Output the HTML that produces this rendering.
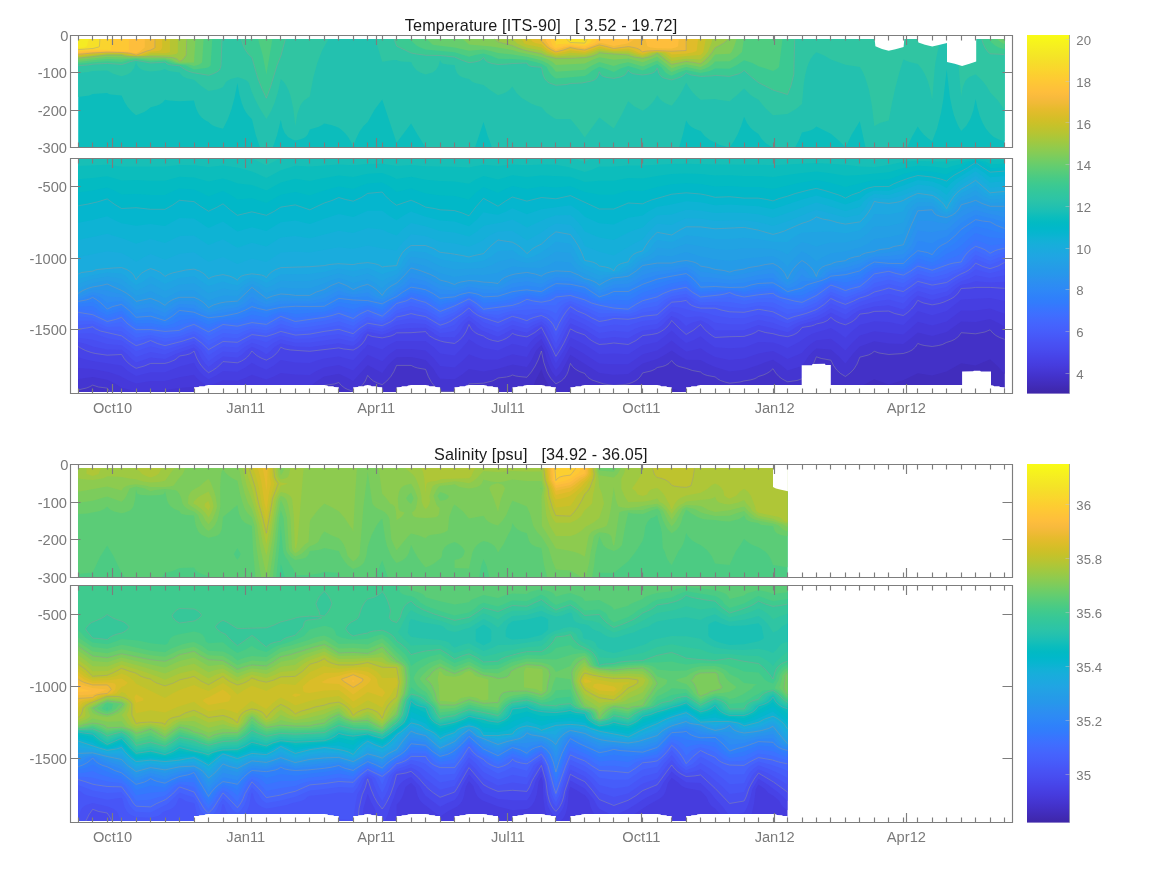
<!DOCTYPE html>
<html><head><meta charset="utf-8"><title>Temperature and Salinity sections</title>
<style>html,body{margin:0;padding:0;background:#fff;width:1167px;height:875px;overflow:hidden}</style></head>
<body>
<svg width="1167" height="875" viewBox="0 0 1167 875" style="display:block;position:absolute;left:0;top:0">
<rect width="1167" height="875" fill="#fff"/>
<g fill-rule="evenodd" stroke="none">
<rect x="78.2" y="39" width="926.4" height="108.5" fill="#0cbdbc"/>
<path fill="#23c1af" d="M78.2 39l926.4 0 0 102.3-5.8-1.8-5-2.5-3.7-3.2-4.3-5.3-3.1-5.5-2.9-7-2.3-8-1.9-9-2.3 11.5-3 8.5-3.8 6.5-5.3 5.4-2.9-4.9-2.2-5-2.2-6-1.8-7-2.3-11.5-3.1-27.1-3.4 30.1-2.3 13.5-3.9 15.5-4.9 12.7-4.6-3.2-3.9-3.5-3.3-4-2.6-4.1-5.7 10.1-5 11-41.6 0-5.7-26.3-8.1 13.3-6.3 13-0.1-0.5-5.5-5.5-8.9-7.7-14.5-7.4-2.3 2.1-2.7 1.5-2.9 1-6.5 1.4-3.2 8.1-3.8 7-22 0-4.7-2.5-3.3-2.5-3.7-4-2.8-4.6-4.4-2.9-3.4-3-3.7-5-2.9-6.2-3 9.2-3.3 8-3.8 7-4.4 6.5-9.6-2.5-10.2-5-5.1-4-4.1-5.1-5.5-1.9-4.3-2.5-2.5-2.5-2.1-3.5-3.5 14.5-3.6 12.5-187.1 0-4.4-12-4.1-13.5-8.5 25.5-49.4 0-8.4-13.5-6.1-10.6-14.5 19.3-14.4-43.3-7.5 10.1-7 12.4-4.6 4.6-3.5 5-3.7 7.5-2.7 8.5-1.9-5-2.8-5-3.1-4-3.7-3.5-2.9-2.2-3.1-1.3-4.5-1.5-6.9-1.6-3 2.1-3.2 1.5-8.3 2.4-2.1 5.1-1.7 2-2.1 1.5-3.9 1.5-4.7 1-2.8-1-4.4-2.5-3.4-4-2.3-5.5-1.6-7.7-3.7 15.2-4.3 12.5-12.8 0-4.4-13-3.7-15.5-3.1-3-2.7-3.5-2.2-4-2-5-2.5-9-2-11.6-2.8 14.6-3.2 12-3.7 10-4.7 9.2-6.5-1.7-3.6-1.5-2.3-1.5-2.1-2-3.7-2-3.2-2.5-2.5-3-1.9-3.5-1.7-4.5-1.5-6-14.5 0.8-10.8-0.8-3.7-0.7-2.4 2.7-3 2-4 1.5-5 1.2-3.3 2.8-3.1 2-8.1 3.3-4.5-3.8-3.9-4.5-3.1-5-3-6.6-10.7-0.9-2-0.5-1.7-1-14.5 0.9-3.5 1.6-11 1.4z"/>
<path fill="#30c5a2" d="M78.2 39l250.4 0-6.5 11.5-4.8 12.5-4.1 15-3.4 18.5-5.8 4-2.1 2.5-1.8 3-2.8 8-2 12.1-2.1-18.1-2.9-13-1.9-5-2.2-4.5-2.4-3.5-3-3-3 13.5-3.1 10-3.8 9-4.5 7.5-5.7-9-5.1-9.5-3.8-8.5-3.1-9.5-2.8-2.5-5.4-2-3.1-0.7-6.4 1.7-3.1 1.5-1.9 1.5-3 5.1-1.7 0.9-4.4 1.5-8.4 1.4-7.9-5.4-6.6-5.7-6.5-1.3-4.5-2-1.7-1.5-1.8-2.6-10.5-1.4-2.5-1-1.5-1-4.5 1.5-9.9 1-6.1-1-2.9-1-2.8-2-1.7-2.5-1-3-1.8 5.5-2.7 4-1.8 1.5-2.6 1.5-5.6 1.8-7.8-2.3-6.6-3.6-14.5 0.5-4.2 1.1-10.3 1zM375.3 39l566.1 0-3.3 10-2.5 12.5-1 8-2.4 30.1-2-10.1-2.4-8.5-3-7-3.3-5.5-3.7-4.4-8.3-2.1-6.2-2.4-4.1 13.4-3.8 14.5-3.4 15.5-3.2 17.4-9 2.6-5.5 3.2-2.4-20.7-3-16-3.9-12.5-2.5-5.5-2.6-4.5-14.5-2.2-14.5-5.2-6.7-4.1-7.8-3.3-3.3 3.3-2.5 3.5-2.2 4.5-1.8 5.5-1.5 6.5-1.3 8-1.8 20.5-6 5-8.5 4.9-14.5 1.4-7.8-7.3-6.7-8.2-4.9-2.8-3.6-2.5-5.9-5.9-7 6.4-7.5 6.2-9.5-1.2-5-1-14.5 0.7-4.4-3.7-3.4-3.5-3.4-4.5-3.2-5.2-3.6 7.2-3.2 5.5-3.5 5-4.2 5.2-5.7-2.2-3.4-2-2.7-2.5-2.7-3.7-2.8 4.7-3.2 4-3.7 3.5-4.8 3.3-8.2-4.3-6.3-5.3-7 14.3-7.4 13.1-14.5-11.1-14.5 20-6.9-9.5-7.5-9-14.5 0-2.8-1.5-6.4-4.5-5.3-5.9-5.5-1.6-4.9-2-9.2-5.5-5.2-5-4.2-6.6-2.6 3.1-3.3 2.5-3.1 1.5-5.4 1.8-8-5.3-6.5-5.1-8.5-1.9-3.1-1.5-2.8-2.5-4.5-1-3.8-1.5-2.1-1.5-1.9-2.5-1.2-3-1-4.5-7.2-0.5-4.9-1-1.6-1.5-0.8-2-1.7 6-2.5 4-3.5 2.5-6.8 2-5.4-2-3.8-2.5-3-3.5-2.3-4.5-9.4-0.5-3-0.5-2.1-1.1-3 0.1-11.4 1.7zM952 39l52.6 0 0 71-6.7-9.5-7.8-8.2-3-5.3-3.3-4.5-3.6-4-4.6-4.2-6.2 2.7-2.5 2-1.6 2-2.5 6-1.6 9.6-2.3-27.1-1.2-9-2.5-12z"/>
<path fill="#3bc992" d="M78.2 39l143.8 0-1.1 27-1.4 4-1.2 1-4.5 2.5-5.3 1.8-16.3-2.8-7.3-3-5.4-3.7-10.9-1.3-2.2-1-1.4-1.5-3.6 0.5-10.8 0.5-14.5-2.6-5.5 1.1-5.1 2-3.9 1-14.4-1.1-14.5 0.8-4.4 0.8-10.1 0.7zM241.3 39l44.1 0-4.4 16.5-3.8 9.5-6.9 22.5-3.9 10.7-4.1-8.7-3.8-9.5-6.6-22.6-3.7-3.4-2.8-4-2.3-5zM394.1 39l400.6 0-0.9 35.5-2.9 11.5-3.4 8.5-14.5-4.5-14.5-7.4-14.4-12.2-2.8 2.1-3.1 1.5-8.6 2.4-14.5-1-4.2 0.6-10.3 0.4-9.2-1.4-5.2-2.2-3 2.7-2.6 1.5-8.9 2.9-6.4-1.4-4.1-2-2.3-3-1.7-5.5-1.6 3-2.9 2-3.5 1-6.5 1-10.4-1.5-2.6-1.5-1.4-2.1-2 3.6-2.3 2-3.6 1.5-6.6 1.4-6.7-0.9-3.7-1-2.7-2-1.4-2.9-1.1 3.9-1.4 2.5-2.5 2-2.5 1-9.9 2-11.6 0.5-3.6 1-10.8 0.8-6.5-2.3-3.7-3-1.3-2-1.3-3-1.7-7.7-11.5-1.3-1.8-1-1.2-2-14.5 0.5-14.4 1-6.1-1-4.3-1.5-2.5-2-1.6-2.5-1.8 2-2.9 1.5-9.8 1.7-7.7-2.7-6.7-3-14.5-1.5-14.5-0.2-9.3-1.3-5.2-1-14.5-7zM981.7 39l22.9 0 0 15.5-14.5-0.7-2.8-2.8-2.4-3.5-1.8-4z"/>
<path fill="#4fcc80" d="M78.2 39l134.1 0-1.7 26.5-2.1 1.7-2.7 0.8-11.8 1.5-8.1-4-13.6-2-7.3-2.9-14.4 0.8-14.5-1.9-9.1 1-5.4 1.5-14.4-0.8-14.5 1-14.5 1.5zM258 39l14.4 0-6 35.4-3.7-19.4zM409.3 39l373.2 0-3.5 28-2.3 2-3.7 1.9-14.5-4.7-6-3.2-8.4-2.7-7.1 4.7-7.4 3.7-14.5-0.3-5.2 2.6-9.3 2.1-14.4-3.2-7.5 2.6-7 3.3-3.2-1.3-3-2-4-5-4.3-3.4-14.5 6.5-14.5-4.6-7.7 2.5-6.7 3.6-7.5-3.1-7-2.2-7.6 4.2-3.5 3-3.4 2-28.9 2.4-2.7-1.9-2.5-2.5-2.1-3-1.9-4-5.3-3.3-6.1-1.7-8.4-2.1-14.5-1-14.4-0.1-6.3-2.8-8.2-2.5-8.3 1.5-6.2 1.7-14.4-4.4-29-2.9-5.4-1.9-3.7-2zM989.2 39l15.4 0 0 10.3-5.8-1.8-3.8-2-3.5-3z"/>
<path fill="#67cd6d" d="M78.2 39l125.4 0-1.5 23.5-2.8 2-5.3 1.6-5.1-1.6-9.4-0.8-3.8-0.7-6.5-2.5-4.2-1.1-14.4 0.4-14.5-1.3-9.4 0.5-5.1 0.6-14.4-0.5-14.5 1.1-14.5 1.7zM426.7 39l317.2 0-1.9 13-5.1 4.5-7.3 4.7-14.5 0.3-2.3 2.5-3.4 2.5-4.1 2-4.7 1.5-14.4-2.9-8.3 2.4-6.2 2.5-3-2-2.6-2.5-8.9-7.1-14.5 6.1-14.5-4.2-8.5 1.7-5.9 1.9-14.5-3.9-7.4 3.5-7.1 4.3-28.9 1.9-3.8-4.7-4.4-3.5-6.3-3.1-5.3-1.4-9.2-2.2-14.5-2.3-14.4-1.4-7.3-2.1-7.2-1.5-14.5 1.3-14.4-3.2-20.5-2.6-1.6-0.5zM996.9 39l7.7 0 0 5.2-4-2.2z"/>
<path fill="#81cc58" d="M78.2 39l117.3 0-1.5 23.5-14.5 0.3-3.2-0.8-4.7-2.5-6.6-1.3-14.4 0-43.4-1.2-29 3zM462.8 39l273.8 0-2.6 8-2.7 5.5-1.7 1.2-14.5 0.9-3.4 4.4-3.4 3.5-1.8 1.5-3.7 2-2.2 0.9-14.4-2.7-7.6 1.8-6.9 2.2-14.5-11.5-14.5 5.6-14.5-3.7-14.4 1.2-14.5-2.5-7.2 2.7-7.3 3.6-28.9 1.3-4-3.4-6-3-6.8-2-20.4-4.5-6.3-2-20.8-3.5-22.6-1.9z"/>
<path fill="#9cc944" d="M78.2 39l108.5 0-0.5 16-2.9 4-2.4 2-1.4 0.6-2.5-2.6-2.7-1-2.8-0.5-6.5-0.5-35-0.5-5.5-0.5-2.9-1-14.4 0-29 3.2zM494.4 39l233.9 0-5.4 4.5-7.8 4.2-3.1 4.8-3.2 4-4 4-4.2 3.3-14.4-2.4-14.5 3-14.5-11.4-2.1 1.5-3.1 1.5-9.3 2.3-8.4-1.3-6.1-2.1-21-1.4-7.9-0.9-2.1 1.4-3.3 1.5-9.1 2-14.4 0.8-14.5 0-9.7-2.3-4.8-2.3-19-4.2-10-4-13.8-3.5z"/>
<path fill="#b5c533" d="M78.2 39l99.7 0 0 13-0.5 1-1.3 1-6.7 1-18.8 0-6 1-8.5 0.3-9.2-0.8-5.3-1.2-14.4-0.1-29 3zM511.8 39l200.5 0-0.5 3-4 10-3 3.5-4.2 3.9-14.4-0.6-14.5 2.3-10.3-8.1-4.2-0.6-4.2 0.6-4.1 2-6.2 1.7-5.9-1.2-8.6-2.7-14.4-0.4-14.5-1.8-8.8 3.4-5.7 1.6-14.4-0.1-14.5 1.1-8.8-2.6-5.7-3.4-14.5-2.9-4.7-1.7-4.9-2.5-3.2-3z"/>
<path fill="#ccc028" d="M78.2 39l91.7 0 0 13-0.9 0.5-4 0.8-14.4 0-4.7 1.7-9.8 0.9-5-0.4-9.5-1.8-14.4-0.1-14.5 1.1-14.5 1.6zM521.6 39l184.2 0-2.5 13-2.7 2.9-14.4 1.2-14.5 1.7-6.1-4.8-2.4-0.5-6-0.6-5.6 0.6-2.7 0.5-6.2 2.2-8.3-2.2-6.2-2.2-14.4 0.3-14.5-2.4-14.5 5-14.4-0.9-5.7 1.2-8.8 1.1-8.3-3.1-6.2-4.6-14.5-2.8-2.5-1.1z"/>
<path fill="#e0bc2a" d="M78.2 39l84 0 0 8.5-1.3 2.5-1.1 0.5-1.9 0.5-7.3 0.7-9.3 3.3-4.1 0.5-1.9 0-6.8-1.5-6.9-0.9-14.4-0.2-14.5 0.9-14.5 1.6zM531.1 39l167 0-1.4 11.5-1.2 1-3.1 1-6.2 0.9-14.5 1.1-1.9-1.5-1.3-0.5-2.3-0.5-9-0.7-7.9 0.7-6.6 1.7-4.4-1.2-5.3-2.5-4.8-1.3-14.4 1.1-7.7-1.3-6.8-1.7-14.5 5.1-14.4-1.7-6.1 1.8-8.4 1.5-4.1-1.5-3.6-2-3.4-2.5-3.4-3.2-5.9-1.3-2.3-1-1.4-1z"/>
<path fill="#f1ba37" d="M78.2 39l76.7 0 0 8.5-0.3 0.5-2.7 1.5-5.2 1.5-10.6 4.1-3-1.1-5.7-1-5.8-0.5-14.4-0.3-14.5 0.8-14.5 1.4zM540.7 39l145.5 0 0 11.5-14.5 0.7-14.5-0.6-10.5 0.4-3 0.5-1 0.6-1.6-1.6-2.3-1.5-7.1-2-3.5-0.4-14.4 1.9-14.5-3.7-14.5 5.2-7.5-1-7-1.5-6.8 2.5-7.6 1.9-4.8-2.4-4.3-3-2.5-3-2.9-2.5z"/>
<path fill="#febe3c" d="M78.2 39l66.6 0 0 8.5-5.6 4.5-3.1 1.3-8.8-1.3-20.1-0.5-14.5 0.4-14.5 1.3zM545.7 39l88.7 0-4 3-3 1.5-13.6 2.6-10-2.6-4.5-0.8-5.1 2.3-9.4 3.3-14.4-2-6.2 1.2-8.3 2.6-6-3.6-3.9-5.5zM645.4 39l33.4 0-0.7 7-0.3 0.5-2.3 1-3.8 1-14.5-0.2-6.5-0.8-3-1-0.5-0.5z"/>
<path fill="#fec834" d="M78.2 39l50.7 0 0 11-0.5 0.5-6.8 0.3-28.9 0-14.5 1.2zM550.4 39l46.7 0-1.2 3-2.7 1.5-8.4 3.2-14.4-1.7-6.4 1-8.1 2.2-3.2-2.2-2.1-5z"/>
<path fill="#fad42e" d="M78.2 39l32.6 0 0 11-18.1-0.4-14.5 1.2zM555.1 39l37.1 0-1.1 2.5-1.5 1.5-4.8 2-14.4-1.2-10.5 0.2-3 0.5-1 1.5z"/>
<path fill="#f6e028" d="M78.2 39l21.7 0-0.5 7.5-2.1 1-4.4 1-14.7 1.1zM566.4 39l20.8 0-2.4 4.1-14.6-0.6z"/>
<path fill="#f5eb23" d="M78.2 39l10.6 0-2.1 7.5-2.9 1-5.6 0.6z"/>
<path fill="none" stroke="#969696" stroke-width="0.7" stroke-opacity="0.62" d="M222 39l-1 26.5-0.8 3-0.7 1.5-2.7 2-3 1.5-5.3 1.8-16.3-2.8-4.2-1.5-3.1-1.5-5.4-3.7-8.4-0.8-2.5-0.5-2.2-1-1.4-1.5-3.6 0.5-10.8 0.5-14.5-2.6-5.5 1.1-5.1 2-3.9 1-14.4-1.1-14.5 0.8-4.4 0.8-10.1 0.7M285.4 39l-4.4 16.5-3.8 9.5-6.9 22.5-3.9 10.7-4.1-8.7-3.8-9.5-1.8-5.5-4.8-17.1-3.7-3.4-2.8-4-2.3-5-1.8-6M794.7 39l-0.9 35.5-2.9 11.5-3.4 8.5-14.5-4.5-14.5-7.4-7-5.6-7.4-6.6-2.8 2.1-3.1 1.5-8.6 2.4-14.5-1-4.2 0.6-10.3 0.4-9.2-1.4-3-1-2.2-1.2-3 2.7-2.6 1.5-4 1.5-4.9 1.4-6.4-1.4-2.5-1-1.6-1-1.4-1.5-0.9-1.5-1.7-5.5-1.6 3-1.1 1-1.8 1-3.5 1-6.5 1-8.3-1-2.1-0.5-2.6-1.5-1.4-2.1-2 3.6-2.3 2-3.6 1.5-6.6 1.4-6.7-0.9-3.7-1-1.7-1-1-1-1.4-2.9-1.1 3.9-1.4 2.5-2.5 2-2.5 1-9.9 2-11.6 0.5-3.6 1-10.8 0.8-6.5-2.3-2.2-1.5-1.5-1.5-1.3-2-1.3-3-1.7-7.7-9.3-0.8-2.2-0.5-1.8-1-1.2-2-14.5 0.5-4.1 0.5-10.3 0.5-6.1-1-4.3-1.5-2.5-2-1.6-2.5-1.8 2-2.9 1.5-4.2 1-5.6 0.7-7.7-2.7-6.7-3-14.5-1.5-14.5-0.2-9.3-1.3-5.2-1-14.5-7-2.5-7M1004.6 54.5l-14.5-0.7-2.8-2.8-2.4-3.5-1.8-4-1.4-4.5M186.7 39l-0.5 16-1.2 2-1.7 2-2.4 2-1.4 0.6-1.2-1.6-1.3-1-2.7-1-2.8-0.5-6.5-0.5-14.4-0.3-14.5 0.1-6.1-0.3-5.5-0.5-2.9-1-14.4 0-29 3.2M728.3 39l-3.3 3-2.1 1.5-4.2 2.5-3.6 1.7-3.1 4.8-3.2 4-4 4-4.2 3.3-6.3-1.3-8.1-1.1-14.5 3-7.3-5.4-7.2-6-2.1 1.5-3.1 1.5-3.2 1-6.1 1.3-8.4-1.3-3.6-1-2.5-1.1-21-1.4-7.9-0.9-2.1 1.4-3.3 1.5-3.7 1-5.4 1-14.4 0.8-14.5 0-9.7-2.3-4.8-2.3-14.5-2.9-4.5-1.3-5.7-2-4.3-2-13.8-3.5-1.1-0.5-3.1-2.5M154.9 39l0 8.5-0.3 0.5-4 2-3.9 1-10.1 4-0.9 0-4.8-1.5-3.5-0.5-5.8-0.5-14.4-0.3-14.5 0.8-14.5 1.4M686.1 39l0 11.5-14.5 0.7-14.5-0.6-10.5 0.4-3 0.5-1 0.6-1.6-1.6-2.3-1.5-2.7-1-4.4-1-3.5-0.4-14.4 1.9-7.1-2-7.4-1.7-14.5 5.2-7.5-1-7-1.5-6.8 2.5-7.6 1.9-4.8-2.4-4.3-3-2.5-3-2.9-2.5-0.7-2M99.9 39l-0.5 7.5-0.8 0.5-5.7 1.5-14.7 1.1M587.2 39l-2.4 4.1-14.6-0.6-3.8-3.5"/>
<rect x="78.2" y="159" width="926.4" height="233" fill="#4029b3"/>
<path fill="#412dbd" d="M78.2 159l926.4 0 0 233-11.8 0-2.7-3.2-5.6 3.2-441.5 0-1.6-4.3-1.7 4.3-461.5 0z"/>
<path fill="#4331c7" d="M78.2 159l926.4 0 0 215-6.7-7.5-7.8-7.3-14.5 6.4-14.4-2.4-14.5 8.2-14.5 4.2-14.4-2.3-14.5 7-14.5 4.3-14.5-5.3-14.5 7.8-3.2 4.9-24.1 0-1.6-2.1-3.9-2.9-10.6-6.5-6.3 11.5-126.8 0-11.6-3.4-13.3 3.4-83.5 0-4.5-3.7-2.9 3.7-16.5 0-3.2-8-3.9-7-2.5-7.7-5.7 10.7-4.6 12-113.7 0-6.3-2.8-14.5-0.2-2 3-316.4 0z"/>
<path fill="#4435d1" d="M78.2 159l926.4 0 0 180.4-5-1.9-3.7-2-3.1-2.5-2.7-3.2-5.2 2.2-9.3 1.8-14.4-1.1-2.7 3.8-4 3-8.1 3-3.9 2-3.8 1-6.5 1-7.9-1-4-1-2.5-1.1-2.3 3.6-3.3 3-4 2-4.9 1.5-14.5 1-9.8-1.5-4.7-1.7-2.8 2.2-3.1 1.5-8.6 2.2-2.7 6.8-3.1 5-3.8 4-4.8 3.5-4.9-3-3.8-3.5-3.2-4.5-2.6-5.3-9.6-1.7-4.9-1.7-3 7.2-3.2 5.5-3.4 4.5-4.8 4.8-5 1.7-9.5 1.3-5.3-2.8-3.3-2.5-3.2-3.5-2.7-4.3-3.1 2.8-3.2 2-8.2 3-4.6 2.5-13.7 3-10.6 1.2-9.1-2.7-2.7-1.5-2.7-2.1-7.8-1.4-3-1-3.7-2.5-8.3-1.5-5.7-2-7.6-2-4.4-2.5-2.9-3.5-2.8 3-3.5 2-8 2-2.9 2-3.5 1.5-8.3 1.9-1.9 3.1-2.2 2.5-2.6 2-3.8 2-4 1.4-3.1 0.6-11.3 0.9-9.9-1.4-12-4-3.9-2.5-3.2-4-5.5-2-4.2-2.5-2.6-2.5-2.1-3.1-2.3 8.1-2.9 5.5-4 4-5.3 2.9-5-5.4-4-7-3.1-9-2.4-11.5-2.8 8-3.4 7-3.8 6-4.5 5.3-8.1-0.8-6.4-1.5-2 1-3.9 1-8.5 1-5.7 3-8.8 2.2-14.5 0.7-2 2.6-2.8 2-3.7 1.5-5.9 1.4-14.5 0-5-4.4-3.5-4.5-3.3-6-2.7-7.1-8-1.4-3.2-1-3.3-1.6-14.5 0-2.7 6.1-3.1 5-4 4.5-4.6 3.7-4.9-1.7-3.9-2-3.1-2.5-2.6-3.1-2.4 5.6-3.2 4.5-3.5 3-5.4 2.9-5.5-1.9-3-1.5-3.3-2.5-2.6-3-4.4 1.5-10.1 1.4-2.2 3.6-2.4 3-209.4 0-3.1-3.9-8.8-1.1-5.7-1.9-6.2 2.9-8.3 1.9z"/>
<path fill="#4639da" d="M78.2 159l926.4 0 0 167.6-7.1-4.1-7.4-3.5-14.5 3.1-14.4-0.5-14.5 10.3-14.5 4.1-14.4-3.5-7.2 6-7.3 5.4-14.5-0.3-14.5-2.4-14.5 5.2-7.5 8.1-6.9 9-7-7.5-7.5-6.6-14.5-0.9-4.1 3.5-3.7 4-6.6 9.9-14.5 4.5-6.5-5.4-8-5.2-7.1 2.2-7.4 2.9-14.4 4.9-14.5 1.7-14.5-4.6-8-3.4-6.5-3.4-14.4-0.3-7.3-4.3-7.2-5.1-7.2 4.6-7.3 4-14.5 4.4-14.5 10.6-14.4 0.8-14.5-1.9-28.9-18.2-8.4 15.8-2.7 3.5-3.4 3-3.7-5-2.9-5.5-2.6-7-2.3-8.5-3-6-5.6 6-4 8.5-4.9 7.6-14.5-2.5-14.4 4.2-14.5 2.6-14.5-2.4-6.9 5.5-7.5 4.8-14.5-0.6-3.2-4.2-3.6-6-7.7-8.6-14.5-2.8-14.5 0.1-4 3.3-4 4-6.4 8.4-14.5-7.9-14.5 16-7.3-4-7.1-3.2-14.5 2.6-7.4 4.6-7.1 5.8-14.5-0.1-14.5-0.9-14.4 3.3-14.5-2.3-14.5 2.9-14.4-0.3-12.9 2.6-2.7 0-5.6-1.5-3.8-1.5-4-2.2-14.5 1.2-14.5 1.9-14.4 0-14.5 1.2-3.5-0.6-11-2.8-6.6-4.2-7.8-3.7-14.5-2.8-14.5 2z"/>
<path fill="#463ee1" d="M78.2 159l926.4 0 0 154.8-14.5-5.3-14.5 2-14.4 0-14.5 11-14.5 4.1-14.4-3.8-7.3 6.7-7.2 6-29-3.2-14.5 4.3-7.3 6.9-7.1 8.1-6.8-6.1-7.7-5.8-14.5 1.6-4.2 2.7-3.9 3-3.5 3.5-2.8 3.5-14.5 6.1-6.6-4.1-7.9-3.9-14.5 2.3-14.4 5.2-14.5 1.3-14.5-2.8-7.4-4.1-7.1-4.8-6.8 1.8-7.6 1.4-7.8-5.4-6.7-5.6-6.8 5.1-7.7 4.9-14.5 3.8-14.5 10-14.4 0-14.5-0.8-17.2-10.9-11.7-6.4-7 12.9-4.6 7.5-2.9 3.6-4.1-7.1-4.4-12-6-11.9-4.7 3.9-3.6 4-2.6 3.5-3.6 6.5-14.5-2.8-14.4 5.5-14.5-0.1-7.7-2.6-6.8-2.8-6.7 6.8-7.7 6.4-14.5-1.4-6.9-8.5-7.6-7.1-14.5-1.4-14.5 0.1-7.7 5.4-6.7 6.7-14.5-6.4-14.5 15.8-14.4-5.5-14.5 2.3-8 3.6-6.5 4-14.5-0.4-14.5-1.7-6.9 3.6-7.5 2.9-14.5-4.6-6.7 3.2-7.8 2.8-14.4-0.6-6.2 2.8-8.3 2.7-4.7-2.2-3.8-2.5-3.3-3-2.7-3.2-14.5 2.5-14.5 3.7-14.4 0-14.5 2.5-7.6-3-9.4-5-10.5-3.5-15.9-3-14.5-0.9z"/>
<path fill="#4743e7" d="M78.2 159l926.4 0 0 142.1-14.5-3.2-28.9 1.6-14.5 11.6-14.5 4.1-14.4-4.2-3.2 3.5-11.3 10.5-14.5-3.1-14.5-0.6-14.4 3.5-7.7 6.2-6.8 6.7-7.1-5.2-7.4-4.5-6 2-8.5 2.2-4.6 1.8-4.7 2.5-8.2 5.5-11.4 5.9-6.7-2.9-7.8-2.6-14.5-0.5-14.4 5.6-14.5 0.7-14.5-0.9-7.7-5.3-6.8-5.7-6.7 3.7-7.8 3-7.4-6-7-6.6-7.1 6.1-7.4 5.4-14.5 3-14.5 9.4-14.4-0.7-14.5 0.4-14.5-9.5-14.4-7-6.4 13-8.1 12.8-2.7-5.3-3.5-8.5-8.3-16.2-5.7 3.7-2.3 2-3.3 3.5-3.2 4.4-14.5-3.1-14.4 6.8-14.5-2.8-7.3-3.8-7.2-4.7-1.8 2.7-5.2 6-7.4 7.4-14.5-2-6.5-6.4-8-6-29 0-8.1 4-6.3 4.5-14.5-4.9-2.2 2.9-2.8 2.5-9.5 10.3-14.4-3.8-14.5 1.9-7.6 2.1-6.9 2.6-14.5-0.6-14.5-2.4-7 5.4-7.4 4.3-7.6-3.3-6.9-3.7-6.5 4.7-8 4.3-14.4-0.9-6.8 4.6-7.7 3.7-4.5-3.2-4.6-4.5-2.9-4-2.5-4.7-14.5 3.8-14.5 5.6-14.4 0-14.5 3.7-8.2-4.9-6.3-5.5-28.9-4.5-6.9-1.5-7.6-2.2z"/>
<path fill="#4848ec" d="M78.2 159l926.4 0 0 129.4-14.5-1-14.5 0-4.6 0.6-9.8 0.5-3.3 5-3.8 3.5-3.4 2-6.7 3-4.6 1.5-7.2 1.4-8.5-1.9-5.9-2.7-3 4.7-3.3 4-3.8 3.5-4.4 3-8.7-2-5.8-2.4-14.5 0.3-5.6 1.6-8.9 1.1-2.6 3.4-3.4 3-3.2 2-5.2 2.3-9-3.3-3.1-2-2.4-2.1-3.4 3.1-4.4 2-6.7 1.5-5.1 2-9.3 1.5-2.2 3-2.8 2.5-3.9 2-5.6 1.7-8-1.2-6.5-1.8-7.7-1.2-6.8-2.1-6.5 3.6-7.9 2.4-14.5 0.3-14.5 0.8-4-2.5-3.8-3-3.5-3.5-3.2-4-6.8 5.5-7.6 4.5-7.3-6.5-7.2-7.5-2.2 3.5-2.5 3-2.9 2.5-3.1 2-3.8 1.9-5.4 1.1-9.1 1.1-6.6 4.9-7.9 4-14.4-1.5-14.5 1.5-7.8-4-3.4-2.5-3.3-3.1-8.7-2.9-5.7-3.1-6.7 14.6-7.8 12.9-7.1-14.9-7.4-14.1-6.5 5.1-8 4.4-8.7-1.4-5.8-2.1-3.2 3.1-3.1 2-8.1 3-8.6-2-3.2-1.5-2.8-2-4.7-1.5-2.9-1.5-4-3.5-2.8-5-2.6 6.5-3.1 5-3.7 4-5 3.5-10.3-1.5-9.5-3-5.2-3-4-4.4-14.5 1.1-14.5 0.2-2.2 1.6-3.4 1.5-8.8 1.9-9.8-1.4-4.7-2-2.7 5.5-3 4-4.1 3.5-4.7 2.5-9.5-1-4.9-1.1-29 3.4-19.4-1.3-5.6-1-4-1.7-2.7 4.2-3.3 3.5-3.3 2.5-5.1 2.6-4.3-1.6-3.9-2-3.4-2.5-2.9-3-2.3 3.5-2.2 2.5-2.4 2-3.4 2-4.2 1.8-14.4-1.2-3.2 3.4-3.5 3-7.8 4.7-4.8-4.2-3.6-4.5-3.4-6-2.7-7-1.7 1.5-2.9 1.5-3.5 1-6.4 1-2 2-2.8 2-6.1 2.5-3.6 0.9-14.4 0-6.2 2.6-8.3 2.3-4.8-2.8-3.7-3-3.1-3.5-2.9-4.5-14.4 0.7-11.9-1.7-4.2-1-5.7-2-7.2-4z"/>
<path fill="#484ef1" d="M78.2 159l926.4 0 0 122.8-14.5 0.8-14.5-1.3-7.3 2.2-7.1 1.3-5.4 3.7-5 5-4.1 2.6-14.5 3.8-14.4-4.4-5.5 4.5-4.6 5.5-4.4 4-14.5-4.2-14.5 1.2-14.5 3.5-6.8 4-3.4 3-4.2 2.6-14.5-7-5.4 3.4-6.6 3.5-16.9 4.7-3 1.3-4 2-3.1 2.5-4.4 2.3-14.5-4.1-14.5-3.1-14.4 5.2-29-0.1-7-6.2-7.5-3.7-8.1 2.2-3.4 1.5-2.9 2-6.4-6-3.3-2-4.8-2.1-5.3 4.6-4.1 4.5-5.1 3.7-14.5 2.1-7.3 3.2-7.2 4.2-14.4-1.3-14.5 1.8-14.5-9.1-14.4-6.3-3.3 5.2-5.4 11.5-5.8 9.9-11.1-22.4-3.4-3.1-6.3 3.1-8.2 5.3-14.5-3.7-14.4 7.7-16.4-6.3-3.6-2.5-3.2-3.5-5.8-4.2-4.8 4.2-4.1 7-5.5 5.7-14.5-0.3-4.6-2.4-3.9-3-6-3.7-14.5 0.1-14.5 1-6.6 3.1-7.8 2.8-14.5-3.2-3.8 2.9-2.5 4-3.1 3.5-5.1 3.9-14.4-2.6-29 3.6-14.5-0.3-14.5-3.4-6.4 3.8-3.8 4-4.2 3.2-6.8-4.2-7.7-3.2-5.7 3.7-4.1 4-4.7 3.1-14.4-1-7.4 4.9-7.1 5.5-3.3-3.5-2.6-3.5-2.4-4-2.3-5-3.9-3.5-18.6 6.5-10.4 4.9-14.4-1.3-14.5 5-4.5-3.6-4-4.5-6-4.7-14.4-0.3-14.5-3.1-6.6-2.4-7.9-1.9z"/>
<path fill="#4853f5" d="M78.2 159l926.4 0 0 116.3-14.5 2.7-14.5-2.8-6.1 3.3-8.3 2.7-7.5 4.8-7 5.6-14.5 3.3-14.4-4.1-7.4 5.7-7.1 7-14.5-4-14.5 2.2-14.5 4.3-7.6 4-6.8 4.6-14.5-6.7-6.5 4.6-8 4.3-17 5.2-6.8 3-5.1 2.9-7.6-2.4-6.9-2.8-14.5-2.9-14.4 4.5-14.5-0.1-14.5-1.4-6.3-3.8-7.3-2.5-5.8 0-9.5 1-5.9-3.5-8.6-2.7-14.5 12.8-14.5 1.8-7.2 2.6-7.3 3.4-14.4-1.1-14.5 2.2-14.5-8.6-14.4-6.7-5.4 8.3-9.1 17.4-7.8-15.9-2.7-3-4-3-8.1 3.5-6.4 3.7-14.5-3.9-14.4 7.2-14.5-5.1-14.5-10.8-4.4 3.4-3.7 3.5-6.3 8-9.7 1.5-4.8 0.5-14.5-8.9-14.5-1-14.5 1.9-6.6 3.5-7.8 3.2-14.5-2.9-7.1 5.2-3.7 4.5-3.7 3.3-14.4-3.2-29 4-14.5 0.2-14.5-3.5-8.3 4.2-6.1 4.7-7.1-3.2-7.4-2.3-7.9 4.8-6.6 5-14.4-0.9-7.2 4.4-7.3 5.2-3.6-4.7-3.6-6-7.3-6.4-20.6 6.9-8.4 3.5-14.4-2.6-14.5 5.1-6.6-6-7.9-5.8-14.4-1.3-14.5-4.1-14.5-2z"/>
<path fill="#4758f8" d="M78.2 159l926.4 0 0 109.8-5.9 2.2-8.6 2.3-7.3-1.8-7.2-2.3-4.7 3.8-13.2 6.5-5.6 3.5-5.4 4.1-14.5 2.9-14.4-3.9-7.8 5.4-6.7 6-14.5-3.7-14.5 3.1-14.5 5.1-7.6 3.5-6.8 4-14.5-6.3-6.7 5.3-7.8 4.7-20.9 6.8-8 3.6-7.9-3.1-6.6-3.2-14.5-2.7-14.5 3.7-14.4-0.3-14.5-2.6-9-2.4-13.3-2-10.6-3-10.5-1.3-14.5 12.7-14.5 1.7-7.1 1.9-7.4 2.5-14.4-0.9-14.5 2.6-10.1-5.7-18.8-9.3-6.8 9.8-7.7 14.9-4.5-9.4-1.7-2.5-3.5-3.5-4.8-3-8.1 3-6.4 3.2-14.5-4.2-14.4 6.8-14.5-5-5.7-4.3-5.3-3-3.5-3-8.8 6.5-5.6 6.2-5.9 2.3-8.6 2.1-14.5-8.8-14.5-2-14.5 2.7-5.4 3.5-9 4.2-14.5-2.7-8.7 6-5.8 5.7-14.4-3.7-14.5 1.9-14.5 2.5-14.5 0.6-14.5-3.6-8 3.1-6.4 3.8-5.7-1.8-8.8-1.9-8 4.4-6.5 4.4-14.4-0.9-7.8 4.5-6.7 4.5-4.2-6-4.8-4.5-5.5-4.3-29 9.4-14.4-3.9-14.5 5.1-6.4-5.3-8.1-5.5-14.4-2.2-14.5-5.1-14.5 0.3z"/>
<path fill="#465dfa" d="M78.2 159l926.4 0 0 103.4-6.5 3.6-8 2.7-7.3-2.2-7.2-3.3-3.1 3.8-3.6 3-12.7 6.5-9.5 6-14.5 2.6-14.4-3.7-6.9 5.1-7.6 5-7.4-1.5-7.1-2-14.5 4-5.3 3-9.2 3-14.4 6.4-8.2-2.9-6.3-3-6.8 6-7.7 5.1-10.5 3.9-12.8 3.5-5.6 2.2-14.5-7.4-14.5-2.5-14.5 3-14.4-0.5-8.6-1.8-5.9-1.8-14.5-0.1-4.8-1.1-4-1.5-3-2-2.6-3.1-5.5 1.1-9 0.7-14.5 12.6-14.5 1.5-6.1 1.7-8.4 1.3-14.4-0.8-5.9 1.5-8.6 1.5-7.6-3.5-6.9-4-7.5-3-6.9-4.3-4.1 4.8-3.7 5.5-3.6 6.5-3.1 6.9-2.5-5.4-3-4-3.8-3-5.2-2.5-7.6 2-6.9 3.2-8-2.7-6.5-1.7-14.4 6.2-14.5-4.7-5.3-2.3-5.2-3.5-4-4.1-7.4 6.1-10.6 7-5.4 2.5-5.5 1.7-14.5-8.6-14.5-3-6.9 1.9-7.6 1.5-2.7 2.5-3.7 2.5-8 3.7-14.5-2.5-7.7 4.8-6.8 5.7-14.4-4.3-14.5 2-14.5 2.7-14.5 1-14.5-3.7-6.6 2.6-7.8 2.4-14.5-1.8-14.5 7.7-14.4-0.8-14.5 8.2-6.9-6.7-7.6-5.6-11 3.6-18 4.7-7.7-2.2-6.7-3-7.1 3-7.4 2.2-7.4-4.7-7.1-5.1-21.2-4.9-4.6-2-3.1-2.2-14.5 2.4z"/>
<path fill="#4562fc" d="M78.2 159l926.4 0 0 99.8-14.5 6-14.5-5.8-6.2 6.5-3.9 3-4.3 2.4-7.6 3.1-6.9 4.1-14.5 3.2-14.4-3.8-14.5 9.9-14.5-3.6-14.5 3.7-4.2 3-4.7 2.5-12.1 4.5-7.9 3.4-14.5-5.8-10.7 8.4-4.8 3-13.4 5.2-9.2 1.3-5.3 1.2-14.5-7-5.4-0.7-9.1-0.9-14.4 2.8-14.3-1.4-14.7-2.1-14.5 0.4-5.6-2.3-8.8-5.9-14.5 2.1-4.9 2.8-9.6 8.3-14.5 2.1-7.1 2.6-7.4 1.7-14.4-0.8-14.5 1.5-7.6-3.9-10.2-4.5-4.5-2.5-6.6-2.7-3.4 1.7-2.1 1.5-4.8 7-4.2 8-2.1-3-2.7-2.5-4.5-2.5-5.2-1.8-7.8 1.3-6.7 1.8-4.4-0.8-10.1-0.9-8 2.4-6.4 2.7-6-1.7-8.5-1.4-1.4-0.6-5.3-3-4.9-4.5-2.9-1.9-4.5 2.4-5 4-4.9 3.3-14.5 6.5-14.5-8.8-14.5-3.3-14.5 3.9-7.2 5.9-7.2 3.8-6.9-1.3-7.6-2-8.8 5.5-5.7 4.4-14.4-4.6-29 5.1-14.5 1.3-14.5-4.1-6.3 2.9-8.1 2.9-14.5-1.8-7.4 2.9-7.1 3.8-14.4-1-14.5 7.9-7-6.2-7.5-4.9-14.5 5-14.5 3-6-2.1-8.4-2.2-7.9 1.7-6.6 2.2-7.7-5.2-6.8-5.3-14.4-1.4-4-1.3-10.5-4.8-14.5 1.3z"/>
<path fill="#4368fd" d="M78.2 159l926.4 0 0 96.3-14.5 5.7-14.5-6.2-3.4 3.2-3.3 4-6.2 5-1.5 0.9-9 3.1-5.5 2.7-14.5 3.9-14.4-3.9-14.5 9.6-14.5-3.7-8.4 1.9-6.1 1.5-5.4 4.5-7.2 4-16.3 6-14.5-5.8-14.5 10.8-14.4 6.1-14.5 0.6-14.5-6.7-14.5-0.5-14.4 2.6-14.5-2.5-14.5-0.3-14.5 0.7-7.2-4-7.2-4.7-14.5 2.4-7.9 4.3-6.6 5.4-14.5 2.6-6 3-8.5 2.8-14.4-1-14.5 0-20.9-9.3-8-3-5.2 2-3.8 2.5-1.8 2-3.7 6.2-2.5-1.7-3.8-1.5-8.2-1.7-29 2-7 1.7-7.4 2.4-14.5-1.4-5.1-3-3.9-3.5-5.5-3.7-8 4.2-6.4 4.7-14.5 6.1-14.5-8.8-14.5-3.7-14.5 4.4-7.1 6.3-7.3 4.4-8-1.9-6.5-2.2-7.1 4.2-7.4 5.1-14.4-4.8-14.5 3.1-14.5 2.3-14.5 1.6-14.5-4.5-7.2 3.7-7.2 2.9-14.5-1.8-7.2 2.4-7.3 3.2-14.4-1.2-14.5 7.8-6.6-5.3-7.9-4.6-14.5 5.3-14.5 2.4-14.4-3.5-14.5 2.6-7.3-5.2-7.2-5.9-14.4 0.4-14.5-6.3-14.5 0z"/>
<path fill="#406dfe" d="M78.2 159l926.4 0 0 92.8-14.5 5.4-14.5-6.6-5.7 4.9-4.9 6.5-3.8 3-8.2 2-11 4-9.8 2.9-14.4-4-14.5 9.3-14.5-3.8-14.5 3-9.2 8.1-3.4 2-1.9 0.9-14.4 4.6-14.5-5.6-14.5 10.6-14.4 6.5-14.5-1.3-14.5-6.3-14.5 0.5-14.4 2.4-14.5-3.5-29 2.4-9-5.2-5.4-3.9-14.5 2.6-8.2 3.8-6.3 4.4-14.5 3.2-8.4 4.9-6.1 2.3-17.1-1.3-11.8-1.3-19.1-7.7-9.8-3.3-5.7 1.3-3.9 1.5-2.9 2-2 2.3-14.5 0.2-14.5-0.9-7.5 2.4-12.2 2-9.2 2.1-14.5 0.3-3-1.9-5.4-4.5-6.1-3.9-10.1 4.9-4.3 3-14.5 5.9-14.5-8.9-14.5-4.1-14.5 4.9-10.3 9.2-4.1 2.6-7.2-2.1-7.3-2.9-5.6 2.9-8.9 5.8-14.4-5-14.5 3.5-29 4.1-14.5-4.8-7.8 4.4-6.6 2.9-14.5-1.8-8.5 2.4-6 2.2-14.4-1.5-14.5 7.6-6.1-4.3-8.4-4.3-14.5 5.6-14.5 1.7-14.4-2.7-14.5 1.3-9.1-6.6-5.4-5.1-4.8 1.1-9.6 1.2-14.5-6.5-14.5-1.2z"/>
<path fill="#3b73fe" d="M78.2 159l926.4 0 0 89.3-9.2 2.2-5.3 2.8-5.7-3.8-8.8-3.2-4.7 3.2-3.8 3.5-3.1 4-2.8 5-11.6 2-17.4 6.2-14.4-4.1-7 4.9-7.5 4.1-7.2-1.6-7.3-2.2-14.5 2.6-7 6.6-7.5 6-8.2 2-6.2 2.1-14.5-5.5-14.5 10.4-14.4 6.9-7.6-1.4-14.1-3.5-4.4-2-2.9-2.2-14.5 1.5-14.4 2.2-8.8-2-5.7-2.5-4.7 1.5-5.7 1-18.6 2-7.7-4.5-6.7-5.2-14.5 2.9-8.5 3.3-6 3.4-14.5 3.8-14.5 8.5-14.4-1.1-14.5-2.9-7.9-2.2-6.6-3.1-14.4-4.4-14.5 1.5-2.5 2-3.3 1.5-8.7 1.7-8.2-1.2-6.3-1.7-7.2 3.7-7.3 2.4-28.9 3.8-6.9-5.7-7.6-4.6-14.4 7-14.5 5.6-14.5-9.1-14.5-4.4-5.2 3-9.4 2.5-6.9 6.5-7.4 6.2-14.5-5.8-7.8 3.6-6.7 4.5-14.4-5.2-6.7 2.2-7.8 1.8-29 4.2-14.5-5.2-14.4 8.1-14.5-1.8-14.5 3.6-14.4-1.7-7.3 4-7.2 3.4-14.5-7.5-7.8 2.6-6.7 3.3-1.5 0.2-13 0.9-14.4-1.8-14.5 0.1-8.1-5.7-6.4-6.7-6.1 2.2-8.3 2-14.5-6.8-14.5-2.4z"/>
<path fill="#3578fd" d="M78.2 159l926.4 0 0 84.4-14.5 2.1-14.5-5.8-10.6 9.3-3.8 4.8-6.9 3.2-7.6 2.4-6.2 3.6-8.3 3.3-14.4-4-6.7 5.2-7.8 4.7-6.9-1.7-7.6-1.2-14.5 1.6-4.6 3.1-9.9 8.6-14.4 4-6-2.1-8.5-1.7-4.5 2.2-10 7.1-14.4 6.7-15.8-1.8-5.6-2-7.6-4.4-14.5 1.3-14.4 2.6-6.7-2-7.8-1.2-7.6 0.7-6.9 1.2-14.5 1.3-8-5-6.5-5.6-14.4 2.8-7.8 2.8-6.7 3-14.5 4.1-14.5 8.2-28.9-1.7-7.5-2.6-7-3.7-14.4-4.1-14.5 0.9-9.5 4.4-5 1.5-14.5-2.6-7.4 2.1-7.1 3-14.4 2.6-14.5 1.6-8.3-6.2-6.2-2.7-4.8 1.7-9.6 4.6-7.3 1.9-7.2 2.7-14.5-8.9-14.5-4-6.5 3.7-8 2.6-3.5 1.9-10.9 9.7-7.9-3.2-6.6-2.1-7.4 2.1-7.1 3.8-14.4-4.2-7.5 2.9-7 2.1-29 3.1-6.7-2.2-7.8-1.5-5.6 2-8.8 4.9-14.5-2.3-14.5 4.4-14.4-0.6-7 2.1-7.5 3.8-14.5-6.9-9.4 2.1-9.9 3.5-9.7 1.7-14.4-2.4-14.5 0.3-6.1-4.6-8.4-7.9-14.4 4.3-8.4-3.9-6.1-4.1-14.5-0.9z"/>
<path fill="#317efb" d="M78.2 159l926.4 0 0 79.4-14.5-0.8-14.5-4.6-6.4 5-8 7.6-3.2 2.4-5 3-6.3 2.8-6.5 4.7-8 4-14.4-4-7.1 6-7.4 4.8-14.5-2-14.5 0.6-7.7 5.1-6.8 5.7-14.4 3.9-5.9-1.1-8.6-0.9-8.4 3.9-6.1 4.3-14.4 6.4-14.5 0.3-8-3.5-6.5-4-14.5 1.1-14.4 3-5.4-1.1-9.1-1-29 2.1-6.9-4.6-7.5-7-15.6 3-27.9 9-14.5 7.9-14.4-0.6-14.5 1.2-8.4-3.5-6.1-3.9-14.4-3.7-5 0.1-9.5 0.3-7.2 3.7-7.3 2.9-14.5-2.3-8.4 1.9-7.6 2.5-8.8 2-4.1 0.8-14.5 1.3-6.6-4.6-7.9-2.8-8.3 2.8-6.1 2.9-7.9 1.6-6.6 2-14.5-8.9-14.5-3.5-6 3.9-8.5 3.4-6.1 3.1-8.3 7.1-7.3-2.6-7.2-2-8.2 1.5-6.3 2.2-14.4-3.3-6.6 3.1-7.9 2.8-29 2.1-7.8-1.4-6.7-0.7-8.6 2.7-5.8 2.9-14.5-2.8-7.3 2.9-7.2 2.3-14.4 0.5-9 2.2-5.5 2.3-14.5-6.5-6.4 0.7-8.1 1.3-5.7 3.2-8.8 2.6-14.4-3.2-14.5 0.6-4.4-3.5-10.1-9.2-14.4 4.5-8-4.3-6.5-4.9-14.5 0.7z"/>
<path fill="#2e83f9" d="M78.2 159l926.4 0 0 74.5-7.4-1.5-9.8-3-11.8-2.7-9.3 6.7-11.9 10.5-10.3 6.5-5.5 5-6.4 3.7-14.4-4-10.2 8.8-4.3 2.9-12.4-0.9-16.6-0.5-8.3 5-6.1 4.8-14.5 3.8-14.5-0.2-9.8 4.1-4.7 2.9-14.4 6.2-7.8 1.4-6.7 0.6-4.6-2.1-9.9-6.1-14.5 1-14.4 3.3-14.5-0.9-14.5 0-14.5 0.9-3.3-2.2-5.6-6-5.5-4.5-16 3-11.3 3-16.2 5.4-14.5 7.5-14.4-0.3-5.6 1.9-8.9 1.5-4.6-2-9.9-6.6-14.4-3.3-14.5-0.2-9.1 5.1-5.4 2.3-14.5-2-9.9 1.7-19 5-14.5 1-6.2-3.5-8.3-2.4-6.9 1.9-7.5 3.2-14.5 2.5-9.8-6.2-4.7-2.5-14.5-3-10.2 6.5-7.1 3-6.7 3.5-4.9 4-14.5-3.9-14.5 1.5-14.4-2.5-8.1 4.4-6.4 2.6-29 1-14.5-0.5-8.1 1.9-6.3 2.3-14.5-3.2-6.3 2.9-8.2 3-19.4 2.5-9.5 2.3-14.5-6-14.5 0-7.1 5.2-7.4 2.9-14.4-3.8-14.5 0.8-14.5-12.8-14.4 4.6-5.5-3.2-4.5-4-4.5-3.3-6 1.3-8.5 1.1z"/>
<path fill="#2d88f6" d="M78.2 159l926.4 0 0 69.5-7.9-3-6.6-3.6-14.5-2.2-14.4 9.6-6.4 6.7-6.5 5.5-6.3 3.5-3.6 2.5-3.1 3-3.1 4.2-4.7-2.2-9.7-1.8-7.8 6.3-6.7 6.5-14.5-0.1-14.5-1.4-7.3 4-7.2 4.9-14.4 3.8-14.5 1.4-3.2 1.9-4.5 2-15.2 4.5-3.1 1.5-2.9 2-14.5 3.7-7-4.7-7.5-4.2-14.5 0.7-7.3 1.5-7.1 2.2-14.5 0.3-14.5-1-14.5 0.7-3.3-4.2-3.4-3.5-7.7-5.9-29 5.5-14.5 5.2-14.5 7.2-14.4 0-6.8 3-7.7 2.4-14.5-9.6-14.4-3-14.5-0.7-7.5 3.9-7 4.2-14.5-1.8-6.4 0.6-8.1 1.2-14.4 4.5-14.5 0.7-5-2.4-9.5-2-8.9 2-5.5 2.4-14.5 1.5-7-4.9-7.5-3.7-14.5-2.6-8.2 4.8-6.2 4.5-7.6 3.5-6.9 3.9-14.5-3.3-14.5-0.6-14.4-1.6-14.5 7.9-14.5 0.3-14.5-0.3-14.5 1-14.4 3-8.2-1.8-6.3-1.9-6.4 3.4-8.1 3.3-14.4 2.9-14.5 1.6-8-2.8-6.5-2.8-14.5-1.8-6.9 5.6-7.6 4.7-14.4-4.5-14.5 1.1-6.9-6.8-7.6-6.1-8.8 2.1-5.6 2.6-6.9-6.6-7.6-5.1-6.6 2.6-7.9 1.4z"/>
<path fill="#2d8df2" d="M78.2 159l926.4 0 0 64-4.5-2-6.1-2-18.4-4.2-7.2 3.7-7.2 4.7-14.5 13.2-8.4 3.1-6.1 4.1-14.4-2.8-2.3 5.2-2.8 4.5-9.4 8.3-14.5 1-14.5-0.4-6 2.6-8.5 5.2-14.4 4-14.5 2-4.9 3.8-4.5 2-5.1 1.7-14.4 0.5-2.6 2.3-3.1 2-3.4 1.5-5.4 1.6-9.8-6.1-4.7-4.5-14.5 1.2-14.4 3.6-14.5 0.9-14.5-1.4-14.5-0.3-6.4-6.5-3.4-2.5-4.6-2.7-30.4 5.2-13.1 4.1-7.2 4.4-7.3 3.6-14.4 0.4-14.5 6-9.7-6.5-4.8-2.4-7.3-1.6-7.1-2.3-14.5-0.8-6.8 3.1-7.7 4.3-14.5-2.2-14.5 1.9-6.7 3-7.7 2.5-14.5 0.2-14.5-3.7-14.4 4.4-14.5 0-14.5-8.4-14.5-3-4.9 4.5-7.9 5-5.8 4.5-10.3 5.3-8.8-2.3-5.7-2.9-14.5 0.7-8.2-1.3-6.2-1.5-14.5 7.6-14.5 1.7-14.5-0.2-14.5 0.4-14.4 3.3-7.9-2.3-6.6-3.2-6.4 4.7-8.1 3.7-28.9 5.1-8.5-3.3-6-3.5-14.5-1.4-4.8 2.9-9.7 6.9-14.4-5.1-14.5 1.5-6.2-5.8-8.3-6.6-10.1 1.1-4.3 0.9-6.6-5.4-3.6-1.5-4.3-1.2-8.9 3.2-5.6 1.4z"/>
<path fill="#2b92ee" d="M78.2 159l926.4 0 0 58.4-7-1.9-11.9-2.5-10.1-3-8 3.5-6.4 3.5-14.5 13-8.3 1-6.2 1.3-14.4-1.5-6.1 14.2-3.8 5-4.6 4.2-14.5 1.8-14.5 0.8-7.1 2.7-7.4 4-1.6 0.5-12.8 3.7-14.5 2.5-4.3 2.8-3.2 3.5-7 2.8-9.3-1.3-3.1-1.5-2-2.2-3.7 4.7-2.3 2-4 2.5-4.5 1.9-8-5.4-6.5-6.8-14.5 1.7-14.4 3.3-14.5 1.7-14.5-1.9-14.5-1.3-6.1-5.2-8.3-4.4-14.5 2.6-14.5 1.5-9.7 2.3-4.8 1.4-6.7 4.6-7.8 4.3-14.4 0.7-14.5 6.5-6.1-4-5.8-3-11.2-3.5-5.8-2.5-14.5-0.7-7.8 3.2-6.7 3.4-14.5-2.7-14.5 2-7.1 3.8-7.3 2.9-14.5-0.4-14.5-3-14.4 4.3-14.5-1.5-14.5-8-14.5-3.7-6.2 6.4-10.6 7.5-4.3 4-7.8 4.2-5.4-1.7-3.4-1.5-5.7-4-14.5 2.2-7.4-1.7-7-2.5-14.5 7.4-8.3 2.1-6.2 1-29-0.3-14.4 3.7-8.3-3.4-6.2-4.1-6.2 5.6-8.3 4.7-14.4 2.2-5.9 1.6-8.6 1.8-8.3-3.8-6.2-4.2-14.5-0.9-7.9 4.6-6.6 4.6-14.4-5.8-14.5 2.1-7.2-6.4-7.3-5.5-14.4-0.9-4-2.1-5.4-1.5-5.1-0.8-6.7 2.8-7.8 2.5z"/>
<path fill="#2796eb" d="M78.2 159l926.4 0 0 52.8-14.5-1.6-7-2.2-7.5-2.9-8 2.9-6.4 2.9-2.9 3.6-4.7 3-6.9 6.2-8.5-1.2-6-1.5-14.4-0.2-10.4 24.2-4.1 4.5-15.5 3-14.8 2-7.3 2.5-5.9 2.8-10.2 3.2-7.4 2-11.3 2.2-5.7 2.8-3.1 3-2.2 3.5-3.5 1.5-6.2-1.5-3.8-5-4.4-4.1-4.8 5.1-4.3 6.5-5.4 3.3-4.6-3.3-4.2-6-5.7-4.7-14.5 2.2-14.4 3.2-14.5 2.3-29-4.5-6.7-4.5-7.7-3.2-14.5 2.6-14.5 0.8-14.5 3-6.3 4.8-8.2 5-14.4 1.1-14.5 6.9-8.5-5-11.6-4-8.8-4.2-14.5-0.7-4.2 1.4-10.3 4.5-14.5-3.2-14.5 2.1-4 2.1-4.3 3-6.1 2.7-14.5-0.9-14.5-2.2-14.4 4.1-7.3-1.2-7.2-1.8-14.5-7.7-14.5-4.2-9.7 10.2-10.2 7-5.2 5.5-3.8 2.1-5.3-2.1-4.5-4-4.7-3.1-6.5 2.1-8 1.6-8.2-2.6-6.2-3-14.5 7.2-4.4 1.8-10.1 2.7-14.5 0-14.5-0.9-14.4 4.1-6.2-2.9-8.3-6.4-9.3 8.9-5.2 3.2-14.4 1.7-7.5 2.6-7 1.8-4.8-2.3-4.8-4-4.9-2.9-14.5-0.5-5.1 2.4-9.4 6.2-14.4-6.3-14.5 2.5-8.5-7.4-6-4-8-1.5-6.4-2.2-14.5-0.7-5 1.9-3.7 2-5.8 2z"/>
<path fill="#259be8" d="M78.2 159l926.4 0 0 47.3-14.5 0-8-2.8-6.5-3.2-14.4 4.5-2.2 4.2-3 3.5-3.5 2.5-5.8 2.5-5.9-1-4.3-1.5-2.5-2-1.8-3.2-14.4 1-7.1 15.7-7.4 18.3-9.4 1.7-5.1 2-8.6 1-3.8 1-2 1-8.8 1.5-3.7 1.5-2.1 1.5-9.1 2-5.3 2.7-9.1 1.3-5 2-5.6 1.5-3.3 1.5-2.9 2.5-1.8 3-1.3 4-2.8-5.5-3-4-3.9-3.5-4.7-3-4.3 3.5-4.1 4.5-3.3 5-2.8 5.5-2.6-5.5-3-4-4.2-3.5-4.7-2.5-7.5 1-7 1.6-9.5 1.4-4.9 1.6-9.7 1.4-4.8 1.6-5.5-1.6-9-1.1-6.3-1.9-8.2-1.4-2.5-2.1-3-1.5-8.9-2-7.9 1-6.6 1.6-14.5 0-14.5 2.4-6.5 5.5-8 5.2-15.4 1.8-6.7 3-6.8 4-2.6-2-2.7-1.5-9.4-3-6.1-3.5-8.1-3.4-14.5-0.7-9.1 2.1-3.2 1.5-2.2 1.6-6.2-2.1-8.3-1.6-11.8 1.6-5.7 1.5-4.8 2-3.6 2.5-3 3.5-6.8-1-22.2-1.9-8.3 1.4-3.1 1-3 1.6-6.7-2.6-7.8-1.9-4.5-3.1-5.1-2.5-10.5-4-8.9-2.5-6.8 7.5-7.5 7.5-5.8 3-3.9 3-2.7 3-2.2 3.4-3-3.4-3.5-3-3.7-2.5-4.3-2.2-7.6 2.2-6.9 3-6.7-4-7.7-3-7.6 3-6.9 4-8 2.5-6.5 3.4-14.5 0-14.5-1.4-8.1 2-6.3 2.4-14.5-11.1-14.5 13.8-11.9 0.9-5.4 1-6.7 2-4.9 2.7-3.3-3.7-3.1-2.5-3.3-2-4.8-2.2-14.5 0-5.2 1.7-3.2 1.5-3.1 2-3 2.9-6.3-3.9-8.1-3.1-14.5 3-4.4-4.4-5.6-4-4.5-2.5-14.4-6.5-18.2 4-6.2 2.5-4.6 3z"/>
<path fill="#249fe5" d="M78.2 159l926.4 0 0 43.5-14.5 0.4-7.9-3.4-6.6-4.2-7.3 3.2-7.1 2.4-3 3.6-2 4-1.3 1.5-3.7 3-4.5 2.3-4.3-1.3-3-1.5-7.2-6.4-14.4 0.3-4.9 4.6-9.6 22.8-14.5 3.5-14.5 1.7-6.2 4.5-8.2 4-14.5 4.1-14.5 1.7-7.5 3.7-7 4.6-6.1-5.6-3.9-2.5-4.4-2.3-7.9 7.3-4 4.5-2.6 3.7-1.9-2.2-4.1-3.5-3.9-2.5-4.6-2.3-22.7 1.8-20.7 3.1-14.5-1.8-14.5-2.9-14.4-4.3-14.5 4.1-14.5-0.7-2.6 2-2.7 1.5-3.9 1.5-5.3 1.3-9.8 7.7-5.5 3.5-6.9 2-15.5 2.5-5.7 2.8-19.9-8.8-5.1-4-3.9-5.1-14.5-1.2-7.3 3.8-7.2 3.1-14.5-0.4-14.5-1.2-8 3-6.4 3.2-3.8 0.8-10.7 1.5-14.5-0.3-14.4 2.3-14.5-3.8-14.5-7.3-14.5-3.5-4.2 5.6-10.3 10.8-4.7 2.2-4.9 3-2.6 2-2.2 2.4-6.5-4.9-8-4.6-14.5 4.4-6.4-2.8-8-2.6-7.6 2.6-6.9 3.1-14.5 4.7-14.5 0.1-14.5-1-6.8 3.1-7.6 2.7-8.2-6.2-6.3-3.1-5.7 3.6-8.8 8.4-14.4-0.4-14.5 5-14.5-10.2-14.5 0.7-14.5 7.2-14.4-7.2-6.1 2.5-8.4 2.5-14.5-11.2-5.8-2.3-8.6-2.3-14.5 2.9-7 2.4-7.5 3.2z"/>
<path fill="#21a3e3" d="M78.2 159l926.4 0 0 39.8-14.5 0.8-7.8-4.1-6.7-5.2-7.1 3.7-7.3 3-5.5 6.5-3 5.5-2.5 2-3.5 2.1-3.7-1.6-3.7-2.5-3.4-3.5-3.7-3-14.4-0.5-5 3.5-4 4.5-5.5 12.6-14.5 3.4-14.5 0.5-6.7 7-7.8 5.5-14.4 3.4-14.5 0-8.3 2.1-6.2 2.2-6.4-2.7-8-2.1-7.6 5.6-6.9 6.9-5.8-2.9-8.7-2.6-14.5-0.7-14.4 0.1-14.5 1.7-14.5-0.9-28.9-5.4-14.5 5.4-14.5-1.3-2.5 3.2-3.4 3-3.3 2-6.6 3-11 8.5-5.3 3.5-5.3 2-6 1.3-11.3 0.7-3.2 0.6-14.5-6-4-2.6-3.4-3-2.6-3-4.4-7.9-14.5-1.7-7 4.6-7.5 4.1-7.3 1.9-7.2 1.1-8.4-2.1-6.1-2.6-14.4 3.4-6.1 3.2-8.4 2.9-28.9 1.5-14.5-3.2-14.5-7.1-14.5-2.4-3.6 4.3-3 5-7.9 8.4-8.1 3.1-6.3 3.8-7.1-4.3-7.4-3.5-14.5 3.6-6.7-2.1-7.7-1.8-8.4 2.3-6.1 2.1-14.5 3.5-14.5 0.2-14.5-0.5-6.5 3.7-7.9 3.5-6.3-4-8.2-3.4-7.9 4.4-6.6 5.7-14.4-2.1-14.5 4.6-14.5-9.9-14.5 1.2-14.5 6.5-14.4-7.4-6.9 3.9-7.6 3.1-14.5-11.5-7-1.6-7.4-1.1-14.5 2.7-14.5 4.8z"/>
<path fill="#1ea8e1" d="M78.2 159l926.4 0 0 36.1-14.5 1.1-5.6-3.2-8.9-7.7-6.9 4.2-7.5 3.6-3.5 3.4-3.3 4-2.6 4-2.3 4.5-2.8 1.9-3.5-1.9-5.5-6-5.5-4-14.4-1.3-5.8 2.8-3.2 2.5-2.9 3.5-2.6 5-14.5 3.1-14.5-0.7-2.9 4.6-3.7 4.5-3.8 4-4.1 3.4-14.4 2.9-14.5-1.9-28.9 1.2-7.9 4.4-6.6 5-14.5-0.3-14.5-2.5-14.5-1.4-14.4 1.2-14.5 0-14.5-2.3-14.4-1.4-7.3 3.7-7.2 3.1-14.5-2.1-4.3 5-4.2 6-3.8 2.5-7 3.5-2.5 2-2.5 3-4.6 3.5-5.4 2.5-3.5 3-5.6 1.6-8.8-0.6-5.1-1-15.1-5.9-5.2-4.6-4.4-9-4.8-7.7-14.5-2.2-7.4 5.9-10 6.5-5.4 2.5-6.2 1.9-8-3.4-6.5-4.7-14.4 0.6-6.7 5.6-7.8 4.3-14.5 2.1-14.4-1.1-14.5-2.5-14.5-7-14.5-1.2-2.7 2.4-2.7 3-2.6 4-2.7 5.5-3.8 4.1-8.3 1.9-6.1 2.3-6.8-3.3-7.7-2.9-14.5 2.8-14.4-2.4-14.5 3.2-14.5 2.3-29 0.2-7.1 4.8-7.3 3.8-7.1-3.3-7.4-2.2-5.6 2.2-5 3-3.9 3-8.5-2-5.9-1.9-14.5 4.4-14.5-9.8-14.5 1.9-14.5 5.7-14.4-7.7-6.6 4.9-7.9 4.2-6.6-5.2-3.9-4-4-2.6-14.4-0.9-16 3-13 3.5z"/>
<path fill="#1aacdd" d="M78.2 159l926.4 0 0 32.4-14.5 1.4-14.5-12.5-14.4 8.9-3.9 3.3-5.7 7-4.9 9.1-2.8-4.1-2.7-3-3.6-3-4.2-2.5-1.2-0.6-14.4-2.1-8.2 3.7-6.3 3.4-2.9 1.1-4.5 1-7.1 0.9-9.8-0.9-4.7-1.1-2.9 6.1-3.4 5.5-3.6 4.5-4.6 4.4-14.4 2.2-8.2-1.6-6.3-2-8.5-1.5-6-2.1-6 3.6-8.4 2.8-17.6 7.7-11.4 3.4-14.5-4.2-14.4-2.8-29 1.4-14.5-1.9-14.4-0.1-7.2 3.7-7.3 4.5-14.5-2.7-3.9 3.7-4 4.5-3.5 5-3.1 5.4-5.7 1.6-3.8 2-2.9 3-2.1 4.3-6.8 1.7-3.1 1.5-2.7 2.5-1.8 3.4-2.5-1.9-2.2-1-3.5-1-6.3-1-2.3-2-3-1.5-9.2-2-3-7.5-3.4-7-3.8-6-4.2-5.5-14.5-2.7-7.4 5.7-7 6.5-8.5 4.5-6.1 5.1-3.3-3.6-3.4-3-7.8-4.8-14.4-2.2-7.8 6.5-6.7 7.1-9.2 1.9-5.3 1.5-18.7-3.5-10.2-1.2-6.5-3.8-8-3-14.5 0-5.2 3.5-3.7 4-3.1 5.5-2.5 7.1-11.8 0.9-2.6 0.6-2.2-1.6-2.3-1-10-1.9-9.4 0.9-5.1 1.1-14.4-0.9-9.2 0.8-5.3 1.1-14.5 1.1-29 0.9-5 1.9-3.6 2-3 2.5-2.8 3.6-2.1-1.6-2.9-1-9.5-1.2-7.2 1.2-3 1-2.3 1.5-2 2.7-5.4-3.2-9-2.4-8 1.4-3.2 1-3.3 1.6-2.5-3.1-3.1-2.5-3.6-2-5.3-1.9-8.1 0.9-13.5 3-4.2 1.5-3.2 2-2.5-2.5-3-2-3.1-1.5-5.8-1.9-4.6 1.9-4.2 2.5-3.1 3-2.6 3.7-2.5-4.7-2.8-3-4-2.5-5.2-1.9-8.4 0.4-15.7 1.5-4.8 1.6-11.1 1.4-3.4 1.6z"/>
<path fill="#15afd9" d="M78.2 159l926.4 0 0 27.3-14.5 1.4-8.2-7.2-6.3-4.7-14.4 8.9-3.4 2.8-6.2 6.5-4.9 7.8-4.7-4.8-5-3.5-4.8-2.7-14.4-1.9-14.5 6.4-14.5 3.8-14.5-1.4-5.3 3.8-4.3 7-4.9 5.9-14.4 3.2-29-7.9-28.9 11.6-14.5 4.7-14.5-3.8-14.4-2.1-14.5 0.1-14.5 0.7-14.5-2.3-14.4-0.3-7.7 3.2-6.8 3.4-14.5-1.1-7.9 7.2-6.6 8.2-8.6 4.3-20.3 12-14.5-3.7-14.5-5.8-2.9-6-3.1-5-4.1-5.5-4.4-4.7-14.4-1.3-6.9 3.5-7.6 5.5-14.5 8-7-5-7.5-4.6-14.4 0.7-7.8 3.4-3.9 2.5-2.8 2.4-4.6 2.6-9.9 4.2-14.4-3.3-14.5-1.7-14.5-5.8-14.5-1.7-7.9 7.8-4.7 5.5-1.9 3.1-14-2.1-14.9-3.1-14.5 3.4-14.4-1.5-29 5.2-14.5-0.9-14.5 0.9-14.4 9.6-14.5-3.7-14.5 5.7-14.4-7.2-14.5 4.9-14.5-9.5-14.5 1.5-14.5 6-14.4-5.9-7.4 3.6-7.1 4.3-7.1-4.8-7.4-4.1-14.4-1.6-29 5.8z"/>
<path fill="#0eb3d4" d="M78.2 159l926.4 0 0 22.2-14.5 1.3-7.2-6-7.3-5.2-14.4 9-4.5 3.2-6.1 6-3.9 5.4-6.7-4.9-7.8-3.8-14.4-1.8-16.4 6.6-12.6 3.9-14.5-0.9-4.7 2.5-3.9 3-2 2-3.9 5.5-14.4 4.1-14.5-4.6-14.5-3.9-11.7 3.9-17.2 6.4-14.5 4.8-14.5-3.5-12.1-1.2-16.8-0.6-14.5 0.7-14.5-2.7-14.4-0.6-14.5 4.8-14.5 0.7-8 5.7-6.5 6.4-8.2 2.6-6.3 2.5-14.4 7.5-14.5-2.5-14.5-6.1-3.2-4.9-3.2-4-3.9-4-4.1-3.5-14.5 0.3-9.6 3.2-19.4 8.9-6.6-3.9-7.9-3.9-11.1 2.9-14.2 2.5-3.6 1-6.5 5.5-8 4.9-14.4-3.9-14.5-1.4-14.5-4.8-14.5-3.4-7.5 5.6-7 7-8.1-3-6.3-2.9-14.5-1.5-14.5 4.8-14.4-2.2-29 7.6-14.5-2.2-14.5 1.3-14.4 9.1-14.5-3.7-14.5 5-14.4-8.6-14.5 5.7-14.5-9.5-14.5 0.6-14.5 6.9-14.4-3.9-14.5 4.8-11.7-4.8-17.2-5.2-29 6.2z"/>
<path fill="#05b6ce" d="M78.2 159l926.4 0 0 17.1-14.5 1.2-6.1-4.8-8.4-5.6-20.2 12.6-4.8 4-3.9 4.4-6.4-3.4-8.1-2.9-14.4-1.6-29 10.7-15-0.2-5 2-3.5 2-3.1 2.5-2.4 2.6-14.4 5-14.5-5-14.5-4.1-14.4 4.1-29 9.7-14.5-3.1-28.9-1.6-14.5 0.6-14.5-3-14.4-0.9-17.5 3.7-11.5 1.8-8.1 4.2-6.4 4.6-14.5 2.1-14.4 6.8-14.5-1.2-1.8-0.8-12.7-5.7-6.4-6.3-8-5.2-29 3.9-14.5 5-14.5-5.9-6.2 3.2-8.2 3.2-8.7-1.2-5.8-1.3-6.5 7.3-8 6.7-14.4-4.6-14.5-1.1-15.1-4-13.9-4.9-7.5 3.9-7 4.8-7.3-4.3-7.1-5.2-14.5-0.1-14.5 6.3-14.4-2.9-14.5 4.6-14.5 5.4-14.5-3.6-14.5 1.7-14.4 8.7-14.5-3.6-14.5 4.3-14.4-10.1-14.5 6.6-14.5-9.6-14.5-0.4-14.5 8-14.4-2-14.5 1.6-14.5-2.4-7.4-3.3-7-3.7-14.5 3.7-14.5 2.8z"/>
<path fill="#01b8c8" d="M78.2 159l926.4 0 0 12.1-14.5 1-14.5-9.6-8.4 5.5-12.8 7-7.7 6-6.1-2-8.4-2-14.4-1.5-8.8 2.5-10.9 4-9.3 4.5-14.5 0.1-6.2 1.4-5.1 2-3.2 2.1-8.4 2.9-6 3.1-7.9-3.6-12.8-4-8.3-2.1-7.8 1.6-13.4 3.5-7.7 2.7-8.3 2.3-6.2 2.4-14.5-2.8-14.4 0-14.5-1.4-14.5 0.6-14.5-3.3-14.4-1.2-14.5 1.4-20.3 5.8-8.7 3.8-14.4-0.8-14.5 6-14.5 0-28.9-13.4-14.5 3.2-14.5-1.3-14.5 3.6-14.5-4.1-6.8 4-7.6 5.2-14.5-7.9-7.3 8.2-7.2 9.3-6.6-2.8-7.8-2.4-14.5-0.8-14.5-2.7-6.9-3.6-7.6-3.3-14.5 5-8-6.2-6.4-7-14.5 1.4-6.4 4.1-8.1 3.6-7.5-1.6-6.9-2-6.9 3-7.7 2.5-14.4 6.8-14.5-4.9-14.5 2.2-7 4.4-7.4 3.8-14.5-3.5-14.5 3.5-14.4-11.5-6.6 3.7-7.9 3.7-14.5-9.6-14.5-1.3-6.8 4.7-7.7 4.3-14.4 0-14.5-1.6-14.5 0.8-7.5-4.5-6.9-5.1-10.1 3.1-18.9 3.8z"/>
<path fill="#03bbc2" d="M78.2 159l926.4 0 0 8.4-14.5 0.8-8.5-5.7-6-1.3-6.1 1.3-8.3 5.1-7.9 2.9-6.6 4.1-14.5-2.9-14.4-1.1-14.5 3.5-14.5 5.3-14.5 0.7-28.9 6.9-14.4-4-14.6-3-17.5 3-25.9 6-14.5-2-14.4 0-14.5-1-14.5 0.4-14.5-2.4-14.4-0.8-14.5 1-14.5 2.9-14.5 4-14.5-0.6-14.4 4.3-14.5 0-14.5-2.7-14.4-5.9-14.5 1.3-14.5-1-14.5 2.6-14.5-3-8 3.4-6.4 3.4-14.5-5.8-8 5.9-6.5 6.8-14.4-3.8-14.5-0.6-14.5-1.9-14.5-5-14.5 3.6-6.5-5.1-7.9-4.4-14.5 1-7.1 2.4-7.4 3.1-14.4-2.6-16.2 4.5-12.8 4.4-14.5-3.5-14.5 2.9-14.4 8.1-14.5-4.6-14.5 1.1-6.8-4.4-7.6-3.9-14.5 5.3-6.5-3.4-8-3.5-14.5-1-7.3 3-7.2 3.5-14.4 0-14.5-1.1-14.5 0.5-6.4-3.4-8-3.5-14.5 3-14.5 2z"/>
<path fill="#0cbdbc" d="M78.2 159l926.4 0 0 4.8-14.5 0.5-2.6-1.8-2.6-1-9.3-1.5-9.4 1.5-2.7 1-2.3 1.4-8.9 2.1-5.6 2.2-14.5-1.8-14.4-0.6-14.5 2.1-14.5 4.4-29 2.8-14.4 0.7-13.7-2.3-15.3-2-18.4 2-25 3.6-14.5-1.2-14.4 0-14.5-0.7-14.5 0.3-14.5-1.5-14.4-0.5-14.5 0.6-14.5 1.8-14.5 2.5-14.5-0.4-14.4 2.7-14.5 0-14.5 1.4-14.5-5.3-28.9-1.2-14.5 1.5-14.5-1.8-14.4 4.2-14.5-3.6-7.9 3.6-6.6 4.2-14.4-2.3-14.5-0.4-14.5-1.2-14.5-3-14.5 2.2-6.1-3-8.3-2.9-14.5 0.6-14.5 3.4-14.4-1.5-17.2 2.9-11.8 2.5-14.5-2.2-14.5 3.7-14.4 7.9-14.5-5.5-14.5-1.4-6.2-2.5-8.3-2.6-14.4 3.2-14.5-4.2-14.5-0.6-14.5 4-14.4 0-14.5-0.7-14.5 0.3-14.4-4.2-14.5 1.8-14.5 1.2z"/>
<path fill="#18bfb6" d="M78.2 159l891.8 0-23.3 2.8-28.9-0.9-14.5 0.8-14.5 3.4-14.5 2-14.5-0.6-14.4-1.8-29-1.6-43.4 2.1-14.5-0.5-43.4-0.1-28.9-0.8-14.5 0.2-29 1.6-14.5-0.1-14.4 1-14.5 0-6.6 3-7.9 2.6-14.4-4.7-14.5-2.6-14.5-0.2-14.5 0.6-14.5-0.7-14.4 1.5-14.5-1.3-7.6 1.3-6.9 1.6-14.4-0.8-29-0.6-14.5-1.2-14.5 0.9-14.4-2.2-14.5 0.2-14.5 1.3-14.4-0.6-29 2-14.5-0.8-14.5 4.5-14.4 7.6-14.5-6.5-14.5-3.8-14.4-2-14.5 1.3-14.5-1.6-14.5-0.3-14.5 1.5-43.4-0.1-14.4-1.6-29 1.2zM981.2 159l23.4 0 0 1.2-14.5 0.1-3.7-0.8z"/>
<path fill="#23c1af" d="M253.7 159l25.2 0-12.5 6.5zM574.1 159l16.4 0-5.7 3zM864.5 159l19 0-9.2 1.6z"/>
<path fill="none" stroke="#969696" stroke-width="0.7" stroke-opacity="0.62" d="M1004.6 339.4l-5-1.9-3.7-2-3.1-2.5-2.7-3.2-5.2 2.2-9.3 1.8-14.4-1.1-2.7 3.8-4 3-3.3 1.5-4.8 1.5-3.9 2-3.8 1-6.5 1-7.9-1-4-1-2.5-1.1-2.3 3.6-3.3 3-4 2-4.9 1.5-14.5 1-9.8-1.5-4.7-1.7-2.8 2.2-3.1 1.5-8.6 2.2-2.7 6.8-3.1 5-3.8 4-4.8 3.5-4.9-3-3.8-3.5-3.2-4.5-2.6-5.3-9.6-1.7-4.9-1.7-3 7.2-3.2 5.5-3.4 4.5-4.8 4.8-5 1.7-9.5 1.3-5.3-2.8-3.3-2.5-3.2-3.5-2.7-4.3-3.1 2.8-3.2 2-3.4 1.5-4.8 1.5-2.3 1.5-2.3 1-3.8 1-6.3 1-3.6 1-10.6 1.2-4.9-1.2-4.2-1.5-2.7-1.5-2.7-2.1-7.8-1.4-3-1-1.9-1-1.8-1.5-8.3-1.5-5.7-2-7.6-2-2.2-1-2.2-1.5-2.9-3.5-2.8 3-3.5 2-3 1-5 1-2.9 2-3.5 1.5-8.3 1.9-1.9 3.1-2.2 2.5-2.6 2-3.8 2-4 1.4-3.1 0.6-11.3 0.9-9.9-1.4-12-4-3.9-2.5-1.8-2-1.4-2-5.5-2-4.2-2.5-2.6-2.5-2.1-3.1-2.3 8.1-1.3 3-1.6 2.5-1.6 2-2.4 2-5.3 2.9-5-5.4-2.2-3.5-1.8-3.5-3.1-9-2.4-11.5-2.8 8-3.4 7-3.8 6-4.5 5.3-8.1-0.8-3-0.5-3.4-1-2 1-3.9 1-8.5 1-2.4 1.5-3.3 1.5-8.8 2.2-14.5 0.7-2 2.6-2.8 2-3.7 1.5-5.9 1.4-14.5 0-5-4.4-3.5-4.5-3.3-6-2.7-7.1-8-1.4-3.2-1-3.3-1.6-14.5 0-2.7 6.1-3.1 5-4 4.5-4.6 3.7-4.9-1.7-3.9-2-3.1-2.5-2.6-3.1-2.4 5.6-3.2 4.5-3.5 3-5.4 2.9-5.5-1.9-3-1.5-3.3-2.5-2.6-3-4.4 1.5-10.1 1.4-2.2 3.6-2.4 3M110.3 392l-3.1-3.9-8.8-1.1-5.7-1.9-3.5 1.9-2.7 1-8.3 1.9M1004.6 288.4l-14.5-1-14.5 0-4.6 0.6-9.8 0.5-3.3 5-3.8 3.5-3.4 2-6.7 3-4.6 1.5-7.2 1.4-8.5-1.9-2.7-1-3.2-1.7-3 4.7-3.3 4-3.8 3.5-4.4 3-8.7-2-5.8-2.4-14.5 0.3-5.6 1.6-8.9 1.1-2.6 3.4-3.4 3-3.2 2-5.2 2.3-5.7-1.8-3.3-1.5-3.1-2-2.4-2.1-3.4 3.1-4.4 2-6.7 1.5-2 1-3.1 1-9.3 1.5-2.2 3-2.8 2.5-3.9 2-5.6 1.7-8-1.2-6.5-1.8-7.7-1.2-6.8-2.1-3.2 2.1-3.3 1.5-7.9 2.4-14.5 0.3-14.5 0.8-4-2.5-3.8-3-3.5-3.5-3.2-4-6.8 5.5-7.6 4.5-7.3-6.5-7.2-7.5-2.2 3.5-2.5 3-2.9 2.5-3.1 2-3.8 1.9-5.4 1.1-9.1 1.1-6.6 4.9-7.9 4-14.4-1.5-7.6 1-6.9 0.5-4.4-2-3.4-2-3.4-2.5-3.3-3.1-8.7-2.9-5.7-3.1-3.3 7.6-3.4 7-3.7 6.5-4.1 6.4-7.1-14.9-7.4-14.1-6.5 5.1-8 4.4-8.7-1.4-3.4-1-2.4-1.1-3.2 3.1-3.1 2-3.3 1.5-4.8 1.5-5.3-1-3.3-1-3.2-1.5-2.8-2-4.7-1.5-2.9-1.5-2.1-1.5-1.9-2-1.3-2-1.5-3-2.6 6.5-3.1 5-3.7 4-5 3.5-10.3-1.5-4.2-1.1-5.3-1.9-5.2-3-2.1-2-1.9-2.4-14.5 1.1-14.5 0.2-2.2 1.6-3.4 1.5-8.8 1.9-9.8-1.4-2.9-1-1.8-1-2.7 5.5-3 4-4.1 3.5-4.7 2.5-9.5-1-4.9-1.1-29 3.4-19.4-1.3-5.6-1-4-1.7-2.7 4.2-3.3 3.5-3.3 2.5-5.1 2.6-4.3-1.6-3.9-2-3.4-2.5-2.9-3-2.3 3.5-2.2 2.5-2.4 2-3.4 2-4.2 1.8-14.4-1.2-3.2 3.4-3.5 3-3.7 2.5-4.1 2.2-4.8-4.2-3.6-4.5-3.4-6-2.7-7-1.7 1.5-2.9 1.5-3.5 1-6.4 1-2 2-2.8 2-6.1 2.5-3.6 0.9-14.4 0-6.2 2.6-8.3 2.3-4.8-2.8-3.7-3-3.1-3.5-2.9-4.5-14.4 0.7-11.9-1.7-4.2-1-5.7-2-4-2-3.2-2M1004.6 262.4l-6.5 3.6-8 2.7-7.3-2.2-7.2-3.3-3.1 3.8-3.6 3-3.4 2-4.6 2-4.7 2.5-9.5 6-14.5 2.6-14.4-3.7-6.9 5.1-7.6 5-7.4-1.5-7.1-2-6.3 2-8.2 2-5.3 3-3.9 1.5-5.3 1.5-6.2 3-8.2 3.4-8.2-2.9-6.3-3-6.8 6-7.7 5.1-10.5 3.9-12.8 3.5-5.6 2.2-14.5-7.4-14.5-2.5-14.5 3-14.4-0.5-8.6-1.8-5.9-1.8-14.5-0.1-4.8-1.1-4-1.5-3-2-2.6-3.1-5.5 1.1-9 0.7-14.5 12.6-14.5 1.5-6.1 1.7-8.4 1.3-14.4-0.8-5.9 1.5-8.6 1.5-7.6-3.5-6.9-4-7.5-3-6.9-4.3-4.1 4.8-3.7 5.5-3.6 6.5-3.1 6.9-2.5-5.4-3-4-3.8-3-5.2-2.5-7.6 2-3.8 1.5-3.1 1.7-8-2.7-6.5-1.7-14.4 6.2-14.5-4.7-5.3-2.3-5.2-3.5-4-4.1-7.4 6.1-10.6 7-5.4 2.5-5.5 1.7-14.5-8.6-8.7-1.6-5.8-1.4-6.9 1.9-7.6 1.5-2.7 2.5-3.7 2.5-8 3.7-14.5-2.5-7.7 4.8-6.8 5.7-14.4-4.3-14.5 2-14.5 2.7-14.5 1-14.5-3.7-6.6 2.6-7.8 2.4-14.5-1.8-14.5 7.7-14.4-0.8-14.5 8.2-6.9-6.7-7.6-5.6-11 3.6-18 4.7-7.7-2.2-6.7-3-7.1 3-7.4 2.2-7.4-4.7-7.1-5.1-21.2-4.9-4.6-2-3.1-2.2-6.1 1.2-8.4 1.2M1004.6 248.3l-5.9 1.2-3.3 1-5.3 2.8-3.1-2.3-2.6-1.5-3.5-1.5-5.3-1.7-4.7 3.2-3.8 3.5-3.1 4-2.8 5-7.2 1-4.4 1-17.4 6.2-14.4-4.1-7 4.9-7.5 4.1-7.2-1.6-7.3-2.2-14.5 2.6-7 6.6-7.5 6-8.2 2-6.2 2.1-7.5-3.1-7-2.4-14.5 10.4-14.4 6.9-7.6-1.4-14.1-3.5-4.4-2-2.9-2.2-14.5 1.5-14.4 2.2-8.8-2-5.7-2.5-4.7 1.5-5.7 1-18.6 2-7.7-4.5-6.7-5.2-14.5 2.9-8.5 3.3-6 3.4-14.5 3.8-6.9 3.8-7.6 4.7-14.4-1.1-14.5-2.9-7.9-2.2-6.6-3.1-14.4-4.4-14.5 1.5-2.5 2-3.3 1.5-8.7 1.7-8.2-1.2-6.3-1.7-7.2 3.7-7.3 2.4-28.9 3.8-6.9-5.7-7.6-4.6-14.4 7-14.5 5.6-14.5-9.1-7.1-1.9-7.4-2.5-2.1 1.5-3.1 1.5-9.4 2.5-6.9 6.5-7.4 6.2-14.5-5.8-7.8 3.6-6.7 4.5-14.4-5.2-6.7 2.2-7.8 1.8-29 4.2-14.5-5.2-14.4 8.1-14.5-1.8-14.5 3.6-14.4-1.7-7.3 4-7.2 3.4-14.5-7.5-7.8 2.6-6.7 3.3-1.5 0.2-13 0.9-14.4-1.8-14.5 0.1-4.2-2.7-3.9-3-3.2-3-3.2-3.7-6.1 2.2-8.3 2-14.5-6.8-14.5-2.4M1004.6 228.5l-7.9-3-6.6-3.6-7.5-0.9-7-1.3-14.4 9.6-6.4 6.7-6.5 5.5-1.6 1.2-4.7 2.3-3.6 2.5-3.1 3-3.1 4.2-4.7-2.2-9.7-1.8-7.8 6.3-6.7 6.5-14.5-0.1-14.5-1.4-7.3 4-7.2 4.9-14.4 3.8-14.5 1.4-3.2 1.9-4.5 2-15.2 4.5-3.1 1.5-2.9 2-14.5 3.7-7-4.7-7.5-4.2-14.5 0.7-7.3 1.5-7.1 2.2-14.5 0.3-14.5-1-14.5 0.7-3.3-4.2-3.4-3.5-3.5-3-4.2-2.9-16.4 2.9-12.6 2.6-14.5 5.2-14.5 7.2-14.4 0-6.8 3-7.7 2.4-14.5-9.6-14.4-3-14.5-0.7-7.5 3.9-7 4.2-14.5-1.8-6.4 0.6-8.1 1.2-14.4 4.5-14.5 0.7-5-2.4-3.6-1-5.9-1-8.9 2-5.5 2.4-8 0.6-6.5 0.9-7-4.9-7.5-3.7-5.9-1.3-8.6-1.3-8.2 4.8-6.2 4.5-7.6 3.5-6.9 3.9-14.5-3.3-14.5-0.6-14.4-1.6-14.5 7.9-14.5 0.3-14.5-0.3-14.5 1-14.4 3-8.2-1.8-6.3-1.9-6.4 3.4-8.1 3.3-14.4 2.9-14.5 1.6-8-2.8-6.5-2.8-14.5-1.8-6.9 5.6-7.6 4.7-14.4-4.5-14.5 1.1-6.9-6.8-7.6-6.1-8.8 2.1-5.6 2.6-3.5-3.6-3.4-3-4.1-3-3.5-2.1-3.4 1.6-3.2 1-7.9 1.4M1004.6 206.3l-14.5 0-8-2.8-6.5-3.2-6.3 2.2-8.1 2.3-2.2 4.2-3 3.5-3.5 2.5-5.8 2.5-5.9-1-4.3-1.5-2.5-2-1.8-3.2-14.4 1-7.1 15.7-7.4 18.3-9.4 1.7-5.1 2-8.6 1-3.8 1-2 1-8.8 1.5-3.7 1.5-2.1 1.5-5.5 1-3.6 1-2.5 1-2.8 1.7-9.1 1.3-3.2 1-1.8 1-5.6 1.5-3.3 1.5-2.9 2.5-1.8 3-1.3 4-2.8-5.5-3-4-3.9-3.5-4.7-3-4.3 3.5-4.1 4.5-3.3 5-2.8 5.5-2.6-5.5-3-4-4.2-3.5-4.7-2.5-7.5 1-7 1.6-9.5 1.4-4.9 1.6-9.7 1.4-4.8 1.6-5.5-1.6-9-1.1-6.3-1.9-8.2-1.4-2.5-2.1-3-1.5-3.4-1-5.5-1-7.9 1-6.6 1.6-14.5 0-14.5 2.4-6.5 5.5-8 5.2-5.3 0.8-10.1 1-6.7 3-6.8 4-2.6-2-2.7-1.5-3.9-1.5-5.5-1.5-6.1-3.5-8.1-3.4-14.5-0.7-5.7 1.1-3.4 1-3.2 1.5-2.2 1.6-6.2-2.1-8.3-1.6-11.8 1.6-5.7 1.5-4.8 2-3.6 2.5-3 3.5-6.8-1-7.7-0.4-7.7-1.1-6.8-0.4-8.3 1.4-3.1 1-3 1.6-6.7-2.6-7.8-1.9-4.5-3.1-5.1-2.5-10.5-4-8.9-2.5-6.8 7.5-7.5 7.5-5.8 3-3.9 3-2.7 3-2.2 3.4-3-3.4-3.5-3-3.7-2.5-4.3-2.2-7.6 2.2-6.9 3-6.7-4-7.7-3-7.6 3-6.9 4-8 2.5-6.5 3.4-14.5 0-6.7-0.9-7.8-0.5-8.1 2-6.3 2.4-14.5-11.1-14.5 13.8-11.9 0.9-5.4 1-6.7 2-4.9 2.7-3.3-3.7-3.1-2.5-3.3-2-4.8-2.2-14.5 0-5.2 1.7-3.2 1.5-3.1 2-3 2.9-6.3-3.9-8.1-3.1-14.5 3-4.4-4.4-5.6-4-4.5-2.5-14.4-6.5-5.6 1.5-8.9 1.5-3.7 1-6.2 2.5-4.6 3M1004.6 191.4l-14.5 1.4-14.5-12.5-7.2 4.7-7.2 4.2-3.9 3.3-3.2 3.5-2.5 3.5-2.4 4-2.5 5.1-2.8-4.1-2.7-3-3.6-3-4.2-2.5-1.2-0.6-14.4-2.1-8.2 3.7-6.3 3.4-2.9 1.1-4.5 1-7.1 0.9-9.8-0.9-4.7-1.1-2.9 6.1-3.4 5.5-3.6 4.5-4.6 4.4-14.4 2.2-8.2-1.6-6.3-2-8.5-1.5-6-2.1-3.1 2.1-2.9 1.5-3.9 1.5-4.5 1.3-17.6 7.7-6 2-5.4 1.4-14.5-4.2-14.4-2.8-29 1.4-14.5-1.9-14.4-0.1-7.2 3.7-7.3 4.5-14.5-2.7-3.9 3.7-4 4.5-3.5 5-3.1 5.4-5.7 1.6-3.8 2-2.9 3-2.1 4.3-6.8 1.7-3.1 1.5-2.7 2.5-1.8 3.4-2.5-1.9-2.2-1-3.5-1-6.3-1-2.3-2-3-1.5-3.5-1-5.7-1-3-7.5-3.4-7-3.8-6-4.2-5.5-14.5-2.7-7.4 5.7-7 6.5-5.2 2.5-3.3 2-6.1 5.1-3.3-3.6-3.4-3-3.6-2.5-4.2-2.3-14.4-2.2-7.8 6.5-6.7 7.1-9.2 1.9-5.3 1.5-6.8-1.5-11.9-2-10.2-1.2-6.5-3.8-8-3-14.5 0-5.2 3.5-3.7 4-3.1 5.5-2.5 7.1-11.8 0.9-2.6 0.6-2.2-1.6-2.3-1-4.1-1-5.9-0.9-9.4 0.9-5.1 1.1-14.4-0.9-9.2 0.8-5.3 1.1-14.5 1.1-29 0.9-5 1.9-3.6 2-3 2.5-2.8 3.6-2.1-1.6-2.9-1-9.5-1.2-7.2 1.2-3 1-2.3 1.5-2 2.7-2.4-1.7-3-1.5-2.9-1-6.1-1.4-8 1.4-3.2 1-3.3 1.6-2.5-3.1-3.1-2.5-3.6-2-5.3-1.9-8.1 0.9-13.5 3-4.2 1.5-3.2 2-2.5-2.5-3-2-3.1-1.5-5.8-1.9-4.6 1.9-4.2 2.5-3.1 3-2.6 3.7-2.5-4.7-2.8-3-4-2.5-5.2-1.9-8.4 0.4-15.7 1.5-2.2 0.5-2.6 1.1-11.1 1.4-3.4 1.6M1004.6 171.1l-14.5 1-7.3-4.6-7.2-5-8.4 5.5-12.8 7-4.2 3-3.5 3-6.1-2-8.4-2-14.4-1.5-8.8 2.5-10.9 4-4.7 2-4.6 2.5-14.5 0.1-6.2 1.4-5.1 2-3.2 2.1-8.4 2.9-6 3.1-4-2.1-3.9-1.5-12.8-4-8.3-2.1-7.8 1.6-13.4 3.5-7.7 2.7-8.3 2.3-6.2 2.4-6.1-1.4-8.4-1.4-14.4 0-14.5-1.4-14.5 0.6-6.9-1.8-7.6-1.5-14.4-1.2-14.5 1.4-20.3 5.8-5.1 2-3.6 1.8-14.4-0.8-14.5 6-14.5 0-28.9-13.4-14.5 3.2-14.5-1.3-14.5 3.6-14.5-4.1-6.8 4-7.6 5.2-14.5-7.9-7.3 8.2-7.2 9.3-6.6-2.8-7.8-2.4-14.5-0.8-5.7-1.3-8.8-1.4-6.9-3.6-7.6-3.3-14.5 5-4.5-3.2-3.5-3-3.5-3.5-2.9-3.5-14.5 1.4-6.4 4.1-8.1 3.6-7.5-1.6-6.9-2-6.9 3-7.7 2.5-14.4 6.8-14.5-4.9-14.5 2.2-7 4.4-7.4 3.8-14.5-3.5-14.5 3.5-7.1-5.3-7.3-6.2-6.6 3.7-7.9 3.7-7.6-4.7-6.9-4.9-14.5-1.3-6.8 4.7-7.7 4.3-14.4 0-14.5-1.6-14.5 0.8-7.5-4.5-6.9-5.1-10.1 3.1-9 2-9.9 1.8"/>
<rect x="78.2" y="468" width="709.3" height="109.5" fill="#3fca8e"/>
<path fill="#4ccb83" d="M78.2 468l709.3 0 0 109.5-502.6 0-4.1-14-1.2 14-201.4 0z"/>
<path fill="#5bcc77" d="M78.2 468l709.3 0 0 99.2-14.5-2.2-1.6-4.5-1.7-3.5-2.1-3-2.4-2.5-6.7-4.3-4.7-1.7-3.9-2-3.5-2.5-2.3-2.3-3.8 6.3-4.3 6-6.4 14-14.5-1.5-3.5-7.5-4.6-6-6.4-5-4.4-2-3.9-2.5-4.1-4-2-3.4-1.5 6.4-1.8 5-1.9 3.5-2.4 3-6.9 14-2.2-2.5-1.9-3-1.7-4-1.4-4.5-1.8-3-0.8-15-1.3-6-1.9-5.5-1.5-6.5-2.7 2-4.1 1.5-3 3.5-2.2 5-1.1 8.5-1.6 5.5-7 11-7.3 9.2-14.4 11.9-14.5-0.4-0.3 4.8-109.6 0-2.8-11.5-3.1-6.9-2.4 6.9-2 11.5-91.2 0-5.7-17.2-7.1 17.2-34.7 0-1.6-4.6-14.5-1.1-5.2 1.7-9.3 1.6-14.5 0-2-6.1-3.2-4.5-2.3-4.5-2.4-3-1.8-4-0.9-5-1.9-22.3-1.4 20.3-3.2 31.5-65.6 0-2.1-1.8-5.4-1.2-4.6-2-2.4-2-2.1-3.1-14.5 0.5-6.8 3.1-7.7 1.9-3.4 4.6-36.6 0-3.4-4.6-8.1-16.9-6.3-10.5-7 11-7.5 15.9-14.5 1.6zM237.4 547.9l-3.5 6.1 1.5 3 2 2.8 1.9-2.8 1.4-3z"/>
<path fill="#6bcd69" d="M78.2 468l709.3 0 0 68.3-6.6-1.3-3.6-1.5-1.7-1.5-1-1.5-1.6-4.5-11.2-1-1.6-0.5-1.7-1.5-6.6-1-3.5-1-2.7-2-1.6-3.6-2.4 2.1-2.7 1.5-9.4 2.4-8.4-0.4-6.1-1-8.6-0.5-4-0.5-4.9-2-6.2-3.5-5.2-4-3.4 7-1.7 6-1.9 4-2.8 3.5-4.7 3.3-3.4-3.3-2.6-4-2.9-6-3-9-2.6-2.2-6.2 1.7-4.2 2-4.1 1.4-10.9-0.4-3.6-1-3.5 16.5-2.7 16-2.7 3-2.2 1.5-3.3 1.4-6.4-2.4-2.2-1.5-2-2-3.9-8.7-4 17.7-1.1 11-2.1 12.5-44.8 0-3.3-12.5-2.6-17-5.9-1.5-3.6-2-1.9-2-1.1-2-2-7.3-5.5-1.7-3.7-2-2.7-2.5-2.6-4.1-0.8 4.6-1.1 3-1.8 3-5.1 10.5-5.6 8.5-1.5-3.5-2.1-3-3.3-2.5-3.3-1.5-4.3-1.1-4 2.1-3 2.5-2.2 3-1.9 4-3.4 16-14.4-0.5 0-8 4.1-1 3.1-1.5 1.9-2.5 1.1-4-1.8-3-2.4-2.5-2.9-2-3.1-1.5-5.6 2-2.4 1.5-2.1 2-2.1 3.5-0.5 5-0.9 2-7 5.5-3.7 2-4.7 1.9-4.2-4.9-3.6-5-3.5-6-3.2-6.5-2.3 8-1.4 2.5-2 2.5-3.2 2.5-5.6 2.4-1.7-1.9-2.4-3-2-3.5-3.6-9-1.6-6.5-3.1-20.6-2.8 3.1-3.2 4.5-4.8 9.5-3.7 10.9-1.4 9.6-2.1 6-1.5 2-2.3 2-3 1.5-4.2 1.4-5-3.4-3.5-4-3.3-5-2.6-5.6-14.5-3-2.2 1.1-3.9 1-8.4 1-1.1 3-1.3 2-1.9 1.5-2.4 1-7.8 1.4-3.9-2.4-3.6-4-1.3-2.5-0.5-2-2.4-30.5-2.8-8.4-1.6 8.4-2 23-4.4 36-17.3 0-2.5-27.5-1.1-24.1-6.6-2.9-3.6-3.5-2.5-5.5-1.8-9-14.4 11.9-1.2 11.6-0.9 3-1.5 2.5-3 2-7.9 1.7-6.5-2.7-2.4-2-1.6-2-2.4-6-1.6-9.5-7.3-0.5-4.9-1-1.3-1-1-2-5.2-2-4-3-1.8-2.5-1.3-3-2.1-9.5-1 2.5-1.5 1-3 0.5-9 0.5-8.8-0.5-2.9-0.5-1.6-1-0.7-1.5-0.5-3-1.1 11-1.7 6.5-1.7 2.5-1.7 1.5-5.1 2-3.2 0.8-7.4-1.8-4.1-2-2.9-3-2.8 2.5-4.6 2-12.5 2.5-9.1 0.5z"/>
<path fill="#7ccc5c" d="M78.2 468l520.4 0 0.7 2.6 14.5 1.1 2.8-3.7 170.9 0 0 63.7-4.4-2.2-4.4-4-2.5-1-3.2-1-16.8-3.5-4-1.5-2.2-1.5-5.9-6.1-7.1 2.1-7.4 2.7-14.5 0.2-10.8-2.4-3.7-1.3-5.7-3.2-8.7-1.8-3.8 2.3-6.9 12.5-3.8 4.5-4.1-6-4.5-9.5-5.9-4.7-8.2 1.7-6.3 2-14.5 0.2-5.5 0.8-3.5 1.5-4.9 32.5-0.5 0.4-0.7-0.4-1.9-9-2.5-2-3.1-1-6.3-0.8-3 1.8-2.3 2-3.6 17.5-1.3 9.5-2.6 10.5-1.2 4-3.1 0-11.8-6.9-14.5-1-3.3-8.1-4.1-13.5-7.1-11.4-4.3-4.6-3.8-6-3-11.5-3.4-7.9-7.1-3.1-7.4-2.7-2.5 5.2-3.6 9-3.8 5.5-4.5 4.9-4.9-1.4-4.2-2-2.9-2.5-2.5-3.8-14.5 2.9-6.4-7.6-8-6.4-1.6 1.9-3.9 10.5-1.2 13-0.4 0.5-2.3 1.5-4.3 1.5-10.8 1.5-2.3 1-2.2 2.3-6.5-2.8-8-1.9-3.2 2.9-11.3 13.7-2.8-5.2-2.5-6-1.8-19.5-0.5-2-1.6-2.5-2.3-2.5-2.9-2.1-3.8-1.4-2.5-1.5-2.1-2-1.4-2-4.7-32.1-4.3 35.6-3.9 48-3 4-3.3 2.6-4.1-4.1-1.6-2-1.6-6-2.2-5-2.3-3.5-2.6-2.7-7.9-3.3-6.6-3.6-3.1 4.1-3 6.5-0.6 0.5-3.3 2-4.5 1.7-7.4 6.8-2.2 1.5-4.9 2-1.4-1-3.8-4-1.3-3.5-1.8-30-2.6-10-3.6-8.2-3.6 18.7-2.3 21-5.5 38-8.1 0-1.9-10.5-3-20-1.9-21-2.6-8.6-4.5-4.4-2-3-1.6-3.5-3.4-11-3-14.8-4.7-2.2-3.7-2.5-3.3-3-2.7-3.6-1.5 2.6-0.8 5-0.6 11.5 0.3 18-1.5 8-1.7 6-2.2 4.5-3 3.5-3.5 2.4-3.2-2.4-2.9-3.5-2.1-4-2.3-6-4-3.4-5.4-2.1-2.3-1.5-2.1-2-1.7-2.5-1.3-5.5-1.7-3.9-2.3-3.1-2.2-1-9.9-1.1-9.6 1.1-4.9 1.2-5.9-2.7-8.6-2.1-6.4 2.1-3.7 8-2.1 3-2.3 2.3-14.4-5.3-14.5 4.3-14.5 2zM411.1 492.6l-3.2 2.9-1.9 3 2.2 3 2.9 2.5 2.5-5.5zM440.1 491.9l-2.6 4.1 2.6 4.8 5-0.8 2-1 1-1 0.8-2-0.6-0.5-3.5-2zM541.4 487.9l-1.7 0.6 1.7 0.9z"/>
<path fill="#8dcb4f" d="M78.2 468l107 0-1.2 3.5-1.6 3-2.9 2.9-5.9 8.1-1.3 0.5-7.3 1-14.4 0-5.7-1.5-8.8-1.3-6.1 0.8-3.6 1-3.2 2-1.6 2.4-14.4-3.9-29 5.2zM239 468l40.4 0 1.4 7.3 2.2-3.3 1.9-4 72 0-2 29.5-1.7 34.5-1.1-3.5-1.5-1.5-5.9-9-5.9-6.8-7.4-4.2-7.1-3.4-6 5.9-7.7 10-0.8 2.7-1.3 19.8-3.8 2.5-5.8 6.5-3.6 2.2-2.2-2.2-1.2-3-1.4-29.5-2.4-13.5-1.9-6-2.6-2-2.8-1.3-2 3.3-3.6 19-2.6 20.5-3.2 17-3 19.6-6.6-29.6-2.8-20-5.1-16.4-3.7-5.6-3.1-8.5-3.2-12zM378.6 468l218.6 0 2.1 7.2 14.5 2.2 4.1-3.9 3.2-5.5 166.4 0 0 59.2-3.4-2.2-2.5-1-8.6-2.7-14.5-3-3.2-1.3-6.1-5-5.1-5.5-14.5 3.7-14.5 1.8-7.8-2.5-3.2-2-3.5-1.4-4.4-0.6-10.1-0.5-3.3 1.5-4 3-7.1 10.3-5.7-9.3-4.8-4.5-4-2.3-9.2 1.3-10.4 2-9.4 0.9-5.5-0.4-4.3-1-1.3-3-1.4-4.5-1.9-11.8-3 21.8-1.8 9-2.1 7.5-2.5 1.5-9.7 3-2.5 1.5-2.4 2.5-1.3 2.5-3.7 20.3-4.6-2.8-5.4-2-6.5-1.5-12.4-2.1-8.7-14.4-5.3-8-0.4-29.5 1.7-8-1.8-7.6-14.5 0-14.5-1.5-8.6 2.1-5.8 0.8-7-0.8-7.5-2.1-1.8 4.1-1.9 2-2.9 1.5-4.3 1-3.6 0.4-7-0.9-3.4-1-4-2.3-3.3 0.8-11.2 0.7-1.6 1.3-2.2 3-2.8 6 2.9 8.5 1.4 2 1.8 1.5-0.4 4.5-0.7 2.5-0.7 1-1.7 1-2.6 0.5-7.9 0.4-7.9-0.4-2.6-0.5-1.7-1-0.7-1-0.7-2.5 2.5-2 1.2-2 0.8-3 1.2-7.5-2.9-8-3.7-6.2-3.6 0.7-3.1 1-2.4 1.5-1.7 2-1.3 3-1.2 6.5 0.7 10 1.4 2.5 4.6 1.5-1.5 2.5-1.7 2-4.7 3-0.7-9-1.3-4.5-2-2-2.6-1-3.8-5.5-4-4.3zM207.7 479.5l0.8-0.4 2 2.9 3.6 9 1.7 6.5 1.3 9-1.7 6-2.1 5-2 3.5-2.8 3.3-3.4-4.3-2.3-4.5-2.2-2.5-4.1-3.5-5.6-3.5-3-2.5 0.6-7.5 2.2-4 2.3-2 7.1-4 4.1-4zM496.1 483.5l1.9-0.3 4 1.3 1.7 1.5 1.3 2.5-4.1 10.5-2.9 12.7-3.9-11.7-4.8-11.5 0.9-2 1.5-1.5z"/>
<path fill="#9ec942" d="M78.2 468l96.2 0-9.4 12.7-6.1 1.3-8.3 0.6-7.5-1.1-7-2.2-6.9-0.8-7.6-1.6-7-0.4-7.4-0.3-2.2 1.3-2.9 1-9.4 1.5-11.9-1-2.6-1.1zM242.4 468l35.1 0 1.3 8.5 2 3 4.2-1 3-1.5 1.2-3 1.1-6 13.3 0-6.2 74-1.3 6-0.8 0.8-0.4-1.3-1.1-32-1.7-16.5-1.4-2.5-2.2-2-3.4-1.5-4.3-0.9-2.3 3.4-1.8 3.5-3.5 19-3.1 20.5-3.7 16.9-3.7-12.4-3.2-17.5-0.9-3.5-6.7-22.2-5.1-13.8zM405.6 468l190.3 0 2.6 10.5 0.8 8.5 2.7 7 2 9.5-4.7 14.5-6.6 5-7.6 4-2.8 3-2.5 2-4.7 2.5-4.7 1.6-14.5 0-6.3-10.6-3.3-10-2.3-19.5 0.8-7.5-2-7.5-1.4-9.4-14.5 0-14.5-0.6-14.4 1.1-14.5-1.1-6.5 7-4.4 3.5-3.6 1.8-7.2-1.3-7.2-0.7-14.5 2-4.7 1.2-2.6 1.5-1.2 2.5-2.1 7.5 0.6 4.5-0.6 3-1.7 3.5-2.2 1.9-2-2.4-1.3-3-0.8-3 0.2-2.5-1.4-7.5-1.4-4.5-2.4-6-1.7-3-2.3-3-4.6-3.5zM625.5 468l162 0 0 55.7-8.3-2.2-6.2-2.7-14.5-3-6.3-4.8-2.3-4-3.5-3.5-2.3-3.6-5.7 2.6-8.8 2.1-5.1-0.6-5.2-1.5-1.5-1-1.3-1.5-1.4-3.5-1.8 1.5-3.4 1-23.7 2.6-2.8 1.9-2.5 1-2.3 1.5-3.5 3.5-3.4 4.3-6.4-8.3-2.4-2-3.1-1.5-2.6-3.4-6.7 1.9-7.8 1.2-14.5 0.2-3.8-5.9-3.1-7.5 0-10 2.5-4.5zM207.7 492l0.8-0.4 2.2 4.4 1.8 5 1.2 5.5-2.3 6-2.9 5.1-3.1-4.6-3.3-3.5-5.1-4-3.7-2 0.7-2.3 3.9-3.7 2-1.5z"/>
<path fill="#afc637" d="M86.7 468l14.5 0-1.2 2-1.4 4-5.9 2.1-5.9-2.1-0.3-0.5zM134.2 468l27.5 0-3.2 6-3.5 2-4.4 1.6-4.5-1.6-4-2-3.2-3.5zM245.7 468l29.9 0 1 8.5 2.3 4 1.9 2.1 7 0.9-2.7 1-4.3 0.9-2.5 6.1-2.1 3.5-1.7 4-5.5 32.5-2.6 12.7-6.1-25.7-4.5-15-3.2-13-4.3-13zM421.3 468l54.3 0-2.4 3.5-2.1 5-2.1 1.7-26.9 0.8-6.6 2-4.3 0.5-3.5 1-0.9 1-0.6 2-0.6 8.1-1.5-16.6-1.1-5zM542.3 468l52.3 0 1.1 6 0.4 4.5-1.8 11-1.2 4.5-1 9.5-7.3 6.6-3.7 5.9-3.9 3.5-6.8 3.3-14.5-0.1-2.6-3.2-2.4-4.5-2.3-8-2.1-11-0.1-7.5-2.3-7.5zM643.1 468l144.4 0 0 54.2-3.5-1.2-2.4-2.5-2.8-1.5-20.3-4.3-1.6-1.2-0.9-1-1.1-4.5-4.1-10.5-3-4-3.7-2.8-4.2 2.8-3.3 4-7 3.3-2.6-1.3-2.8-2-0.7-4.5-2.3-3.5-3-2.5-3.1-1.6-3.3 1.6-4.5 4-6.7 3.8-14.4 2.7-5.9 2.5-2.1 1.5-1.8 2-2.5 3.5-1.2 3-1 1.2-0.9-1.2-1.4-4-1.4-2-3.7-7-3.3-4-3.8-3.1-4.8 1.1-2.1 1-2 2-1.2 2.5-4.4 1.6-5.1-1.6-2-3.5-3.6-2.5 5.3-7.5 5-8.5 0.4-0.8zM208.3 501l2.1 5.5-1.9 4.1-3.8-4.1-0.1-0.5 0.3-2.5z"/>
<path fill="#bec32e" d="M249.1 468l24.5 0 0.8 9 1.6 3.5 2.2 3-5.9 15.5-5.9 34.1-3.7-15.6-4-14-3.6-16.5zM543.7 468l49.6 0 0.9 6-0.5 4-3.7 9.5-2.1 3.5-3.1 3-3.3 7-3.9 6.5-3.4 4.5-3.8 4.1-14.5-0.5-0.4-0.6-3-7-3.5-12-0.9-7.5-2.8-8zM652.4 468l42.2 0-1.6 10-2 7.5-4.8 1.8-10.3-0.8-3.6-1-0.6-0.3-2.2-2.7-2.8-2-4.8-2-4.7-1.1-1.8-1.4-1.2-2z"/>
<path fill="#ccc028" d="M252.7 468l19 0 0.4 9 2.4 6.5-4.3 15.5-0.5 4.5-3.3 18.3-4.7-18.3-2-12-2.3-10-2.1-7zM545.1 468l46.9 0 0.6 6-1.4 4.5-3 4-2.2 4-3 3.5-5.8 5.5-3.3 5.5-3.5 4.8-14.5 1.7-4.4-11.5-1.8-7.5-2.9-7.5z"/>
<path fill="#dabd28" d="M257.7 468l12 0 0 9 1.2 6.5-2.4 12-0.9 8-1.2 6.8-1.8-6.8-3.4-22.5zM546.5 468l44.2 0 0.3 6-1.1 2.5-2 3-3.2 3-3.2 4-7.5 6.5-3.6 2.5-3.2 1.5-5.6 1.5-5.7 0.9-2.2-3.9-2.4-7-3.2-7.5z"/>
<path fill="#e6bb2d" d="M262.7 468l5.1 0-0.6 15.5-0.8 7.5-1.7-12.5zM547.9 468l41.5 0 0.1 5.5-1.2 2.5-3 3.5-3.7 2.5-3.5 3.5-7.7 6-14.5 3.5-6.6-14.5z"/>
<path fill="#f1ba37" d="M549.3 468l38.7 0-0.1 5.5-1.1 2-2 2-4.8 3-5.5 4.5-4.1 2.6-14.5 3.2-5.3-10.3z"/>
<path fill="#fabb3d" d="M550.7 468l36 0-0.3 5.5-1.6 2.2-5.1 2.3-9.3 6.9-14.5 3.1-4-7.5z"/>
<path fill="#fec13a" d="M552.1 468l33.3 0-0.6 5.6-8.6 3.9-5.8 4.7-14.5 3.1-2.7-4.8z"/>
<path fill="#fec835" d="M553.5 468l28.1 0-3.2 5.5-5.1 3-2.9 2.2-6.3 2.3-8.2 1.9-1.4-2.4z"/>
<path fill="#fccf30" d="M554.9 468l20.9 0-5.4 7.1-7 0.9-3.5 1-2.4 1.5-1.6 2z"/>
<path fill="none" stroke="#969696" stroke-width="0.7" stroke-opacity="0.62" d="M273.6 468l0.8 9 1.6 3.5 2.2 3-5.9 15.5-0.5 4.5-5.4 29.6-3.7-15.6-4-14-3.6-16.5-6-19M593.3 468l0.9 6-0.5 4-2 4.5-1.7 5-2.1 3.5-3.1 3-3.3 7-3.9 6.5-3.4 4.5-3.8 4.1-14.5-0.5-0.4-0.6-3-7-3.5-12-0.9-7.5-2.8-8-1.6-12.5M694.6 468l-1.6 10-2 7.5-1.9 1-2.9 0.8-5.9-0.3-6.6-1-2-0.8-2.8-3.2-3.1-2-3.9-1.5-4.7-1.1-2.6-2.4-2.2-7M575.8 468l-2.8 4-2.6 3.1-7 0.9-3.5 1-2.4 1.5-1.6 2-1-12.5"/>
<rect x="78.2" y="586" width="709.3" height="235" fill="#463cde"/>
<path fill="#4742e6" d="M78.2 586l709.3 0 0 224.2-4.5-3.2-1.9-2.5-1.8-3.5-2.1-2-4.2-3.5-4.5-2.5-3.4-4-6.6-4.5-2.7 4.5-1.8 14.5-1.8 8.5-1.9 5-2.8 4-24 0-2.1-5-6.3-7.6-2.8-1.9-1.9-2-2-3-1.8-4.5-6-6.3-14.4-2.8-2.4-0.9-2.6-1.5-3.1-3-6.4-4.8-3.8 5.3-2.3 8.5-1.6 3-2.1 2.5-2.8 2-11 6-18.2 12-7.1 4-18.5 0-6.9-4-2.4-2-2.2-3-2.2-5-1.5-6.5-4.3-5.5-3.2-1.5-2.6-2-8.6-4.8-1.6 4.8-0.8 10-0.9 6.5-1.5 5.5-1.3 3-1.8 2.5-2.5 2-8.3 0-2.4-2-1.8-2.5-1.3-3-1.3-4.5-1.5-10.5-0.7-17-1.3-4.7-2.7 4.7-1.9 12.5-2.2 7-2.9 4.5-2.2 2-2.6 1.5-14.5 1.2-14.4-3.6-15.3-6.1-3.1-2-2.3-2.5-2.2-4-1.8-6-4.3-5.1-3.1 5.6-2.4 11-1.4 3.5-1.7 2.5-3.3 3-9.5 5-7.5 4.9-17.2-12.9-2-2-1.8-2.5-1.4-3-2.2-8.5-4.4-4.8-5.7 4.3-2 7-1.7 4-2.2 3.5-2.9 3 0 16.5-28.9 0 0-12 0 12-289.5 0z"/>
<path fill="#4849ed" d="M78.2 586l709.3 0 0 215.1-4.5-4.6-5.3-4.5-10.8-8-8.4-5.2-6.2 10.2-1.7 7.5-2.3 7.5-1.9 4.5-2.3 3.9-14.5 3.5-6.6-8.9-7.9-8.6-5.1-6.4-9.4-9.1-14.4-0.7-11.2-7.7-3.3-3.1-8.2 11.1-3.5 6.5-2.8 3.3-11.7 5.7-17.3 11.1-7.5 3.4-6.9 3.9-6.9-3.9-7.6-3.7-2.7-3.8-2.7-5.5-9.1-11.1-14.4-8-3.6 11.1-1.3 8.5-1.8 6.5-1.4 3-2.3 3.5-4.1 4.1-2.5-2.1-2-2.5-2.4-4-1.6-4-2-10-1.1-13-2.9-10.5-5.9 10-1.9 6.5-2.4 6-1.9 3.5-2.4 3.2-14.5 0-14.4-1.2-12.9-5.5-1.6-0.7-1.1-1.3-4.3-6.5-9.1-10.8-6.8 11.8-3.9 9-2.8 4-0.9 0.9-7.2 3.1-7.3 3.8-14.5-11.1-2.3-3.2-3.4-6.5-8.8-9-4.8 2-3.2 2-2.7 2.5-2.2 3-1.6 3-2.6 8-3 7-3.6 11-2.8 5.5-4.8 0-0.4-0.5-2.5-5-2-6.5-3.9-7-3.3-8.3-4.3 14.8-0.6 12.5-284.6 0z"/>
<path fill="#4850f2" d="M78.2 586l709.3 0 0 206.1-14-10.1-15-8.9-4.3 5.9-3.7 6.5-1.7 3.5-2.5 7.5-2.2 4.5-14.5 2.5-14.4-15-14.6-13.5-6.7 1-7.8 0.5-5.1-2.5-3.6-2.5-3.1-3-2.6-3.5-14.5 19.7-14.5 5.9-6.4 4.9-8.1 4.8-14.4 5.2-14.5-6-14.5-17.8-7.8-3.7-6.6-3.7-5.7 17.2-1.2 6-1.6 5-2.6 5-3.4 3.9-2.3-2.4-1.8-2.5-2.8-6.5-1.6-6.5-1.6-12.5-4.4-15.6-7.4 12.1-2 3.5-2.4 6-2.7 4.4-14.5-1.1-14.4 1.1-4.9-1.9-9.6-4.8-14.5-17.1-12 20.9-2.4 3.6-14.5 5.2-6.5-4.3-5.5-4.5-2.5-2.4-7-8.1-7.5-6.7-5.1 1.7-9.4 1.5-2.9 11-3.2 9-4 8-4.3 6.5-4.6-6-3.6-6.5-3.3-8-3-9.6-2.3 8.6-3.1 7-1.6 6.5-1.6 7.5-1.2 12.5-246 0-4.7-8-8.5-1.5-6-2.2-3.6 5.2-3.2 6.5-7.7 0z"/>
<path fill="#4756f7" d="M78.2 586l709.3 0 0 199-6.5-4.5-13.5-7.5-9-3.8-4.5 3.8-2.1 3-4.2 7.5-3.6 8.6-14.5 1.8-6.7-6.9-13.8-12-8.5-6.1-6.2 2.6-8.2 1.8-4-2.3-3.2-2.5-7.3-8.4-4.4 4.9-10.1 13.7-14.5 4.9-14.5 9.8-14.4 3.5-14.5-4.6-8.8-10.8-5.6-5-14.5-7.1-7.7 22.1-2 7-2.1 4.5-2.7 3.9-3-4.4-2.5-6-1.4-5.5-1.6-10-4.3-15.5-1.7-3-3.9 3-5.4 9-5.2 10-14.5-1.9-14.4 2.8-14.5-7.1-9.2-10.8-5.3-5.1-3.6 5.1-10.8 18.4-14.5 3.9-14.5-11.1-7-7.2-6.4-3.5-1.1-0.4-7.1 2.4-7.4 1.8-2.9 2.7-1 2-4.8 13.5-2.6 5.5-3.1 5.4-3.2-4.9-2.6-5-4.7-12-4-2.6-2.9 2.6-3.7 9-3.9 6.5-2.1 12-1.9 13.5-14.4-0.7-11.9 1.7-73.6 0-1.4-1.5-0.8 1.5-130.4 0-2.9-8-1.6-2-2.4-2-5.9-2.5-15.2-3.5-6.7 2-3.5 2.5-1.5 2-2.8 7.9z"/>
<path fill="#465dfa" d="M78.2 586l709.3 0 0 192-7.2-4-11.2-5-10.6-3.7-4.8 3.2-4 4-2.7 4.5-2.9 6.2-14.5 1.1-6.5-5.8-12.6-9.5-9.9-6.3-2.7 2.3-3.2 2-8.5 3.2-3.8-2.7-3.8-3.5-3.6-5-3.3-3.9-7.6 8.4-6.9 9.3-14.5 3.8-14.5 9.9-14.4 1.9-14.5-3.4-6.2-7-7.2-6-15.5-7.4-3.8 9.4-7.2 21.5-3.5 7-2.3-4-2-5-2.6-12.5-4.3-15.5-3.3-5.7-6.3 4.2-1.5 1.5-6.7 12.1-14.5-2.8-7.4 2.7-7 1.9-14.5-7.4-7.1-8-7.4-6.8-7.2 10.3-7.2 12.3-14.5 2.6-18.6-14.4-5.1-2.5-5.3-1.7-6.1 2.7-8.4 2.7-5.8 5.3-1.6 2-3.2 8.5-3.8 7.8-3.4-6.3-3.5-8-2.6-2-5-2.4-5.4 4.4-5.3 9.5-3.8 5.1-14.4-0.7-10.2 1.6-18.8 1.8-2.5 1.2-2.7 2.5-3.4 1.5-9 2-5.6 2-16.1 3-4.2 0.5-4.4-1.5-3.3-2-2-2-1.3-2-1.3-3-1-4-1.1-1.4-0.7 1.4-1.9 11-2.4 6-1.7 2.5-2.1 2-2.2 1.5-3.5 1.6-5.9-2.1-3.3-2.5-2.1-3-2-6-1.1-1.3-0.8 1.3-1.1 5.5-1.7 4.5-1.7 3-2.4 2.5-0.7 0.5-12.1 0-2.7-2.5-2.2-3.5-1.5-4-1.4-7-0.7-1.1-6.9-1.4-2.3-1-2.1-1.5-3.2-1.2-1.2 1.2-2.3 5.5-2.1 2.5-3 2-8.1 3-2.3 2.5-2.6 1.5-7.3 1.8-14.5-0.7-5.1-2.1-2.2-1.5-1.9-2-2.4-4.5-2-8-0.9-1.3-14.4 2-19.9-4.2-3.5-1.5-3-2.5-2.6-1z"/>
<path fill="#4564fd" d="M78.2 586l709.3 0 0 184.9-6.8-2.9-10.5-3.5-11.7-3-6.7 3.5-2 1.5-3.2 3.5-2.5 4.2-14.5 0.4-7-5.1-11.8-7.5-10.2-5.4-8.1 7.4-6.3 3-3.7-3-5-7.5-5.8-6.3-4.7 5.8-5.3 5-4.5 5.8-14.5 2.8-14.5 10-14.4 0.2-14.5-2-6.6-6.3-7.9-5.4-14.4-6.3-5.7 14.2-6.7 19.5-2.1 4.5-3-7-6.6-25.5-2.3-4.5-2.6-4-10.4 7-4.1 6.7-14.5-3.6-6.7 3.4-7.7 3-14.5-7.8-5.8-6.2-5-3.5-3.7-4.1-5.2 8.1-5.6 7.5-3.6 6.2-14.5 1.3-12.2-9-2.3-2.2-6.6-2.3-7.9-1.4-5 2.9-9.5 3.5-10.9 10-3.5 8.1-3-6.1-1.8-2-9.7-4.8-8.2 6.8-6.3 9.2-14.4-0.7-14.5 2.1-14.5 1.3-14.5 6.4-14.5 3.7-14.4 2.6-3-2.1-2.1-2-3.4-5.5-6-6.3-3.7 6.3-1.9 7-2.4 5.5-2.8 4-3.5 3-2-1-2.5-2-1.8-2-2.2-3.5-6.1-6.2-4 6.2-1.7 4-1.8 3-3.3 4-3.7 2.9-3.7-2.9-3.7-4.5-1.7-3-1.4-4-4-6.5-14.5-5.1-12.1 11.6-16.8 8.4-14.5-0.7-3-2.2-2.7-3-2.2-3.5-1.9-4.5-4.7-6.2-14.4 0.8-14.5-2.7-14.5-5.3z"/>
<path fill="#416bfe" d="M78.2 586l709.3 0 0 177.9-8.9-1.9-6.2-2-13.9-2.4-8 3.9-6.4 3.9-14.5-0.3-5.1-1.6-3.4-1.5-3.1-2-2.9-2.8-7.6-3.2-6.9-3.5-7.5 6-6.9 7.2-3.2-5.7-3.5-5-3.6-4-4.2-3.7-6.7 8.7-7.8 6.9-6.3 1.1-8.2 0.8-6.7 5.2-7.8 4.8-14.4-1.5-14.5-0.8-7.3-4.5-7.2-5.1-7.9-2.9-6.5-3.1-4.9 11.6-9.6 27-2.2-6.5-5.8-21.5-2.9-6-3.6-5.3-14.5 9.7-9.8-1.9-2.3-1-2.4-1.6-2.7 3.1-2.9 2-3.3 1.5-5.5 1.6-4.8-1.6-4.2-2-2.9-2-2.5-2.5-6.2-3.5-4.6-4-3.8-5.2-7.1 11.2-7.3 9.6-14.5 0-5.5-2.1-3.3-2-3.1-3-2.6-4-14.5-0.1-2.9 2.6-3.4 2-8.2 2.8-6.8 6.7-7.6 6-14.5-7.1-7.8 6.1-6.7 6.8-14.4-0.8-14.5 2.1-14.5 1.3-14.5 6.4-14.5 3.7-14.4 2.6-7.2-8.6-7.3-7.2-6.8 11.7-3.6 8.5-4.1 5.7-14.4-14.8-9.6 15.1-2.1 2.5-2.8 2.4-2.9-2.4-2-2.5-9.6-16-14.5-5.1-6.3 6.6-7.4 6-9.1 4-6.1 3.4-14.5-0.7-2.9-3.2-2.8-4.5-8.8-11.6-14.4-0.4-10.2-1.5-4.3-0.8-14.5-4.6z"/>
<path fill="#3c72ff" d="M78.2 586l709.3 0 0 174.5-7-2-7.5-2.8-14.5-2.1-14.4 7.1-14.5 0.9-6.3-3.1-8.2-6.3-6.4-2.7-8.1-2.2-4.3 1.2-4.6 2-5.5 5.2-3.8-5.7-4.1-4.5-3.3-2-3.3-1.4-8.5 9.9-6 5.5-14.5 2.5-4.9 1.5-2.5 1-7.1 4.9-14.4-1.6-14.5 0.3-8.4-5.6-5.4-3-15.1-6.7-2.3 4.2-2.9 7-9.3 26.2-6.8-23.7-4-8-1.7-2.5-2-1.9-3.6 1.9-10.9 7.2-14.5-4.8-5.3 3.1-4.3 3-4.8 2.1-4.6-2.1-4.5-3-9.2-5-3.7-3-4.3-5-2.7-2.4-2.7 2.9-11.7 16.3-14.5 1.5-3.7-1.8-2.9-2-4.2-4.5-3.7-2.9-14.5-0.4-6.4 5.3-3.8 2-4.3 1.5-2.1 1.5-5.6 5.5-6.7 5.4-14.5-6.9-6.7 4.5-7.8 7.3-14.4-1.8-14.5 2.3-14.5 1.3-8.1 2.4-6.4 2.6-14.3 1.9-14.6 3.1-8.3-9.1-6.2-3.1-2.9 2.6-1.7 2.5-9.9 17.9-8.6-8.9-5.8-3-3.2 3-5.1 8-6.2 7.8-2.5-2.8-4.6-6.5-7.4-12.4-6.1-1.6-6.6-1-1.8-0.2-4.7 2.7-4.6 4.5-5.2 4.3-8 1.7-6.4 2.3-14.5 0.9-10.2-13.7-4.3-3.7-14.4-1.7-15.4-4.1-13.6-1.1z"/>
<path fill="#3479fd" d="M78.2 586l709.3 0 0 171.2-7.5-2.7-7-3.3-14.5-1.6-14.4 6.4-14.5 2.1-8.1-5.1-6.4-5.7-6.6-1.8-7.9-1.4-9.2 1.4-5.2 2-2.5-3-3.5-2.5-3.2-1.5-5.3-1.6-14.5 15.3-22 4.8-4.2 1.5-2.7 1.5-14.5-1.7-14.5 1.3-10.3-6.1-18.6-8.8-3.3 5.8-2.3 5-8.9 25.3-4.8-17.3-1.9-5-3.6-6.5-4.2-3.9-5.1 2.4-9.4 6.1-14.5-5.2-14.4 8.2-16.3-8.6-3.2-2.5-3.8-4-5.7-5-8.3 9-6.1 8.5-5.8 1.5-8.7 1.5-3.9-2.5-3.3-3-7.3-5.7-14.5-0.7-3.2 3.4-3.1 2.5-4.1 2.5-4.1 1.8-4.6 3.2-4.6 4.5-5.2 4.3-14.5-6.8-8.1 5-6.4 5.8-14.4-2.8-14.5 2.5-14.5 1.4-7.9 1.6-6.6 1.9-14.5 0.2-14.4 3.5-2.9-3.1-2.8-2-4.3-2-4.5-1.4-6.4 5.9-8.1 14-2.9-3-2.7-2-3.9-2-4.9-1.7-5.8 5.2-3.9 6-4.8 6.2-6-8.2-8.5-14.2-14.5-0.6-8 4.3-6.5 5.6-14.4 1.1-14.5 2.6-6.6-8.8-7.9-6.6-9.4-1.9-7.1-2-7.1-2.5-5.3-2.4-7.5 1.4-7 0.7z"/>
<path fill="#2f80fa" d="M78.2 586l709.3 0 0 167.8-10.4-4.3-4.1-2.8-14.5-1.1-14.4 5.8-14.5 3.3-4.8-3.2-9.7-9.2-25.9-2.3-3-0.7-2.8-1.3-3.4-1-8.3-1.2-14.5 15-5.1 1.7-9.4 2.3-8 0.7-6.5 1.1-14.4-1.8-14.5 2.4-7.4-4.2-21.5-10.3-3.6 5.8-3.2 6.5-7.7 22.4-3.3-12.4-3.4-8.5-1.3-2.5-1.7-2-4.8-4-6.3 2.5-8.2 5.5-14.5-5.5-14.4 8.1-14.5-7-14.5-12.7-11.4 11.6-3 4.2-5.9 2.3-8.6 2.2-9.4-6.7-5.1-4.5-14.5-1.1-2.9 3.6-3.2 3-13.7 8.5-9.1 8.1-14.5-6.5-9.9 5.9-4.6 3.9-8-1.9-6.4-2-14.5 2.6-18.2 1.9-10.8 1.7-14.5-1.6-14.4 4-2.6-1.6-3.8-1.5-8.1-1.7-4.6 3.7-4.6 4.5-2.2 3-3.1 5.7-5.4-3.2-9-2.5-4 3-3.5 3.5-7 9.6-3.3-4.6-11.2-18.6-7.2 1.1-7.3 0.6-8.5 3.9-6 4.4-14.4-1.9-7.5 2.5-7 1.8-4.2-5.3-10.3-8.1-7-1.9-5.5-2-9.4-4-7-3.9-5.4 2.9-9.1 2.4z"/>
<path fill="#2e87f7" d="M78.2 586l709.3 0 0 164.5-5.3-1.5-3.4-1.5-3.5-2.5-2.3-2.7-14.5-0.7-14.4 5.2-6.9 1.7-7.6 2.6-6.6-7.1-7.7-6.5-14.7 0.3-1.7-0.3-3.9-1-3.8-1.5-2.5-1.5-2.5-2.2-3.2 0.7-11.3 0.7-14.5 14.8-14.5 4.7-23.3-1.7-5.6-1.1-7.7 2.1-6.8 1.2-20.2-9.2-8.7-4.9-4.2 6.4-4 8-3.1 8.5-3.2 10.5-2.6-10-3.2-8-3.7-4.5-5-3.5-5.7 1.5-3.4 1.5-3 2-2.4 2.4-6.3-3.4-8.2-2.5-14.4 8.2-14.5-6.7-14.5-12.6-7.8 8.1-8 7-5.9 3-7.2 1.9-7.5-4.9-7-6.2-14.5-1.5-4.5 5.7-2.7 2.5-13.9 9-7.8 7-7.1-3.5-7.4-2.9-14.5 8.8-7.7-1.9-6.7-3-6.3 1.5-8.2 1.3-17 1.7-12 0.5-5.5-0.5-5.1-1-3.9-1.8-2.8 1.8-2.6 1-9 1.7-14.5-1.2-8.1 6.5-6.4 7.3-14.4-2.7-4.7 3.4-3.3 3-3.5 4-3 4.5-14.5-24-6.6 2.5-9.2 2-7.1 3-6.1 3.2-7.7-1.7-4-1.5-2.7-1.5-2.9 2-3.1 1.5-8.5 2.4-14.5-11.5-7-2.4-7.4-3.7-7.8-2.8-3.7-2.5-3-3.5-2.5 2.5-3.4 2.5-3.9 2-4.7 1.7z"/>
<path fill="#2d8df2" d="M78.2 586l709.3 0 0 162.8-5-1.8-3.5-2-1.8-1.5-4.2-5.2-14.5 0.6-7.8 2.1-6.6 2.3-14.5 1.4-5.8-5.7-1.8-1.5-1.2-0.5-5.7-1.4-14.5-1-4.1-1.6-3.7-2-6.6-2.3-14.5 2.3-3.3 2-11.2 11.5-14.5 4.7-14.5 0-14.4-1.9-6.6 0.7-7.9 1.3-16.3-7.3-6.7-3.5-5.9-2-2.7 2-4.6 7.5-3.7 8.5-3.5 10.6-2.6-8.6-2.5-5-3.6-4-5.8-3.9-8.7 1.9-3.8 1.5-2 1.2-6-1.7-8.5-0.9-4.9 1.9-9.5 5.4-14.5-6.5-8.5-7.4-6-4.3-2.4 1.8-5.8 6-6.2 5.7-9 4.3-5.5 1.9-7.1-4.9-7.4-6.7-14.5-2.2-8 9.9-4.1 3-9.8 6-7 6-6.6-3-7.9-2.8-14.5 8.5-14.4-4.7-14.5 2.2-29 2.8-14.5-3.8-14.4 4.6-14.5-1.2-4.2 2.4-3.2 2.5-7.1 7.3-14.4-3.1-4.4 4.3-5.3 4.5-4.8 5.9-12-19.4-2.5-1.6-8.8 1.6-7.1 2-5.8 2-7.3 3.3-14.4-4.1-14.5 5.4-14.5-11.6-7.2-3-10.2-3.5-3.7-2-3.6-3-1.5-0.5-2.7-0.8-5.6 1.3-4.1 3-4.8 2.4z"/>
<path fill="#2a93ed" d="M78.2 586l709.3 0 0 161.1-6.4-3.1-8.1-9.7-15.3 2.2-13.6 3.3-4.8-0.3-9.7-1.3-2.2-1.7-4.2-1.5-15.4-2-5-1-9.3-3.5-7.3-2.2-6.9 1.7-7.6 1.3-5.6 3.2-8.9 9-14.5 4.7-3.9 0.3-10.6 0.6-14.4-1.7-14.5 0.6-19.1-8.5-9.8-3-5.5 4-2.2 3.5-3.3 6.5-3.5 9.8-2-5.8-2.9-4.5-3.7-3.5-5.9-3.3-9.1 0.8-5.4 1-14.5 0.8-7.7 2.7-6.7 3.6-14.5-6.3-5.5-4.8-5.4-3-3.6-3-4.7 3.5-9.7 9.5-14.5 6.3-5.4-3.8-9.1-8.1-14.5-2.9-10 12.5-4.2 3-7.8 4.5-6.9 5.5-7.5-3-7-2.2-14.5 8.2-14.4-4.6-43.5 5.2-14.5-4.3-14.4 4.7-14.5-1.3-5.4 2.8-3 2-6.1 5.8-14.4-3.5-11.6 11.2-2.9 3.2-9.4-14.7-5.1-3.2-14.5 2.3-8.2 2.4-6.3 2.5-14.4-3.5-14.5 5-14.5-11.8-7.5-2.7-6.9-1.9-6-3.6-4.3-1.5-4.2-1-3.8 0.5-6 1.5-4.7 2.6z"/>
<path fill="#2699e9" d="M78.2 586l709.3 0 0 159.4-3.6-1.9-10.9-13.1-7.6 2.1-21.3 3.9-8.1-1.9-6.4-2.8-14.5 0.5-6.2-1.2-12.9-4.5-9.8-2.6-6.9 2.1-7.6 1.6-3 1.4-5.5 3.5-6 6.1-14.5 4.5-14.5 2-14.4-1.6-14.5-0.8-17.1-7.2-11.8-3.1-4.3 2.6-4 3.5-3.6 6-2.6 6.9-1.9-3.9-2.4-3-4.3-3-5.9-2.7-14.5-1-2.7 1.7-3.1 1-8.7 1.4-6.8 2.1-7.6 3.3-14.5-6.1-3.2-2.7-3.9-1.5-2.6-1.5-4.8-4.2-6.4 4.7-8 7.8-14.5 6.5-3.2-2.3-11.3-10-14.5-3.7-6 7.2-5.9 8-2.6 1.9-7.8 4.1-6.6 5.1-7-2.6-7.5-2.2-14.5 8-14.4-4.4-29 2.6-14.5 2.6-14.5-4.6-14.4 4.7-14.5-1.4-10.1 5.2-4.4 3.8-14.4-4-4.3 4.7-5.7 5-4.5 4.6-2.8-4.6-4.1-5.5-3.4-2.5-4.2-2.3-14.5 1.5-7.7 1.8-6.8 2.2-14.4-2.9-14.5 4.5-8.9-6.8-5.6-5.2-14.4-3.8-5.2-2.5-9.3-2.3-8.1 0.8-6.4 1.7z"/>
<path fill="#249fe6" d="M78.2 586l709.3 0 0 157.7-14.5-17.3-4.5 2.1-6.8 2-8.7 1.5-8.9 1-4.9-1-4.3-1.5-2.9-2-2.4-3.1-3.1 2.1-2.3 1-3.6 1-5.5 0.9-7.7-2.4-6.6-3-10.5-1.5-4.1-2-14.5 4.4-3.7 1.6-5.9 3.5-4.9 4.6-19 5.9-10 1.5-19.8-2-6.3-1-10-3-7.3-3.6-14.4-3-5.1 2.6-3.8 3-2.2 2.5-3.4 6-4-3.5-5.6-3-4.4-1.5-10.1-1.5-2.8-1-2.1-1.2-2.7 3.2-3.4 2-13.6 3.5-9.2 3-21.4-8.5-4.4-4-3.2-2.3-7.5 5.3-6.9 6.5-14.5 6.7-14.5-12.6-9.1-2.1-5.4-2.3-7.5 8.8-6.9 9.5-8.1 4-6.4 4.6-6.1-2.1-8.4-2.1-14.5 7.7-14.4-4.2-14.5 0.5-14.5 1.5-14.5 3.2-14.5-5-14.4 4.8-14.5-1.5-14.5 7.5-8-1.9-6.4-2.6-6.7 7.6-7.8 6.5-4.4-5.5-1.7-1.5-3.6-2.5-4.8-2.4-14.5 0.7-14.5 3.1-14.4-2.3-14.5 4-7.8-5.6-6.7-6.5-14.4-3-14.5-3.6-14.5 0.5z"/>
<path fill="#20a4e3" d="M78.2 586l709.3 0 0 154.1-11.2-13.6-3.3-2.6-14.5 5-14.4 2.3-6.4-2.2-2.5-1.5-2-2-3.6-1.2-5.1 0.7-9.4 3.2-8.4-3.2-11.5-1.5-3.9-1-5.1-3.2-14.5 4.4-9.4 4.8-5.1 4.1-19.7 6.9-9.3 2-12.4-1.5-16.5-2.7-14.5-5.8-14.4-2.6-5.2 1.6-3.2 2-3.2 3-2.9 4.2-5.6-3.2-13.5-2.5-9.9-3-3.2 1.5-2.2 2.5-3.8 2-4.9 1.5-7.3 1.5-7.5 2.3-9.5-3.8-5-0.7-4.9-1.8-0.9-0.5-2.6-3-3-2.5-3.1-1.3-2.4 0.8-3.1 2-5 4-3.9 3.8-14.5 6.5-12.5-10.8-2-1.1-5.4-1.4-9.1-3.4-6.2 5.9-8.9 11.5-3.7 3-5.8 3-4.3 2.9-14.5-4.7-4.4 3.8-10.1 5.3-14.4-4.4-14.5-0.1-14.5 1.7-14.5 3.3-8.1-2.8-6.4-2.7-5.6 2.7-8.8 2.9-14.5-1.4-4.9 2-9.6 4.9-14.4-4.6-3.4 2.7-6 6.5-5.1 4.3-2.8-3.3-2.9-2.5-8.8-5-14.5 1.1-14.5 2.6-14.4-2-14.5 3.4-7.3-5.6-7.2-7-14.4-1.6-14.5-3.8-14.5-0.8z"/>
<path fill="#1caadf" d="M78.2 586l709.3 0 0 150.3-8.5-10.3-6-4.7-14.5 5.4-14.4 2.7-4.7-1.9-3.6-2.5-6.2-1.7-9.5 1.2-5 1.4-4.6-1.4-13.4-1.5-3.5-1-7.4-5-14.5 4.5-10 5-4.5 3.2-14.5 5.2-6.7 3.1-7.8 2.1-28.9-4.9-14.5-5.5-14.4-2.3-5.2 1.1-4 1.5-2.8 2-2.5 2.9-4.3-0.9-10.2-0.6-14.5-4.1-5.1 2.2-1.5 1-1.7 2-4.3 2-16.3 3.6-3.9-1.6-10.6-1.4-2.9-1.1-1-0.5-2.3-3-2.6-2.5-5.7-2.2-6.1 2.2-8.3 7.1-14.5 6.3-8.7-7.9-2.4-1.5-3.4-1.7-14.5-5.2-9 7.9-5.5 7.1-2.8 2.9-6 4.5-5.6 3.3-14.5-5.3-7.7 7-6.8 3.6-14.4-4.6-14.5-0.8-14.5 1.8-14.5 3.5-7.9-3-6.6-3.1-6.5 3.6-7.9 3-14.5-1.4-7.5 2.9-7 3.4-14.4-4.7-6 4.8-8.5 8.1-4.5-4.1-10-5.7-14.9 1.7-14.1 2.2-14.4-1.9-14.5 2.8-9.3-7.6-5.2-5.6-14.4 0-14.5-4.1-7.5-0.8-7-1.3z"/>
<path fill="#16aeda" d="M78.2 586l709.3 0 0 146.6-7.1-8.6-3.8-3-3.6-2.2-14.5 5.7-14.4 3.2-6-3.2-8.5-2.1-9.6 0.6-4.9 0.7-16.6-1.2-1.5-0.5-10.8-7.2-16.4 5.2-6.4 3-6.2 3.7-14.5 5.6-9.2 4.7-5.3 1.6-28.9-5.4-14.5-5.4-14.4-1.9-9.7 1.6-2.6 1-2.2 1.5-3.7 1-10.8 0.9-10.5-3.4-4-0.9-6.7 2.4-2.9 2-1.4 2-3.5 1.6-14.4 2.2-4.3-0.8-10.2-0.7-0.9-0.3-1.1-0.5-2.3-3.5-2.5-2.5-3.4-1.5-4.3-1.1-4.4 1.1-3.7 1.5-6.3 5.4-5.8 2.1-8.7 4-5.7-5.5-4.6-3-4.2-1.9-4.7-1.6-4.9-2.5-4.9-1.5-4.9 4.5-7 5.5-3.9 5-3.5 3.5-3.9 3-5.7 3.6-8.6-3.1-5.9-2.7-5.8 4.7-5.3 5.5-3.4 1.8-14.4-4.8-14.5-1.4-14.5 2-14.5 3.6-5.5-2.2-9-4.4-7.3 4.4-7.1 3-14.5-1.2-9 3.2-5.5 2.5-14.4-4.8-9.2 7.3-5.3 5-4.5-3.5-10-5.3-29 3.9-14.4-1.6-14.5 2.1-8.7-7.1-5.8-6.6-14.4 1.4-14.5-4.3-8.4-1.5-6.1-1.9z"/>
<path fill="#0db3d3" d="M78.2 586l709.3 0 0 142.9-2.7-3.9-3.4-3.5-3.3-2.5-5.1-2.8-8.3 2.8-6.2 3.2-14.4 3.7-2.2-1.4-3.8-1.5-8.5-1.5-14.5 0-14.5 0.6-14.4-9.5-12.9 3.9-6.8 2.5-9.3 4.7-17.4 7.3-11.6 6-6-1.5-22.9-4.3-8.6-2.7-5.9-2.6-14.4-1.5-14.5 0.9-14.5 5-3-1.8-2.8-1-8.7-1.6-5.2 1.1-3.9 1.5-3.3 2.5-2.1 3-14.4 1.6-14.5-0.1-2.4-4-2.4-2.5-4.6-2-5.1-1.1-4.9 1.1-4.2 1.5-2.5 1.5-2.8 2.6-8.5 2.9-6 3.1-2.8-3.1-3.1-2.5-3.5-2-4.9-2-4.1-3-3.7-1.5-6.9-1.6-4.7 4.6-9.8 7.3-2 2.7-5.1 5-7.3 5-8-3-6.5-3.3-7.7 5.8-6.8 7.5-4.5-2.5-5-1.5-10.9-2-8.5-1-14.5 2.2-14.5 3.7-14.5-7-7.2 4.6-7.2 3.6-14.5-1.2-14.5 5.2-14.4-4.8-14.5 11.5-6.4-3.8-8.1-3.9-14.5 2.5-14.5 1.5-14.4-1.5-14.5 1.5-8.1-6.6-6.4-7.6-5.3 1.6-9.1 1.3-8.1-2.3-20.9-7z"/>
<path fill="#03b7cc" d="M78.2 586l709.3 0 0 137.9-4.1-4.4-5-3.5-5.4-4.5-18.2 8.5-10.7 3.3-3.7-1.3-4.7-1-15.3-2-5.3-1.6-14.5 2.2-14.4-9.4-17 5.3-12 5.2-11.3 4.3-3.2 1.3-14.5 7.8-15.2-3.1-13.7-1.2-10.7-3.8-3.8-3.2-14.4-1.9-14.5 1.1-7.2 1.5-7.3 2.2-14.5-4.6-8.3 3.4-9.7 5-4.7 1.5-6.2 1.3-14.5-0.8-1.8-2.5-2.1-1.5-10.6-4-5.8 2.5-4.8 1.5-3.8 2.5-9.2 3-5.3 2.2-3.7-3.2-6.3-3.5-4.5-5-14.5-6.1-1.9 5.6-1.5 1.5-6 5-6.9 5-7.4 7-5.2 3.7-9.6-4.2-4.9-1.7-5.5 2.2-4.8 4-4.2 4.5-14.4-4.5-14.5 0.3-6.1 0.7-13.5 2-9.4 2.1-8.4-4.1-6.1-1.6-4 1.6-10.4 5.9-14.5-1.8-5.2 2.4-9.3 3.4-9-2.9-6.2-0.5-2.9 1-10.8 8.7-8.8-4.7-5.7-2-14.5 0.9-5.6 1.6-8.9 1.3-14.4-1.9-14.5 1.7-7.2-6.1-7.3-8.4-7.6 2.4-6.8 1.3-10.4-3.3-4.1-2.7-14.5-4.1z"/>
<path fill="#02bac4" d="M78.2 586l709.3 0 0 132.9-14.5-12.3-6.9 3.9-7.6 3.6-5.8 3.4-8.6 3.2-6.1-1.2-14.2-2-4.7-1.5-4-2.7-6.9 2.2-7.6 1.5-14.4-9.3-18.5 5.8-10.5 4.3-14.5 5.2-14.5 8.1-14.4-2.9-14.5 0.3-5.9-2-3.1-1.5-3.2-2.5-2.3-2.9-14.4-2.2-20.1 2.1-8.9 1.5-14.5-4.7-12.2 4.2-2.3 1-3 2.5-3.5 2-7.9 2.9-14.5-1.5-6-3.4-8.5-2.9-14.4 6.3-7.7 2.1-6.8 2.4-5-3.4-5.9-5-2.1-2.5-1.5-2.9-14.5-6.3-1.7 6.2-2 5-4 3.5-21.2 16.4-6.9-2.9-7.6-2.5-5.4 1.5-3.5 1.5-5.6 4.8-14.5-3.9-3 1.1-5.1 1-24.1 2.5-11.2 1.8-5.4-2.3-9.1-1.9-6.8 2.4-7.6 4.3-14.5-2.5-6.4 3.2-8.1 3.2-7.8-1.7-6.6-0.6-2.6 0.6-4.3 1.5-7.6 6.1-6.2-3.1-8.3-2.6-14.5-0.6-7 2.7-7.5 1.6-14.4-2.4-14.5 1.8-6.3-5.5-8.2-9.2-6.8 2.7-7.6 1.9-8.1-2.9-6.4-4.6-14.5-3.5z"/>
<path fill="#0bbdbc" d="M78.2 586l709.3 0 0 127.9-5.7-4.9-5.3-3-2-2-1.5-2.2-3.4 2.7-11.1 5.5-1.9 2-2.9 2-9.6 4.1-14.5-1.1-4.3-1-5.6-2.5-2.6-2-2-2.3-4.6 2.3-9.9 2.9-10.1-5.9-4.3-3.2-21.7 6.7-21.8 7.6-4.3 3.4-10.2 5.2-14.4-3-6.3 1.3-8.2 0.7-4.7-1.7-4.3-2.5-3.8-3.5-1.7-3-14.4-2.6-14.5 1.8-14.5 0.6-14.5-4.8-14.5 3.7-1.5 2.8-2.6 2.5-10.3 5.1-14.5-2.3-7-2.8-7.5-1.8-14.4 6.1-14.5 3.7-8-5.5-2.2-2-1.8-2.5-2.5-5.7-14.5-6.5-2.5 9.7-3.1 7-16.7 13-6.6 4.6-5.4-2.1-9.1-2.7-8.4 1.7-3.6 1.5-2.5 1.7-14.4-3.3-5.9 3.1-5.7 1.5-31.9 3.1-5.3-1.6-9.2-1.3-7.3 2.3-7.1 3.6-14.5-3-6.4 3.4-8.1 3.4-14.4-0.8-2.5 0.4-6.8 2-5.2 4-4.6-2-6.8-2-3.1-0.7-7.8-0.8-6.7-1.4-7.8 3.9-6.7 1.8-14.4-2.9-14.5 2-5.5-4.9-9-9.9-9.1 3.9-5.3 1.4-4.1-1.4-1.7-1-4.5-3-4.2-3.5-14.5-2.8z"/>
<path fill="#1bc0b4" d="M78.2 586l709.3 0 0 122.9-5.2-1.9-4-2.5-2.8-3-2.5-4.5-2.1 3-3 2.5-4.3 2-5.1 1.4-2.8 3.6-3.1 2.5-3.9 2-4.6 1.6-14.5-0.1-3.2-1-3.3-1.5-3.1-2-2.1-2-2.8-3.7-2.6 2.2-3.6 2-8.3 2.4-7.6-3.9-6.8-5.1-7 2.6-7.5 1.9-7.1 2.6-7.4 1.9-6.5 2.6-8 1.9-2.5 2.6-3.4 2.5-3.8 2-4.8 1.8-8-1.3-6.4-1.7-5.7 2.2-8.8 1.4-5.5-2.4-5.6-4-0.9-1-2.5-5.1-8.8-0.9-3.7-1-1.9-1.1-4.8 1.1-9.7 1.1-11.3-0.6-11.5-2-3.7-1.5-2.5-1.7-5 1.2-9.5 1-2.3 5.5-2.3 3-3.5 2.5-6.3 2.3-9.3-1.3-5.2-1.6-14.5-3.1-6.4 3.2-8 2.8-7 1.7-7.5 1.3-5.4-2.8-3.9-3.5-2.6-5-2.6-6.5-4.9-1-4.6-1.5-2.4-1.5-2.6-2.7-3.5 14.2-1.9 4.5-2 3.5-13 10-5 3.5-3.5 1.9-9-2.4-5.5-2-14.5 2.2-8.6-1.2-5.8-1.6-3.2 2.6-3.5 2-7.8 2.8-29 1.5-14.5-1.5-8.1 2.2-6.3 3-14.5-3.7-6.4 3.7-8.1 3.7-14.4 0.4-5.3 0.9-5.2 1.5-4 2.4-6-1.9-11.5-2.5-11.5-3-6.6 4-7.9 3.1-14.4-3.4-14.5 2.2-4.7-4.4-9.8-10.7-14.4 6.2-7.4-4.5-7.1-5.8-14.5-2.2z"/>
<path fill="#27c2ac" d="M78.2 586l709.3 0 0 121.2-4.1-1.7-3.7-2.5-2.4-2.5-2.2-3.5-2.1-1.7-3.3 1.7-1.7 2.5-1.9 1.5-2.7 1.5-7.4 3-0.8 0.5-2 3-2 1.5-3.5 2-3.6 1.4-14.5 0-3.5-1.4-3.4-2-1.9-1.5-2.9-4-2.8-1.5-3.2 1.5-4.8 3-6.5 2.2-6.1-3.2-8.3-5.7-43.5 13.4-3.1 1.8-2.5 2.5-2.2 1.5-6.7 3.1-14.4-3-8.6 2.9-5.9 1.2-3.7-1.7-6.3-4-0.5-0.5-2.3-5-1.7-1-6.6-1-7.8-2.8-14.5 2.2-14.5-1-5.6-1.4-8.9-3.5-14.5 2.2-2.1 1.8-2 4-2.1 3-3.3 2.5-4.9 2.1-29-5.9-8.6 3.8-5.8 2.1-14.5 3-3.8-2.1-3.5-3-2.9-5.5-2.3-5.5-1.1-1-0.9-0.8-6.9-2.2-4.3-3-3.3-1.4-1.3 1.9-3.6 14-3.9 7.5-12.2 9.5-7.9 5-14.5-4-14.5 1.3-14.4-3-9 5.2-5.5 2.3-29 1.5-14.5-1.3-9.2 2.5-5.2 2.1-14.5-4.3-6.4 4.2-8.1 4-14.4 0.5-11 3-3.5 1.5-14.5-4.1-14.5-3.5-7.6 4.6-6.9 3-14.4-3.5-14.5 2.4-5.9-5.9-6.1-7-2.5-1.8-5.4 1.8-9 3.9-6.1-3.9-5.7-4.5-2.7-1.2-14.5-1.5zM483.5 624.4l-7.7 5.1-0.1 11 0.5 1 7.3 3.8 6.1-2.8 1.6-1.5 0.1-10.5-1.4-2zM541.4 616.3l-14.5 3.1-14.5 1.9-4.3 3.2-2.4 6 0 6 3.4 2 3.3 1.1 14.5-1.1 14.5-3.6 4.5-3.4 2.3-2.5-0.1-9.5-3.1-2zM715.1 620.9l-5.4 2.6-1.4 1.5 0.1 10.5 0.8 1.5 2.9 2 3 1.8 4.4 1.7 10.1 2.6 14.5-0.8 14.4-3 3.8-1.8 1.6-1.5-2.3-11.5-3.1-3.2-14.4 2.2-14.5 0.6-7.3-2.1z"/>
<path fill="#2fc5a3" d="M78.2 586l709.3 0 0 37.5-5.8 3-2.1 2.5-1.9 1.5-4.7 2-3.9-6.5-2.3-3-4.1-4-4.2-3.1-6.7 2.1-7.7 1.8-14.5 1.9-7.8-3.2-6.7-4.2-8.7 2.7-5.8 2.9-14.4-2.7-14.5 1.7-14.5 2.5-5.2 2.6-3.2 2.5-6.1 1.8-8.9 4.2-5.6 1.2-9.8 3.3-4.6 0.8-4.6-0.8-2.9-1-7-4.6-3.6-0.9-3.2-1.5-3.6-3.5-4.1-1.2-5.2-0.8-3.7-1.5-1.6-1.5-0.9-1.5-1.5-5.5-1.5-1.1-3.5 1.1-4.4 2-6.6 0.9-8.1-2.4-6.4-3.3-14.5 4.4-14.5 0.9-4.2 2.5-4.1 3-6.1 6.3-6.4-4.8-8.1-4.1-14.5 9.1-6 1.5-3.7 1.5-4.7 0.9-4.8-0.9-2.6-1-2-1.5-1.8-2-3.3-1.3-16.8-2.7-12.2-3.5-1.9 3-1.3 10 0.5 2 2.7 2.7 7.9 1.3 21.1 2.1 5.3 0.9 3.6 1.5 1.5 1.5 0.9 1.5 3.2 2.1 8.5-3.1 5.9-1.2 14.5 7.6 8.5-2.9 6-3 14.4-0.2 29-4.3 5.9-5.5 7-4 5.8-1.5 3.3-1.5 7-1.1 6.9 1.1 2.9 1.5 2 3 0.6 2 0.2 3 0.4 0.5 1.4 1.1 5.7 0.9 3.4 1.5 1.6 1.5 1.3 3 2.5 2.8 4.4 1.2 3 1.5 7.1 1.6 6.8-1.6 4.5-1.5 9-2 5.1-2 3.5-0.8 5.2-2.2 2.6-2 3.4-1.5 17.8-3.4 14.5 0.1 14.4 2.5 4.8 3.8 5.3 3 4.4 1.8 6.2 1.2 8.3 1 14.5 0.4 14.4-1.2 8.4 1.8 6.1 2.4 4.1-3.9 2.1-3 1.5-1.5 2.7-1.5 4.1-1.2 0 63.8-3.2-1.6-2.9-2-2.5-2.5-1.7-2.5-4.2-3.3-5.8 2.8-2.4 3-1.6 1-9.8 4.5-1.4 1-1.9 3-6.1 3.3-14.4 0-5.9-3.3-2.7-4-5.9-3.1-10.4 5.1-4.1 1.6-4.7-2.6-4.1-3-5.6-3.3-43.5 13.3-5.3 3-4.3 3.5-4.9 2.5-14.4-3-3.6 1.5-10.9 3-9-5-2.2-5-1.4-1-1.9-0.9-10.8-2.6-3.6-1.9-14.5 2.2-14.5-1-14.5-4.9-14.5 2.2-3.8 2.9-4.7 7-2.8 2-3.1 1.5-29-6-14.4 6-14.5 3-4.9-3.5-3.2-5.5-2.4-5.5-1.6-1.5-2.4-1.9-4.3-1.6-5-3-5.2-2.1-2.6 3.6-3.7 14-2 4-2.4 3.5-10.8 8.5-7.4 4.8-14.5-3.9-14.5 0.7-14.4-3.2-14.5 7.3-29 1.5-14.5-1.1-7.7 1.9-6.7 2.2-14.5-4.8-6.5 4.6-8 4.3-14.4 0.6-14.5 4.2-14.5-4.4-14.5-3.4-6.6 4.2-7.9 4-14.4-3.7-14.5 2.6-3.9-3.9-5.8-7-4.8-3.3-7.7 2.3-6.7 2.8-8.9-6.3-5.6-2.4-14.5-0.9z"/>
<path fill="#36c799" d="M78.2 586l709.3 0 0 27.8-8.1 2.7-6.4 2.9-2.9-3.4-3.5-3-4-2.5-4.1-2-6.6 3-7.3 2.5-15 3.4-8-4.4-6.5-5.3-14.5 1.7-14.4-3.2-6.4 2.3-7.2 2-15.4 2.6-23.5 12.4-8.8 3.5-11.1 3.6-7.9-4.1-3.4-2.5-3.2-3.1-6.9-1.9-7.6-1.1-1.9-0.9-3.4-2.5-2.2-3-6.9-4.9-14.5 4.6-7.8-3.2-6.7-4.8-6.6 2.8-7.9 2.7-14.5 0.1-7.6 3.7-6.8 5.1-7-3.6-7.5-2.7-14.5 9.4-14.4 3.4-13.2-5.1-10.2-2.5-9.4-3-5.7-2.5-5-3-2.8 3.5-4.9 8-2.6 6-2.9 4.5 5.7 6.5 7.5 7.1 14.5-0.8 14.5 0 7.9 4.2 6.6 4.3 14.4-4.7 14.5 7.9 9.8-2 10.8-3 18.3-3.5 4.5-0.8 14.5-1.1 4.8-4.1 4.6-5.5 4.2-2.5 15.4-3.3 2.9 1.3 2.8 2 0.5 0.5 1.2 3.5 3.3 3 6.7 4 6.8 5 2.6 3 2.1 4.3 2.2 0.2 12.3 0.8 14.4-2.9 11.5-1.9 3-0.6 14.5-5.9 14.5-2.8 14.5 3.1 14.4 1.9 6.9 2.8 7.6 1.9 14.5 0 14.4 1.7 14.5 0.5 4.3 1.9 4.2 2.5 3.2 2.5 2.8 3 2.3-3.5 6.7-6.5 5.5-4.5 0 52.5-4.6-3-4.7-5-5.2-3.9-4.2 1.4-2.9 1.5-2.7 2-1.2 2-1.4 1-6.6 2.5-2.8 1.5-2.4 2-1.7 3-3 1.7-14.5 0-3-1.7-2.6-4-1.9-1.5-3.6-2-3.4-1.2-14.5 6.7-14.4-9-4.5 1-5.2 2-9.2 2.5-14.3 5-10.3 2.9-6.7 3.6-4.4 3.5-3.4 1.8-14.4-2.9-4.1 2.1-10.4 2.7-7.5-3.7-2.1-5-1.3-1-3.6-1.7-9.2-2.3-2.3-1-2.9-2-14.5 2.2-14.5-1-14.5-4.9-14.5 2.2-5 3.5-5.8 7.5-3.6 2.4-29-6-5.8 2.1-8.6 3.9-14.5 2.9-2.5-1.8-3.7-6-2.4-5-2.5-2.5-3.4-2.5-3.4-1.5-3.5-2.5-3.5-1.5-4.1-1.2-3.7 4.7-3.9 14.5-3.7 6-1.7 2-7.8 6-8.1 5.6-14.5-3.8-14.5 0-14.5-3.4-14.4 7.2-29 1.5-14.5-0.9-14.4 3.5-8.2-2.7-6.3-2.6-6.5 5.1-8 4.5-14.4 0.7-14.5 4-14.5-4.8-14.5-3.2-8.2 5.3-6.3 3.4-14.4-3.9-14.5 2.8-8-9.3-6.5-4.4-8.8 2.4-5.6 2.1-5.9-4.1-8.6-3.7-14.5-0.2z"/>
<path fill="#3fca8e" d="M78.2 586l709.3 0 0 18.1-1.6 0.4-12.9 1.9-7.8-2.4-6.7-2.9-5.2 3.4-5.3 2.5-8.4 3-10 3-7.7-5.5-6.8-6.4-9.7-1.1-10.5-2-4.2-1-4.6-1.7-4.7 3.7-5.8 2.5-8.3 2-10.1 1.4-6.5 4.6-8 3.5-4.3 3.5-4.9 3-10.3 4.5-9.4 3.4-4-2.4-3.9-3-3.5-3.5-3.1-4-14.5 1-6.4-5.5-8-5.2-8.5 2.7-6 2.5-14.5-10.4-14.5 6.7-14.5-0.8-14.4 6-14.5-3.7-14.5 9.6-14.4 3-20.6-6.4-11.4-4.5-6.2-3.5-5.3-4.9-4.1 2.4-2.8 3-2.3 4.5-1.7 6.5-3.6 5.1-4.5-1.6-1.7-1.5-0.9-1.5 1-7-1-4.5-3.1-8.5-1.9-3.5-2.3-3-2.4 2.5-3 2-3.6 1.5-5.5 1.5-0.6 0.5-2.5 3-2.1 3.5-4.2 11.5-1.9 2-4.9 2.5-2.1 1.5-1.9 2-1.8 3 1.4 2.5 1.7 2 4.4 3 5.9-1.5 8.6-1.5 1.6-1 4.2-1 8.7-0.8 3.6 1.3 3.9 2 2.7 2 2.3 2.5 1.9 3.1 8 5.9 3.4 3.5 3.1 4.1 14.5-3.7 14.5-1.5 7.6 4.6 6.9 5 7-3 7.4-2.2 7.8 3.7 6.7 4.5 14.5-0.8 2.9-2.2 4.5-2 14.6-4 6.9-1.4 14.5 0 4.4-2.6 4.1-3.5 3.3-4 2.7-4.6 9-0.9 5.5-1.4 2.9 4.9 3.8 4 3.7 2.5 8.4 4 4.3 3.5 3 4.5 2.8 7.5 2.8-1 11.7-1 6.1-1.5 8.3-0.9 14.6-0.6 14.4-5.2 14.5-2.9 14.5 5.8 14.4 1.4 14.5 0.9 14.5-2.1 14.5 2.9 14.4 2.2 7.8 7 6.7 8.5 1.9-7 2.8-5 2-2 2.2-1.5 5.6-2.4 0 41.3-3.9-2.9-5.6-5.5-5-3.5-4.4 1-3.7 1.5-3.6 2.5-2.8 3.8-6.4 1.7-3 1.5-2.8 2.5-2.2 4-14.5 0-2.5-4-2.7-2.5-3.5-2-5.8-1.9-7.9 3.4-6.6 3.3-9.5-6.3-4.9-2.7-9.7 1.7-2.4 1-2.4 1.7-8.9 1.8-2.7 1-3.3 2-3.4 1.5-11.2 3-7.8 4-6.2 4.7-6.8-1.7-7.6-1.3-5.6 3.3-8.9 2-6-2.5-2-5-1.9-1.5-4.3-2-4.8-1-4.6-1.5-5.3-3.8-9.7 0.8-2.5 0.5-2.3 1-3-0.5-11.5-0.5-6.2-2.5-8.3-2.4-14.5 2.2-1.3 0.7-5 3.5-4.8 6-3.3 3.2-29-6-8.1 2.8-6.3 3.2-8.6 1.3-5.9 1.6-3.9-5.6-2.7-5.5-3.4-3.5-9.3-7-3.8-1.5-5.9-1.4-5 6.4-4 14.5-2.8 4.5-2.7 3.2-8.8 6.8-5.6 3.8-14.5-3.6-14.5-0.7-14.4-3.5-7.9 3.5-6.6 3.6-29 1.5-14.5-0.7-14.4 2.9-7.9-2.8-6.6-3.1-6.5 5.6-8 4.8-14.4 0.7-14.5 3.8-7.8-2.3-6.7-2.9-14.5-3-14.5 9.2-14.4-4.1-14.5 3.1-6.2-7.8-3.9-3-4.4-2.5-14.4 4-6.7-4-7.8-3-14.5 0.5zM107.2 614.5l-5.9 4-9.7 4-2.7 2-2.5 3-0.5 1 0.1 1.5 6.7 8.1 6.5 0.4 8 1.1 3.1-2.6 2.8-1.5 4.2-1.5 4.3-1 2.3-1 2.9-2 2.1-2.5 0.3-0.5-1.5-2-3.1-2.5-3-1.4-8.7-3.1zM179.5 608.5l-4.5 3-2.9 4 0.8 2 2.1 2.5 4.5 3 14.5-2 4.5-2.5 3.1-3.5-3.1-3.5-4.5-2.5zM309.8 616.2l-12.7 1.3-6.4 2-9.9 2.4-6.6 3.1-7.8 2.8-29 0.8-10.6-6.6-3.8-1.6-4.6 2.6-2.9 3.5 0.7 1.5 1.8 2 2.8 2 5.2 2.5 2.2 3 9.2 8.2 14.5-10.3 1.8 1.1 12.7 10.6 2-2.1 2.6-1.5 2.8-1 7-1.4 2.8-2.1 3.1-1.5 8.6-2.3 7.8-8.2 1.1-4.5 0.6-1 1.3-1 1.7-0.5 10-1 3.7-1-0.7-1-3.6-0.5zM324.3 591.4l-2.5 2.1-2.4 3-1.7 3-1.7 4 1.2 4 2 4 0.8 3.5 0.7 0.5 3.6 0.5 2.6-2.5 1.8-2.5 2-4 1.1-3.5-3-7-2.2-3z"/>
<path fill="#4ccb83" d="M398.6 586l388.9 0 0 13.1-14.5 2.2-14.5-5.2-3.4 1.4-11 6-14.5 4.5-5.2-4-1.8-3-1.6-1.5-2.9-2-3-1.4-28.9-4.9-5.1 1.8-9.4 4.6-14.5 2.2-1.9 0.7-2.9 1.5-6.8 4.5-7.4 3.5-4.3 3.5-5.7 3.4-14.4 5.5-5-3.9-1.8-4-1.4-1.5-4.9-3-1.4-0.5-14.5 1-5.1-4-4.1-4-5.2-2.7-14.5 5.2-5.7-4-3.4-3.5-5.4-2.9-14.5 6.7-14.5-0.8-14.4 6-14.5-3.7-4.7 2.2-3.8 3.5-6 3.9-14.4 3-14.5-4.5-14.5-5.2-5.2-3.2-3-3-3.1-2-3.2-1.4-4.4-0.6-4.5-1.5-2.2-2zM323.5 626l2.1 0 5.4 1.5 1.7 1 1.4 1.5 1.2 2 0.9 3 0.7 0.5 4.3 2 6.6 1.5 5.4 0.7 14.5-0.9 7.6-2.8 6.9-1.7 0.4 0.2 5.7 3.5 8.3 8.8 4.1 3.2 4.6 4.5 2.1 3 2.4 4.5 1.3 4.1 5.6-4.1 6-3 8.8-3 8.6-1.9 7.3 4.9 7.2 4 14.4-5.3 14.5 7.9 14.5-0.5 13.4-6.1 15.5-4 14.5 0.4 4.2-0.9 3.2-1 3.1-1.5 4-3.9 14.5-3.2 2.7 2.6 1.8 1 3.3 1 6.6 1 4 2.5 2.8 2.5 1.9 2.5 3.3 7.5 2.5 1 8.1-0.5 20.8-2.9 14.5-0.7 14.5 0 14.5-0.9 6 1.5 8.5 1.4 14.4-1.4 16.9 0.5 9.3 1.5 10.2 3.5 7.1 2.9 14.4 1.2 3.4 3.4 2.6 3.5 4.1 2.5 4.4 1.6 2.8-4.1 0.8-4 2.8-5 3.4-3.5 4.7-2.8 0 36.4-10.8-9.6-3.7-1.6-9.5 1.1-1.9 1-3.1 2.6-4.4 1.9-4.6 3-3.1 1.5-2.3 2.1-14.5 1.4-2.2-2.5-3.2-2-4.3-1.5-4.8-0.9-5.4 1.9-9.1 4.4-10.6-6.9-3.8-3.7-1.8 0.2-12.7 2-6.6 3-7.9 2.8-3.3 4.2-1.4 1-14.2 4-5.6 3-4.5 3.3-14.4-2.9-6.9 5.1-7.6 1.9-4.5-1.9-1.9-5-2.3-2-3-1.5-9.5-2.5-4.5-3.5-3.2-7.3-14.5 1.5-2.4 1.8-2.4 1-4.2 1-5.5 0.7-14.5-4.7-14.5 2.3-1.3 0.7-6 4-7.1 8.3-29-6-14.4 5.9-14.5 2.4-5.4-9.1-2.7-3-3.3-2.5-3.1-4.7-7.7-3.8-6.8-5.2-1.7 6.7-4.6 6.5-3.9 14-1.1 2-3.2 4.3-9.3 7.7-5.1 3.5-10.2-2.5-4.3-2-14.5-0.4-8.2-2.1-6.2-2.3-14.5 7.5-14.5 1.4-14.5 0.5-14.5-0.7-14.4 2.7-8.8-3.6-5.7-3.4-5.8 5.9-8.7 5.8-14.4 0.6-14.5 4-14.5-5.3-14.5-3.5-14.5 9.4-8.5-2.5-5.9-2.5-14.5 3.3-3.4-4.3-3.2-3-4.7-3-3.2-1.2-7.3 1.2-7.1 2-6.4-3.5-8.1-3-7.6 1-6.9 0.4 0-99 7.6 8.1 6.9 4.6 14.5 1.6 8.3-2.7 6.1-2.6 16.2 1.6 12.8 2.8 14.4 1.5 2.6-1.3 2.5-5 3.2-2.5 5-1.5 15.7-2.9 5.8 1.4 2.6 1.5 2.2 3 1.3 4 2.6 1.8 14.5-1.1 6.8 5.8 7.6 5 8.2-3.5 6.3-3.8 3.1 2.3 3 1.5 8.4 2.6 6.3-4.1 3.9-2 12.8-4 11.5-4.5 3.4-2 5.5-5.9zM107.2 706.5l-0.9 2.5 0.9 0.4 0.7-0.4z"/>
<path fill="#5bcc77" d="M407.5 586l380 0 0 6.3-14.5 1.7-3.4-1.5-11.1-2.4-10.7 2.9-1.9 1-1.8 1.6-14.5 3.4-1.6-3-2.1-2-1.9-1-7.3-2.5-9.7-1.5-20.8-2-10.4 2-4.1 2.2-14.5 1.7-4.1 1.1-7.1 2.5-1.8 1-1.5 1.5-7.8 3-5.3 2.5-1.4 1.2-14.4 4.1-0.8-1.8-1.5-1.5-12.2-6.4-14.5 0.8-1.5-2.4-1.9-1.5-11.1-4.1-7.4 1.6-7 2.3-1.9-2.8-2.7-2-9.9-3-10.4 2.5-2.2 1-1.9 1.5-14.5-0.6-8.1 2.1-6.3 2.4-14.5-2.8-11.4 4.4-1.6 1-1.5 1.8-14.4 2.3-14.5-3.4-14.5-3.9-1.7-2.3-2.1-1.5-10.7-3.4zM321.4 636l2.9-0.4 4.7 1.9 5.3 3 4.5 3.6 14.4-0.7 14.5 1.1 7.2-3.5 7.3-2.8 6.7 5.8 7.7 8.3 4.5 3.7 6.6 8 1.6 3.5 1 10-0.7 8.5-1.9 8-4.2 6.5-4 14-1.1 2-1.8 2.3-7.5 6.2-3.6 3.5-3.3 2.3-8.1-2.3-6.4-3.3-14.5 0-7.2-2.2-7.2-3.1-9.8 5.6-4.7 2.3-1.2 0.2-13.3 1.7-14.5 0.4-14.5-0.8-14.4 2.5-8.3-3.8-6.2-4.3-6.5 7.3-3.1 2.5-4.9 3.2-14.4 0.5-14.5 4.4-14.5-5.6-14.5-3.9-14.5 9.6-7.7-2.7-6.7-3.4-14.5 3.8-2.9-3.4-3.6-3-2.8-1.5-5.2-1.8-7.1 0.8-7.3 1.5-4.9-2.5-9.6-3.5-6.6 1.5-7.9 0.8 0-90.9 14.5 9.6 14.5 1.8 14.4-4 7.6 1.2 21.4 4.7 14.4 1.5 6.4-3.7 10.4-4 5.9-1.5 6.3-0.9 8.2 3.9 6.3 4.7 14.5 0.8 2.4 1 6.6 3.5 5.4 4.4 6.2-2.4 8.3-2 14.5 1 14.4-9.2 10.1-2.3 17.6-5.5 6.1-2.5zM107.2 703.1l-2.1 0.9-1.5 2.5-1.6 1.5 0 1 5.2 2.2 4.7-2.2 1-5zM577.8 653.5l7-0.4 3.3 2.4 2.4 2.5 3.9 7.5 4.9 1.7 14.5-0.4 14.4-1.8 14.5-0.7 5.6 0.7 3.9 1 3 1.5 2 1.9 14.5 1.7 14.5-0.6 6.2-2.5 8.2-1.7 14.5-0.2 5.4 1.4 4.1 2 2.7 2 2.3 2.4 8.4 4.1 6.1 5 12.9 1.5-3.2 1.5-1.7 2.5-9.5 6-7.8 3.5-5.2 1-2.5-1.5-3-1-9-1-6.5 2-8 3.9-7.5-5.4-6.9-6.8-14.5-0.9-2.7 2.2-7.5 4-4.3 1.8-6.9 8.7-1.2 1-13.5 3.5-3.1 1.5-4.3 2.8-14.4-2.7-4.4 2.9-5 4.5-5.1 1.3-3-1.3-1.8-5-2.6-2.5-3.2-1.5-8.2-2-3.9-3.5-3-6-3.2-8.4-14.5 0.7-2.5 3.7-3.3 3-3.7 2-5 1.3-14.5-4.4-14.5 2.4-3.9 1.7-4.7 3.5-1.9 2-2.2 3.5-1.7 1.9-14.5-2.6-14.5-3.5-14.4 5.9-14.5 1.7-3.7-6.4-2-2.5-3.2-3-4.1-7-1.5-1.7-3.2-1.8-4.7-4-2-3-1.8-4-0.1-1.5 1.7-3.5 2.1-3 2.4-2.5 9.9-6 10.2-3.6 14.5 8 14.4-5.3 14.5 7.6 14.5-0.3 14.4-6.9 14.5-3.5 29 1 16.1-5zM787 667.5l0.5-0.3 0 31.7-8.4-8.4-3.1-1.5-1.2-1 1.4-3.5 2.7-5 0.9-4.5 2.9-4z"/>
<path fill="#6bcd69" d="M322.8 640.5l1.5-0.4 0.8 0.4 13.7 8.1 14.4-0.7 14.5 1.1 14.5-6.3 4.7 4.3 13.8 14 3.6 2.5 2.1 2.5 1 2.5 1 9-0.6 8.5-1.9 8-3.8 6.5-4.1 14.5-1.4 1.9-8.5 7.1-4.4 4.5-1.5 1.1-4.9-1.6-9.6-5.2-14.5 0.4-9.3-3.2-5.1-3-14.5 8.4-5.6 1.1-8.9 1.4-14.5 0.1-14.5-0.7-14.4 2.3-7.8-4.1-6.7-5.1-3.6 4.6-3.8 4-3.9 3.5-3.2 2.2-14.4 0.4-14.5 4.6-10.9-4.7-18.1-5.5-14.5 9.9-6-2.4-8.4-4.7-14.5 4.1-2.8-2.9-2.2-1.5-4.5-2-5-1.4-14.4 1.3-8.3-3.9-6.2-1.5-9.1 2.5-5.4 0.6 0-85.7 14.5 9.6 14.5 1.8 14.4-4 29 6 14.4 1.5 14.5-6.7 14.5-3.4 14.5 8.6 14.5 0.7 14.4 8.9 14.5-4.4 14.5 1 14.4-9.2 14.5-3.7zM107.2 701.9l-4.7 2.1-2.5 2.5-2.7 1.5 0.5 1 4.5 2.5 4.9 1.6 4.2-1.6 4.4-2.5 2-3 2.4-2zM583.2 656l1.6-0.3 2.7 2.3 4.5 7.5 0.7 0.5 6.6 2 14.5 0.5 14.4-1.7 14.5-0.7 5.3 1.4 2 1 3.1 2.5 4.1 5.5 6.7 2 3.4 1.5-0.8 3.5-4.1 3.5-5.2 3.4-2.7 4.1-8.8 11.5-3 0.9-7.2 1.1-4.1 1.5-3.2 1.9-14.4-2.6-3.3 1.7-3.5 2.5-5.2 5.5-2.5 0.6-1.5-0.6-1.6-5-2.8-3-3.4-1.5-7.2-1.5-3.6-4-3.6-7-3.3-8-1.9-9.3-14.5-1.9-2.4 5.7-2.4 8-3.1 3-3.8 2.5-2.8 1.3-5.2-1.8-9.3-2.3-13.5 1.8-5.8 2-2.8 1.5-4.6 5-2.2 3.9-4.3-0.9-10.2-1-14.5-3.7-7.4 2.7-7 3.1-14.5 1-2.5-4.6-3.8-4.5-1.7-4.5-1.8-3.5-3.7-5-4.8-5-2-3 0.7-1.5 2-2.5 6.5-6 4.6-3 6.5-2.8 9.9 5.3 4.6 1.9 14.4-5.4 14.5 7.3 14.5 1.2 14.5-7.5 8.7-3 5.7-1.4 14.5 0.9 6 1.5 3.2 1.5 2.9 2.5 2.4 4.1 14.5-6.2 2.2-3.9 2.8-3 2.6-1.5zM702.5 669.5l12.6-0.3 5 2.3 3.5 2.5 2.2 4 2.6 3 7.3 5.5 0.5 0.5-0.5 1-2 1.5-4.1 2.2-6.9 1.3-7.6 0.6-9.4 2.9-5.1 2.7-6.5-5.7-2.1-3.5-5.2-5.5-0.6-0.5-6.8-2-3.3-1.5-0.1-0.5 2.1-1 8.1-2.2 3.4-2.8 4.9-2.5 6.1-2zM787.1 670.5l0.4-0.3 0 26.8-4.6-5-0.8-1.5-2.8-2.5 2.6-8.5 0.5-4 2-2.5z"/>
<path fill="#7ccc5c" d="M322.5 645l1.8-0.4 2.9 1.4 6.3 3.5 5.3 3.6 14.4-0.7 14.5 1.1 14.5-6.3 14.1 13.8 4.9 2.5 3.7 3.5 1.5 10.5-0.5 8.5-1.7 8-3.4 6.5-4 14-10.9 9.5-3.7 4.2-14.5-7.7-14.5 0.8-8.1-2.8-3.5-2-2.8-2.3-8 3.8-6.5 5-9.3 1.5-5.2 1.5-14.5 0-14.5-0.9-14.4 2.3-8-4.9-6.5-5.5-6.7 8.5-7.8 7.1-14.4 0.2-9.3 2.2-5.2 2.7-3-2.2-3.1-1.5-8.4-2.2-3.3-1.8-4.1-1.5-7.1-1.5-7.2 4.5-7.3 5.6-14.4-8.2-7.2 2.6-7.3 1.9-2.6-1.9-2.9-1.5-9-2.8-14.4 0.6-2-1.8-1.8-1-6.1-1.5-4.6-0.5-8.8 2-5.7 2 0-80.6 14.5 9.6 14.5 1.8 14.4-4 29 6 14.4 1.5 8.4-3.3 6.1-3.4 14.5-3.4 6.9 4.8 7.6 3.8 14.5 0.7 14.4 8.9 6.7-2.4 7.8-2 14.5 1 14.4-9.2 9.9-2.3 24-7.5zM107.2 700.8l-7.3 3.2-3.5 2.5-3.7 1.5 2.5 2.5 3.3 2 4.2 1.5 4.5 1 6-2 4.6-2.5 3.8-3.4 1.8-3.1-1.8-1.2zM584.4 658.5l0.4-0.2 0.6 0.7 4.7 7 3.6 1.5 5.6 1.3 14.5 1.4 14.4-1.5 14.5-0.7 4.4 2.5 4.1 3.5 3.4 4.5 2.6 5-7.1 11-3.7 5-3.7 6.2-10.9 1.3-3.6 1.8-5.5-1.3-8.9-1-4.5 2-4.5 3-2.9 3-2.6 4-1.8-5.5-2.3-3-3.5-1.5-7.1-1.5-3.6-5.5-3.4-6.5-3.1-7-1.6-5.5-1.2-10 1.2-3 2.1-3.5 2.5-3 3.2-2.5zM525.4 665l1.5-0.4 14.5 1.1 4.2 1.8 2.9 2 1.5 5-1.8 7.5-1.4 8.5-1.3 1.5-4.1 2.7-14.5-3.8-18.6 0.6-4.5 1-2.3 1.5-1.9 3.5-1 4-0.6 0.9-14.5 0.9-14.5-3.8-14.4 5.5-14.5-0.1-3.4-4.9-1.6-7-3.1-7.5-2.6-3.5-3.6-3 3.7-3 2.8-4 3.6-2.5 4.2-2.2 6.5 3.2 8 3.1 14.4-5.7 11.5 6.1 3 1.2 7.7 1.3 6.8 2 5-0.5 3.7-1 1.6-1 1.5-2 0.8-2.5 0.8-0.5 6.9-3.5zM700.1 673l15-0.4 1.7 0.9 0.7 0.5 0.9 5 1 3.5 2.8 4.5-1.7 2-9.7 2.5-3.6 2-6.6 2.6-2.9-2.6-0.9-3.5-2-5-1.3-2-2.4-2.5 2-2 1.7-3zM787.1 673.5l0.4-0.3 0 21-2-2.2-1.6-4 1.3-12.5z"/>
<path fill="#8dcb4f" d="M322.8 648.5l1.5-0.4 9.2 5.4 5.3 2.6 14.4-0.5 14.5 0.2 7.9-1.3 6.6-2.3 9 8.8 7 2.5 2.3 1.5 2.3 2 1.6 10.5 0.2 4.5-2.2 12-2.9 6.5-2.9 9.9-3.4 4.6-11 10.8-9.9-5.3-4.6-3-3.7 1-6.7 1-4.1 0.4-1.2-0.4-4-1.5-3.8-2-5.4-4.8-9 3.8-5.5 3.5-14.5 3.2-14.5 1.3-9.2-1.5-5.3-1.5-2.3 1.5-3.6 1.5-8.5 2-6.3-4-4.7-4-3.5-2-3.1 2-3.9 6-7.5 7.2-14.4-1.6-14.5 4.1-14.5-6.2-7.6-1.5-6.9-0.7-8.4 5.2-6.1 4.4-8.7-4.9-5.7-1.8-6.2 1.3-8.3 2.5-3.7-2-5.5-2-2.9-2.5-2.4-3.3-14.4 0.5-6.8-1.7-7.7-1.4-5.8 3.4-8.7 2.7 0-73.9 7.8 5.2 6.7 5.1 14.5 1.1 14.4-4.8 29 7.2 14.4 2.8 14.5-6.5 14.5-3.4 14.5 8.5 14.5-1.5 14.4 8.8 14.5-5.1 14.5 1.8 7.9-4 6.5-4.2 14.5-2.9 4.2-2.4 5.8-2.5zM107.2 699.6l-9 3.9-7.9 4.5 2.4 5 4.1 2 6.1 1.5 4.3 0.4 5.1-0.9 5.6-2.5 3.7-2.4 2.2-3.1 1.7-4-3.9-2.6zM584.7 662l2.5 3.5 1.9 1.5 10.2 3.6 14.5 1.6 14.4-1.1 14.5 0.1 4.6 3.3 3.4 3.5 1.4 2 0.7 3.5-10.1 15.6-8.2 2.9-7.7 2-13 0.9-4.8 1.1-2.5 1-3.1 2-4.1 4.3-1.2-2.8-1.5-1.5-5.6-2-6.2-4.1-5.8-10.4-2.6-5.5-1.9-5.5 0.2-5.5 0.6-4 3.9-5.5 2.7-2.5zM525.6 668l1.3-0.5 14.5 1.4 1.1 0.6 0.3 5-0.5 16-0.1 0.5-0.8 0.6-2.2-0.6-1.1-1-2.2-1-11.9-1.5 0-16zM468.5 671l0.5-0.2 3.3 1.7 2 2.5 2.4 1.5 8.8 2 2.8 1 0 20-4.8 1.1-4.1-1.1-1.4-1-2.8-1-6.2-0.9-7.9 1.4-1.9 1-1.4 1.5-3.2 1.4-14.5-1.2-0.6-1.2-0.7-13.5-1.1-7 1.3-7 1.1-0.7 1.4 0.7 1.8 2.5 1.7 1 1.8 0.5 7.8 0.7 5.7-1.2 2.1-1 2.3-2z"/>
<path fill="#9ec942" d="M322.9 652l1.4-0.4 7 3.9 7.5 3.6 14.4-0.4 29-1.5 4.5 4.3 3.8 1.5 6.1 1.2 4 2.8 1.9 10.5 0.3 4.5-2.3 12.5-3.9 11.5-3.5 4-3.2 5-2.8 3.5-4.9 4.9-7.8-4.4-6.7-4.5-6.5 2.5-8 1.4-6.5-2.9-3.6-4-4.3-3.4-8.4 2.9-6.1 3-19.1 4.5-9.9 1.6-7.6-2.1-6.9-3.2-3.5 3.2-2.4 1.5-3.3 1.5-5.2 1.6-5.3-3.6-4-3.5-5.2-2.6-3.8 2.1-2.5 2-3.2 6-5 4.8-7.3-1.3-7.1-2.3-14.5 3.5-14.5-6.6-14.5 0.5-3.6 1.9-10.9 7.3-5.4-2.8-9-2.4-8.4 1.4-6.1 1.5-4.5-2-3.7-2.5-6.3-9 2.1-2 1.7-2.5 2.3-6.5-3.1-2.5-3-1.6-14.4-1.4-9.6 4-9.7 5.5 1.1 5 1.6 3-2.4 2-2.6 1.5-7.4 2.9 0-67.1 7.4 5.2 7.1 5.7 14.5 0.4 14.4-5.5 18.2 4.9 25.2 7.6 14.5-6.4 14.5-3.4 14.5 8.4 6.9-2.2 7.6-1.6 14.4 8.8 7.4-3.2 7.1-2.5 14.5 2.5 7.9-3.5 6.5-3.7 14.5-2 5.1-3.8 5.6-3 6.3-2.5zM584.3 666l0.5-0.4 1.8 1.9 5.1 2.5 7.6 2.6 14.5 1.7 14.4-0.8 14.5 0.8 3.3 2.7 2.8 3-0.4 3.5-5.7 8.8-2.3 1.2-12.2 5-1.8 1.5-3.2 1.5-4 1-13 2-4.1 1.5-2.8 2.1-7.1-5.1-7.4-4.5-5.7-10.5-2.3-5.5-0.6-1.5 0.3-1.5 2-7 2.6-3.5z"/>
<path fill="#afc637" d="M323 655.5l1.3-0.4 9.2 4.9 5.3 2 14.4-0.1 14.5-1.7 3.6 0.3 10.2 1.5 4.1 2 4.3 1 6.7 0.7 1.9 1.3 1.4 7 1.1 8-2.9 15-1.5 4.5-3.2 3-2.5 3-6.3 11-2.4 2.4-4.2-2.4-2.3-2.5-2.6-2-5.4-2.5-4.9 2-3.3 2-6.3 1.5-3.3-1.5-2.5-3.5-2.3-2.5-3.2-2.5-3.1-1.9-7.6 1.9-6.9 2.6-14.5 3.6-7.3 2.3-7.2 1.6-6.9-2.6-7.6-4.9-4.3 3.4-4.9 5-5.2 2.2-3.2-2.2-1.5-2-2.3-2-2.8-1.5-4.7-1.6-4.8 2.1-3.3 2.5-1.5 2-2.4 5.5-2.5 2.4-8.4-2.4-6-3.1-14.5 2.7-14.5-6.9-5.5 1.8-9 1.5-3.1 1-3.9 2-2.7 2.5-4.8 3.1-5.9-2.1-8.5-1.6-14.5 2.2-4.4-2.6-5-8.5 1.8-4 1.2-5.5 0.2-1.5-1.3-1.5-3.4-2.5-3.6-1.5-14.4-1.2-12.4 5.2-5.1 2.5-3.1 2-1.1 1-0.1 8-2.4 2-4.8 2.1 0-60.3 9.2 6.7 5.3 4.8 14.5-0.3 7.4-3.5 7-2.8 20.4 6.3 16.7 6 6.3 2.7 14.5-6.2 14.5-3.4 14.5 8.4 6.7-3.5 7.8-2.6 10.4 6.6 4 2.1 7.5-3.6 7-2.8 14.5 3.4 8-3.1 6.4-3.1 14.5-1.3 7.9-6.6 3.3-2 3.3-1.7zM584.6 669.5l0.2-0.3 3.1 1.8 3.7 1.5 7.7 2 14.5 1.9 14.4-0.4 10.7 1 3.8 0.5 2.7 2.5-1.2 3-1.5 2.5-6.6 4-7.9 3.7-8.1 6.8-6.3 1.6-8.3 0.4-6.2 0.9-6.6-4.4-7.9-4.5-5.7-10.5-1-2.5 1.2-4 2.5-4.5z"/>
<path fill="#bec32e" d="M323.7 659l0.6-0.3 2.8 2.3 4 2 7.7 2 14.4 0 14.5-2.5 14.5 4.8 14.4 0.1 2.6 14.6-2.6 15-5.1 4-3.7 4.5-3 5.5-2.6 7.2-2.3-3.7-2.6-2.5-4-2-5.6-1.5-5.6 1.5-3.6 1.5-3.1 2-2.2 2-2.6-4.5-3-3.5-4-3-4.8-2.4-9.9 1.4-4.6 1.6-9.3 1.9-5.2 1.8-8.3 2.2-6.2 3-3.2-3-3.3-2.5-8-4.1-4.2 2.6-3.7 3-3.4 3.5-3.1 4.1-1.7-3.1-2.6-2.5-4.7-2-5.5-1.2-6.5 2.2-3.6 2.5-2.4 3.5-2 6-2-2-2.9-2-3.1-1.5-4.5-1.5-1.9-0.5-14.5 2-14.5-7.3-8.8 2.8-5.7 3.1-6.3 1.4-2.7 1-3.4 2.5-2.1 3.5-1.3-1-1.6-0.5-11.5-1-8.9 0.5-5.6 1.1-4.2-8.6 0.1-11-2.3-3-3.7-2.5-4.4-1.5-3.9-0.5-10.5-0.2-17.9 7.2-3.5 2-2.7 2.5-1.7 6-1.3 2-1.9 1.7 0-53.5 7.4 5.3 7.1 6.8 14.5-1 14.4-6.9 13.8 4.6 6 3.5 9.2 2.7 6 3.8 8.4 2.9 8.6-2.9 5.9-3.1 14.5-3.5 6.9 4.6 7.6 3.7 14.5-8.3 2.9 2.6 3.8 2.5 7.7 3.5 8.6-3 3.4-2 2.5-2 6.6 2.5 7.9 1.7 7.7-2.2 6.7-3.1 14.5-0.5 7.6-5.4 6.9-6.7 7.9-2.3zM584.7 673l7.1 2 13.5 2.5 8.5 0.9 14.4 0 9.8 1.6-0.3 3-4 2.5-5.5 2.5-7 6.5-7.4 5.5-14.5-2.3-7.4-3.7-6.4-4-0.7-0.5-2.3-3.5-2.5-5 2-4.5z"/>
<path fill="#ccc028" d="M323.9 666l6.3 1.5 8.6 1.2 14.4-1.3 14.5-0.3 4.8 1.9 4.1 2.5 3.2 3 2.4 3.4 14.4-0.1 0.8 4.2-0.8 4.4-2.7 2.6-1.8 4-2.7 4-4 4.5-3.2 6.2-6.4-3.7-8.1-3.7-6.9 4.2-7.6 4-3.5-4-10.9-8.5-14.5 1.8-10.5 2.2-4.3 1-14.2 4.5-6.5-4-8-4-2 1-5.9 4.5-6.5 5.9-14.5-7.8-2.5 1.4-6.8 6-3 2-2.2 3-6.6-2.5-7.9-2-14.4 2.2-7.6-4.2-6.9-5.2-15.4 4.7-13.6 5.9-14.4-2.2-14.5 3-1.1-3.7-0.8-5.5-1.5-3-1.8-2-2.9-2-2.1-3-1.4-1-2.9-1.1-1.3 1.6-2.3 1-13.3 1.5-12 5.1-3.9 0.9-2.4 1-3 2-2 2-3.2 5.9 0-45 5.4 4.1 4.8 4.5 4.3 2.1 16.4-1.1 6.8-1.5 5.7-2.5 4.8 2 3.5 2 3.6 3 2.6 3.2 28.9 14.2 7.4-4.4 7.1-3.6 14.5-5 6.3 3.1 8.2 3 14.5-8.1 7.7 5.1 6.7 6.5 6.6-4.5 7.9-4.3 14.5 5.3 7.1-4 7.3-3.2 14.5 1.2 14.5-12.8zM584.4 676.5l0.4-0.5 14.5 3.9 14.5 2.6 14.4-0.3 1.6 0.8-1.6 0.8-4.5 1.2-1.1 1.5-0.5 2.5-8.3 6.8-14.5-1.7-14.5-7.9-3-5.2z"/>
<path fill="#dabd28" d="M351.6 670l1.6-0.2 7.8 0.7 6.7 1.2 3.2 1.8 3.3 2.5 2.8 3 0.7 4.5 1 2.5 1.3 1.5 2.7 1.5 2.2 3.5 0 0.5-2.7 4.1-6.6-2.6-7.9-2.4-7 4.9-7.5 4.4-6.9-5.9-7.5-5.6-14.5 0.7-14.5 2.3-4.5-0.4-1.2-0.5-0.8-1-0.6-4.5 7.1-6.3 14.5-7.1 14.5-0.7zM78.2 672l0-0.3 6.6 5.3 7.9 3.7 17.9-0.7 11-1.4 4.6 2.9 1.3 1 0.1 0.5-2.6 2.5-3.6 1.5-5.5 6.5-14.6 2.5-8.6 3.9-7.3 1.6-2.2 1-2 1.5-3 4.1zM584.6 679.5l0.2-0.4 6.7 1.9-0.7 1-1 0.5-5 0.5-1.1-2zM598.5 683.5l15.3 3.1 3.1 2.4-3.1 2.5-14.5-0.9-6.5-3.6 1-2.5 0.8-0.5zM222.8 689.5l3.6 2.5 4.4 4-0.8 3.5-0.5 1-1.3 1-19.7 3.4-5.7-3.9 1-1.5 1.3-1 4.2-1.5zM293.9 694l1.4-0.5 4.2 0.5 1.6 1-5.8 2-2.8-1.5-0.3-0.5zM135.9 694.5l0.2-0.3 7.4 4.3-0.3 2-7.1 2.2-1.7-4.7 0-1z"/>
<path fill="#e6bb2d" d="M351.6 672.5l1.6-0.3 1.9 0.3 8.5 2 4.1 1.7 3.5 2.8-1.7 3-3 3-13.3 9.4-6.8-5.4-7.6-5.1-14.5-0.6-2.8-1.3 5.6-3 2.7-1 9-1.9 6.1-2.1zM78.2 675.5l6.9 4.5 7.6 2.9 14.5-0.3 5.6 0.4 1.8 0.5 1.3 1.5-0.6 4.5-3.8 4-10.2 1.5-3.4 1-2.3 1.5-2.9 1.3-8.8 1.2-3.8 1.5-1.9 1.7z"/>
<path fill="#f1ba37" d="M352.4 675l0.8-0.3 9.8 4.3-0.4 2-0.5 0.5-4.1 3-4.8 2.8-10-6.3-1.6-2 6.2-2zM78.2 679.5l0-0.4 2.8 1.9 4.4 2 7.3 2 14.5 0 2.5 2 1.5 2.5-4 4-5.9 0.5-4.8 1-2.1 1-1.7 1.6-14.5 0.8z"/>
<path fill="#fabb3d" d="M353.1 680l1.7 1-1.6 1.1-1.6-1.1zM78.2 683.5l7.1 2.5 7.4 2 14.5 1.5-2.3 0.5-1.7 1-10.5 3.4-14.5 0.8z"/>
<path fill="#fec13a" d="M78.2 687.5l10.5 3 4 0.5-14.5 0.9z"/>
<path fill="none" stroke="#969696" stroke-width="0.7" stroke-opacity="0.62" d="M787.5 792.1l-14-10.1-15-8.9-4.3 5.9-3.7 6.5-1.7 3.5-2.5 7.5-2.2 4.5-14.5 2.5-14.4-15-14.6-13.5-6.7 1-7.8 0.5-5.1-2.5-3.6-2.5-3.1-3-2.6-3.5-14.5 19.7-14.5 5.9-6.4 4.9-8.1 4.8-14.4 5.2-14.5-6-7.4-9.5-7.1-8.3-7.8-3.7-6.6-3.7-5.7 17.2-1.2 6-1.6 5-2.6 5-3.4 3.9-2.3-2.4-1.8-2.5-1.5-3-1.3-3.5-1.6-6.5-1.6-12.5-4.4-15.6-7.4 12.1-2 3.5-2.4 6-2.7 4.4-14.5-1.1-14.4 1.1-4.9-1.9-4.5-2-5.1-2.8-14.5-17.1-12 20.9-2.4 3.6-14.5 5.2-6.5-4.3-5.5-4.5-2.5-2.4-7-8.1-7.5-6.7-5.1 1.7-9.4 1.5-2.9 11-3.2 9-4 8-2.4 4-1.9 2.5-4.6-6-3.6-6.5-3.3-8-3-9.6-2.3 8.6-3.1 7-1.6 6.5-1.6 7.5-1.2 12.5M111.9 821l-2.4-4.5-2.3-3.5-8.5-1.5-6-2.2-3.6 5.2-3.2 6.5M787.5 763.9l-8.9-1.9-6.2-2-13.9-2.4-8 3.9-6.4 3.9-14.5-0.3-5.1-1.6-3.4-1.5-3.1-2-2.9-2.8-7.6-3.2-6.9-3.5-7.5 6-6.9 7.2-3.2-5.7-3.5-5-3.6-4-4.2-3.7-3.3 4.7-3.4 4-3.6 3.5-4.2 3.4-6.3 1.1-8.2 0.8-6.7 5.2-7.8 4.8-14.4-1.5-14.5-0.8-7.3-4.5-7.2-5.1-7.9-2.9-6.5-3.1-4.9 11.6-9.6 27-2.2-6.5-5.8-21.5-2.9-6-3.6-5.3-14.5 9.7-5.9-0.9-3.9-1-2.3-1-2.4-1.6-2.7 3.1-2.9 2-3.3 1.5-5.5 1.6-4.8-1.6-4.2-2-2.9-2-2.5-2.5-6.2-3.5-4.6-4-3.8-5.2-7.1 11.2-7.3 9.6-14.5 0-5.5-2.1-3.3-2-3.1-3-2.6-4-14.5-0.1-2.9 2.6-3.4 2-3.7 1.5-4.5 1.3-6.8 6.7-7.6 6-14.5-7.1-7.8 6.1-6.7 6.8-14.4-0.8-14.5 2.1-14.5 1.3-14.5 6.4-7.5 1.7-7 2-14.4 2.6-7.2-8.6-7.3-7.2-6.8 11.7-1.9 5-1.7 3.5-1.9 3-2.2 2.7-7.7-8.2-6.7-6.6-9.6 15.1-2.1 2.5-2.8 2.4-2.9-2.4-2-2.5-9.6-16-14.2-5-0.4 0-6.8 7-6.8 5.5-9.1 4-6.1 3.4-14.5-0.7-2.9-3.2-2.8-4.5-8.8-11.6-14.4-0.4-10.2-1.5-4.3-0.8-7.9-2.7-6.6-1.9M787.5 750.5l-5.3-1.5-3.4-1.5-3.5-2.5-2.3-2.7-14.5-0.7-14.4 5.2-6.9 1.7-7.6 2.6-6.6-7.1-7.7-6.5-14.7 0.3-1.7-0.3-3.9-1-3.8-1.5-2.5-1.5-2.5-2.2-3.2 0.7-11.3 0.7-14.5 14.8-14.5 4.7-23.3-1.7-5.6-1.1-7.7 2.1-6.8 1.2-20.2-9.2-8.7-4.9-4.2 6.4-4 8-3.1 8.5-3.2 10.5-2.6-10-3.2-8-3.7-4.5-5-3.5-5.7 1.5-3.4 1.5-3 2-2.4 2.4-6.3-3.4-8.2-2.5-14.4 8.2-14.5-6.7-14.5-12.6-7.8 8.1-4.2 4-3.8 3-2.5 1.5-3.4 1.5-7.2 1.9-7.5-4.9-7-6.2-14.5-1.5-4.5 5.7-2.7 2.5-3.4 2.5-6.1 3.5-4.4 3-3.2 2.5-4.6 4.5-7.1-3.5-7.4-2.9-7.7 4.4-6.8 4.4-7.7-1.9-3.9-1.5-2.8-1.5-6.3 1.5-8.2 1.3-17 1.7-12 0.5-5.5-0.5-5.1-1-3.9-1.8-2.8 1.8-2.6 1-9 1.7-14.5-1.2-4.1 3-4 3.5-3.3 3.5-3.1 3.8-5.9-1.3-8.5-1.4-4.7 3.4-3.3 3-3.5 4-3 4.5-14.5-24-3.3 1.5-3.3 1-7.9 1.5-1.3 0.5-7.1 3-6.1 3.2-7.7-1.7-4-1.5-2.7-1.5-2.9 2-3.1 1.5-8.5 2.4-14.5-11.5-7-2.4-7.4-3.7-4.3-1.3-3.5-1.5-3.7-2.5-3-3.5-2.5 2.5-3.4 2.5-3.9 2-4.7 1.7M787.5 743.7l-6.7-7.7-7.8-9.6-4.5 2.1-6.8 2-8.7 1.5-8.9 1-4.9-1-4.3-1.5-2.9-2-2.4-3.1-3.1 2.1-2.3 1-3.6 1-5.5 0.9-7.7-2.4-6.6-3-10.5-1.5-2.6-1-1.5-1-14.5 4.4-3.7 1.6-5.9 3.5-4.9 4.6-19 5.9-10 1.5-19.8-2-6.3-1-2.8-0.6-7.2-2.4-7.3-3.6-14.4-3-5.1 2.6-3.8 3-2.2 2.5-3.4 6-4-3.5-5.6-3-4.4-1.5-10.1-1.5-2.8-1-2.1-1.2-2.7 3.2-3.4 2-3 1-10.6 2.5-9.2 3-21.4-8.5-4.4-4-3.2-2.3-7.5 5.3-6.9 6.5-14.5 6.7-14.5-12.6-9.1-2.1-5.4-2.3-7.5 8.8-6.9 9.5-8.1 4-6.4 4.6-6.1-2.1-8.4-2.1-14.5 7.7-14.4-4.2-14.5 0.5-14.5 1.5-14.5 3.2-14.5-5-6.5 2.4-7.9 2.4-14.5-1.5-14.5 7.5-8-1.9-6.4-2.6-6.7 7.6-3.9 3.5-3.9 3-4.4-5.5-1.7-1.5-3.6-2.5-4.8-2.4-14.5 0.7-14.5 3.1-14.4-2.3-14.5 4-7.8-5.6-6.7-6.5-14.4-3-14.5-3.6-14.5 0.5M787.5 728.9l-2.7-3.9-3.4-3.5-3.3-2.5-5.1-2.8-8.3 2.8-6.2 3.2-14.4 3.7-2.2-1.4-3.8-1.5-8.5-1.5-14.5 0-14.5 0.6-7.3-5.1-7.1-4.4-12.9 3.9-6.8 2.5-4.4 2-4.9 2.7-8.4 3.3-9 4-11.6 6-6-1.5-22.9-4.3-8.6-2.7-5.9-2.6-6.5-0.9-7.9-0.6-14.5 0.9-14.5 5-3-1.8-2.8-1-8.7-1.6-5.2 1.1-3.9 1.5-3.3 2.5-2.1 3-11 1-3.4 0.6-14.5-0.1-2.4-4-2.4-2.5-4.6-2-5.1-1.1-4.9 1.1-4.2 1.5-2.5 1.5-2.8 2.6-8.5 2.9-6 3.1-2.8-3.1-3.1-2.5-3.5-2-4.9-2-4.1-3-3.7-1.5-6.9-1.6-4.7 4.6-5.6 4.5-4.2 2.8-2 2.7-5.1 5-3.2 2.5-4.1 2.5-8-3-6.5-3.3-4.1 2.8-3.6 3-3.4 3.5-3.4 4-4.5-2.5-5-1.5-10.9-2-8.5-1-14.5 2.2-14.5 3.7-14.5-7-7.2 4.6-7.2 3.6-14.5-1.2-14.5 5.2-14.4-4.8-14.5 11.5-6.4-3.8-8.1-3.9-6.6 0.9-7.9 1.6-14.5 1.5-14.4-1.5-14.5 1.5-4.2-3.1-3.9-3.5-3.3-3.5-3.1-4.1-5.3 1.6-9.1 1.3-8.1-2.3-20.9-7M787.5 708.9l-5.2-1.9-4-2.5-2.8-3-2.5-4.5-2.1 3-3 2.5-4.3 2-5.1 1.4-2.8 3.6-3.1 2.5-3.9 2-4.6 1.6-14.5-0.1-3.2-1-3.3-1.5-3.1-2-2.1-2-2.8-3.7-2.6 2.2-3.6 2-2.7 1-5.6 1.4-7.6-3.9-6.8-5.1-7 2.6-7.5 1.9-7.1 2.6-7.4 1.9-6.5 2.6-8 1.9-2.5 2.6-3.4 2.5-3.8 2-4.8 1.8-8-1.3-6.4-1.7-5.7 2.2-8.8 1.4-5.5-2.4-5.6-4-0.9-1-2.5-5.1-8.8-0.9-3.7-1-1.9-1.1-4.8 1.1-9.7 1.1-11.3-0.6-7.1-1-4.4-1-3.7-1.5-2.5-1.7-5 1.2-9.5 1-2.3 5.5-2.3 3-3.5 2.5-6.3 2.3-9.3-1.3-5.2-1.6-7.6-1.4-6.9-1.7-6.4 3.2-8 2.8-7 1.7-7.5 1.3-5.4-2.8-3.9-3.5-2.6-5-2.6-6.5-4.9-1-4.6-1.5-2.4-1.5-2.6-2.7-3.5 14.2-1.9 4.5-2 3.5-13 10-5 3.5-3.5 1.9-9-2.4-5.5-2-14.5 2.2-8.6-1.2-5.8-1.6-3.2 2.6-3.5 2-3.6 1.5-4.2 1.3-29 1.5-14.5-1.5-8.1 2.2-6.3 3-14.5-3.7-6.4 3.7-8.1 3.7-14.4 0.4-5.3 0.9-5.2 1.5-2.1 1-1.9 1.4-6-1.9-11.5-2.5-11.5-3-6.6 4-7.9 3.1-14.4-3.4-14.5 2.2-4.7-4.4-9.8-10.7-14.4 6.2-7.4-4.5-7.1-5.8-9.3-1.2-5.2-1M324.3 591.4l-2.5 2.1-2.4 3-1.7 3-1.7 4 1.2 4 2 4 0.3 2.5 0.5 1 0.7 0.5 3.6 0.5 2.6-2.5 1.8-2.5 2-4 1.1-3.5-1.4-4-1.6-3-2.2-3-2.3-2.1M787.5 604.1l-7 1.4-7.5 0.9-7.8-2.4-6.7-2.9-5.2 3.4-5.3 2.5-8.4 3-10 3-7.7-5.5-6.8-6.4-9.7-1.1-10.5-2-4.2-1-4.6-1.7-2.5 2.2-2.2 1.5-5.8 2.5-8.3 2-10.1 1.4-3.3 2.6-3.2 2-8 3.5-4.3 3.5-4.9 3-10.3 4.5-9.4 3.4-4-2.4-3.9-3-3.5-3.5-3.1-4-14.5 1-6.4-5.5-8-5.2-8.5 2.7-6 2.5-7.4-5-7.1-5.4-14.5 6.7-14.5-0.8-14.4 6-14.5-3.7-7.5 5.2-7 4.4-14.4 3-20.6-6.4-11.4-4.5-6.2-3.5-2.5-2-2.8-2.9-4.1 2.4-2.8 3-2.3 4.5-1.7 6.5-3.6 5.1-4.5-1.6-1.7-1.5-0.9-1.5-0.2-0.5 1.2-6.5-1-4.5-1.4-4.5-1.7-4-1.9-3.5-2.3-3-2.4 2.5-3 2-3.6 1.5-5.5 1.5-0.6 0.5-2.5 3-2.1 3.5-1.8 4.5-1.6 5.5-0.8 1.5-1.9 2-4.9 2.5-2.1 1.5-1.9 2-1.8 3 1.4 2.5 1.7 2 1.8 1.5 2.6 1.5 5.9-1.5 8.6-1.5 1.6-1 4.2-1 8.7-0.8 3.6 1.3 3.9 2 2.7 2 2.3 2.5 1.9 3.1 4.4 2.9 3.6 3 3.4 3.5 3.1 4.1 7.3-2.1 7.2-1.6 14.5-1.5 7.6 4.6 6.9 5 7-3 7.4-2.2 7.8 3.7 6.7 4.5 14.5-0.8 2.9-2.2 4.5-2 14.6-4 6.9-1.4 14.5 0 4.4-2.6 4.1-3.5 3.3-4 2.7-4.6 9-0.9 5.5-1.4 2.9 4.9 3.8 4 3.7 2.5 8.4 4 2.2 1.5 2.1 2 3 4.5 2.8 7.5 2.8-1 3-0.5 8.7-0.5 6.1-1.5 8.3-0.9 14.6-0.6 14.4-5.2 14.5-2.9 7.1 2.6 7.4 3.2 14.4 1.4 14.5 0.9 14.5-2.1 14.5 2.9 14.4 2.2 4.3 3.5 3.5 3.5 3.5 4 3.2 4.5 1.9-7 1.1-2.5 1.7-2.5 2-2 2.2-1.5 5.6-2.4M179.5 608.5l-2.7 1.5-1.8 1.5-1.7 2-1.2 2 0.8 2 2.1 2.5 1.8 1.5 2.7 1.5 14.5-2 2.2-1 2.3-1.5 1.6-1.5 1.5-2-1.5-2-1.6-1.5-2.3-1.5-2.2-1-14.5-0.5M107.2 614.5l-3.4 2.5-2.5 1.5-9.7 4-2.7 2-2.5 3-0.5 1 0.1 1.5 6.7 8.1 6.5 0.4 8 1.1 3.1-2.6 2.8-1.5 4.2-1.5 4.3-1 2.3-1 2.9-2 2.1-2.5 0.3-0.5-1.5-2-3.1-2.5-3-1.4-5.1-1.6-3.6-1.5-5.7-3.5M309.8 616.2l-10 0.8-2.7 0.5-6.4 2-9.9 2.4-6.6 3.1-7.8 2.8-29 0.8-10.6-6.6-3.8-1.6-2.4 1.1-2.2 1.5-2.9 3.5 0.7 1.5 1.8 2 2.8 2 5.2 2.5 2.2 3 9.2 8.2 14.5-10.3 1.8 1.1 12.7 10.6 2-2.1 2.6-1.5 2.8-1 7-1.4 2.8-2.1 3.1-1.5 8.6-2.3 7.8-8.2 1.1-4.5 0.6-1 1.3-1 1.7-0.5 10-1 3.7-1-0.7-1-3.6-0.5-7.4-0.3M787.5 702.4l-3.9-2.9-5.6-5.5-5-3.5-4.4 1-3.7 1.5-3.6 2.5-2.8 3.8-6.4 1.7-3 1.5-2.8 2.5-2.2 4-14.5 0-2.5-4-2.7-2.5-3.5-2-5.8-1.9-7.9 3.4-6.6 3.3-9.5-6.3-4.9-2.7-5.1 0.7-4.6 1-2.4 1-2.4 1.7-8.9 1.8-2.7 1-3.3 2-3.4 1.5-4.8 1.5-6.4 1.5-7.8 4-6.2 4.7-6.8-1.7-7.6-1.3-4.3 2.8-1.3 0.5-3.4 1-5.5 1-3-1-3-1.5-2-5-1.9-1.5-4.3-2-4.8-1-4.6-1.5-5.3-3.8-9.7 0.8-2.5 0.5-2.3 1-3-0.5-11.5-0.5-6.2-2.5-8.3-2.4-14.5 2.2-1.3 0.7-2.5 1.5-2.5 2-4.8 6-3.3 3.2-7.1-1.7-21.9-4.3-8.1 2.8-6.3 3.2-8.6 1.3-5.9 1.6-3.9-5.6-2.7-5.5-3.4-3.5-4.3-3-2.6-2.5-2.4-1.5-3.8-1.5-5.9-1.4-2.9 3.4-2.1 3-4 14.5-2.8 4.5-2.7 3.2-4 2.8-4.8 4-5.6 3.8-14.5-3.6-14.5-0.7-14.4-3.5-7.9 3.5-6.6 3.6-29 1.5-14.5-0.7-14.4 2.9-7.9-2.8-6.6-3.1-6.5 5.6-8 4.8-14.4 0.7-14.5 3.8-7.8-2.3-6.7-2.9-14.5-3-7.2 4.9-7.3 4.3-14.4-4.1-14.5 3.1-3.5-4.8-2.7-3-3.9-3-4.4-2.5-8.1 2-6.3 2-3-2-3.7-2-7.8-3-14.5 0.5M78.2 646.4l14.5 9.6 14.5 1.8 14.4-4 29 6 14.4 1.5 8.4-3.3 6.1-3.4 8.1-1.6 6.4-1.8 6.9 4.8 7.6 3.8 14.5 0.7 7.7 4.5 6.7 4.4 6.7-2.4 7.8-2 14.5 1 7.5-4.5 6.9-4.7 9.9-2.3 24-7.5 9.6-2.4 7.5 3.9 7 4.6 14.4-0.7 14.5 1.1 14.5-6.3 7.1 7.3 7 6.5 4.9 2.5 3.3 3 0.8 2 1.1 9.5 0 4-0.5 4-1.7 8-3.4 6.5-4.2 14.3-2.9 2.2-7.2 6.5-4.3 4.7-14.5-7.7-14.5 0.8-4.4-1.3-3.7-1.5-3.5-2-2.8-2.3-8 3.8-3.6 2.5-2.9 2.5-9.3 1.5-5.2 1.5-14.5 0-14.5-0.9-14.4 2.3-8-4.9-6.5-5.5-6.7 8.5-3.5 3.5-4.3 3.6-14.4 0.2-5.9 1.2-3.4 1-5.2 2.7-3-2.2-3.1-1.5-8.4-2.2-3.3-1.8-4.1-1.5-7.1-1.5-7.2 4.5-7.3 5.6-14.4-8.2-7.2 2.6-7.3 1.9-2.6-1.9-2.9-1.5-9-2.8-14.4 0.6-2-1.8-1.8-1-6.1-1.5-4.6-0.5-8.8 2-5.7 2M584.4 658.5l0.4-0.2 0.6 0.7 4.7 7 3.6 1.5 5.6 1.3 14.5 1.4 14.4-1.5 14.5-0.7 4.4 2.5 4.1 3.5 3.4 4.5 2.6 5-7.1 11-3.7 5-3.7 6.2-10.9 1.3-1.5 0.5-2.1 1.3-5.5-1.3-8.9-1-4.5 2-4.5 3-2.9 3-2.6 4-1.8-5.5-2.3-3-3.5-1.5-5.9-1-1.2-0.5-3.6-5.5-3.4-6.5-3.1-7-1.6-5.5-1.2-10 1.2-3 2.1-3.5 2.5-3 3.2-2.5 3.7-2M525.4 665l1.5-0.4 14.5 1.1 4.2 1.8 2.9 2 1.5 5-1.8 7.5-1.4 8.5-0.1 0.5-1.2 1-4.1 2.7-14.5-3.8-14.5 0.2-4.1 0.4-4.5 1-2.3 1.5-1.9 3.5-1 4-0.6 0.9-14.5 0.9-14.5-3.8-14.4 5.5-14.5-0.1-3.4-4.9-1.6-7-3.1-7.5-2.6-3.5-3.6-3 3.7-3 2.8-4 3.6-2.5 4.2-2.2 6.5 3.2 8 3.1 14.4-5.7 11.5 6.1 3 1.2 7.7 1.3 6.8 2 5-0.5 3.7-1 1.6-1 1.5-2 0.8-2.5 0.8-0.5 6.9-3.5 7.1-2.5M700.1 673l15-0.4 1.7 0.9 0.7 0.5 0.9 5 1 3.5 1.3 2.5 1.5 2-1.7 2-9.7 2.5-3.6 2-6.6 2.6-2.9-2.6-0.9-3.5-2-5-1.3-2-2.4-2.5 2-2 1.7-3 5.3-2.5M787.5 694.2l-2-2.2-1.6-4 1.1-8.5 0.2-4 2.3-2.3M107.2 700.8l-7.3 3.2-3.5 2.5-3.7 1.5 2.5 2.5 3.3 2 4.2 1.5 4.5 1 6-2 4.6-2.5 3.8-3.4 1.8-3.1-1.8-1.2-14.4-2M78.2 664.2l7.4 5.3 7.1 6.8 14.5-1 6.5-2.8 7.9-4.1 7.1 2.6 6.7 2 6 3.5 4.4 1.5 4.8 1.2 3.2 2.3 2.8 1.5 8.4 2.9 8.6-2.9 5.9-3.1 8.7-1.9 5.8-1.6 6.9 4.6 7.6 3.7 14.5-8.3 2.9 2.6 3.8 2.5 7.7 3.5 5.1-1.5 3.5-1.5 3.4-2 2.5-2 6.6 2.5 7.9 1.7 7.7-2.2 6.7-3.1 14.5-0.5 7.6-5.4 6.9-6.7 7.9-2.3 3.4-1.5 3.2-1.8 2.8 2.3 2.8 1.5 4.3 1.5 4.6 1 14.4 0 7.2-1 7.3-1.5 14.5 4.8 14.4 0.1 2.6 14.6-2.6 15-5.1 4-3.7 4.5-3 5.5-2.6 7.2-2.3-3.7-2.6-2.5-4-2-5.6-1.5-5.6 1.5-3.6 1.5-3.1 2-2.2 2-2.6-4.5-3-3.5-4-3-4.8-2.4-9.9 1.4-4.6 1.6-9.3 1.9-5.2 1.8-8.3 2.2-3.5 1.5-2.7 1.5-3.2-3-3.3-2.5-3.4-2-4.6-2.1-4.2 2.6-3.7 3-3.4 3.5-3.1 4.1-1.7-3.1-2.6-2.5-4.7-2-5.5-1.2-6.5 2.2-3.6 2.5-2.4 3.5-2 6-2-2-2.9-2-3.1-1.5-4.5-1.5-1.9-0.5-14.5 2-6.5-3.5-8-3.8-8.8 2.8-5.7 3.1-6.3 1.4-2.7 1-1.7 1-1.7 1.5-2.1 3.5-1.3-1-1.6-0.5-11.5-1-8.9 0.5-3.8 0.5-1.8 0.6-4.2-8.6 0.1-11-2.3-3-3.7-2.5-4.4-1.5-3.9-0.5-10.5-0.2-17.9 7.2-3.5 2-2.7 2.5-0.8 3.5-0.9 2.5-1.3 2-1.9 1.7M584.7 673l7.1 2 13.5 2.5 8.5 0.9 14.4 0 9.8 1.6-0.3 3-4 2.5-5.5 2.5-7 6.5-7.4 5.5-14.5-2.3-7.4-3.7-6.4-4-0.7-0.5-2.3-3.5-2.5-5 2-4.5 2.7-3.5M352.4 675l0.8-0.3 9.8 4.3-0.4 2-0.5 0.5-4.1 3-4.8 2.8-10-6.3-1.6-2 6.2-2 4.6-2M78.2 679.1l2.8 1.9 3.1 1.5 8.6 2.5 14.5 0 2.5 2 1.5 2.5-4 4-5.9 0.5-4.8 1-2.1 1-1.7 1.6-14.5 0.8"/>
</g>
<path fill="#fff" d="M194 393 194 387.2 198.5 387.1 199.5 386.3 204.5 386.2 205.5 385.4 208.5 385.1 324.2 385.1 327.2 385.4 328.2 386.2 333.2 386.3 334.2 387.1 338.8 387.2 338.8 393zM353.2 393 353.2 387.2 357.7 387.1 358.7 386.3 363.7 386.2 364.7 385.4 367.7 385.1 370.7 385.4 371.7 386.2 376.7 386.3 377.7 387.1 382.2 387.2 382.2 393zM396.6 393 396.6 387.2 401.1 387.1 402.1 386.3 407.1 386.2 408.1 385.4 411.1 385.1 425.6 385.1 428.6 385.4 429.6 386.2 434.6 386.3 435.6 387.1 440.1 387.2 440.1 393zM454.5 393 454.5 387.2 459 387.1 460 386.3 465 386.2 466 385.4 469 385.1 483.5 385.1 486.5 385.4 487.5 386.2 492.5 386.3 493.5 387.1 498 387.2 498 393zM512.5 393 512.5 387.2 517 387.1 518 386.3 523 386.2 524 385.4 527 385.1 541.4 385.1 544.4 385.4 545.4 386.2 550.4 386.3 551.4 387.1 555.9 387.2 555.9 393zM570.4 393 570.4 387.2 574.9 387.1 575.9 386.3 580.9 386.2 581.9 385.4 584.9 385.1 657.2 385.1 660.2 385.4 661.2 386.2 666.2 386.3 667.2 387.1 671.7 387.2 671.7 393zM686.1 393 686.1 387.2 690.6 387.1 691.6 386.3 696.6 386.2 697.6 385.4 700.6 385.1 990.1 385.1 993.1 385.4 994.1 386.2 999.1 386.3 1000.1 387.1 1004.6 387.2 1004.6 393zM194 822 194 816.1 198.5 816 199.5 815.2 204.5 815.1 205.5 814.3 208.5 814 324.2 814 327.2 814.3 328.2 815.1 333.2 815.2 334.2 816 338.8 816.1 338.8 822zM353.2 822 353.2 816.1 357.7 816 358.7 815.2 363.7 815.1 364.7 814.3 367.7 814 370.7 814.3 371.7 815.1 376.7 815.2 377.7 816 382.2 816.1 382.2 822zM396.6 822 396.6 816.1 401.1 816 402.1 815.2 407.1 815.1 408.1 814.3 411.1 814 425.6 814 428.6 814.3 429.6 815.1 434.6 815.2 435.6 816 440.1 816.1 440.1 822zM454.5 822 454.5 816.1 459 816 460 815.2 465 815.1 466 814.3 469 814 483.5 814 486.5 814.3 487.5 815.1 492.5 815.2 493.5 816 498 816.1 498 822zM512.5 822 512.5 816.1 517 816 518 815.2 523 815.1 524 814.3 527 814 541.4 814 544.4 814.3 545.4 815.1 550.4 815.2 551.4 816 555.9 816.1 555.9 822zM570.4 822 570.4 816.1 574.9 816 575.9 815.2 580.9 815.1 581.9 814.3 584.9 814 657.2 814 660.2 814.3 661.2 815.1 666.2 815.2 667.2 816 671.7 816.1 671.7 822zM686.1 822 686.1 816.1 690.6 816 691.6 815.2 696.6 815.1 697.6 814.3 700.6 814 773 814 776 814.3 777 815.1 782 815.2 783 816 787.5 816.1 787.5 822zM801.7 393V365.3L812 365.2 812.5 363.9 825 363.8 825.5 364.9 830.8 364.9V393zM962.1 393V371.4L973 371.3 974 370.7 980 370.8 981 371.5 991 371.6V393zM874.6 38V39L875.4 46.3 882 49 888.7 50.8 895.4 49.3 903.6 47 904.3 39V38zM917.6 38V39L918.4 42.6 925 44.8 932.2 46.6 939.9 44.8 947 43V38zM947 38V61.9L954.7 63.8 962.1 65.9 969.5 63.8 976.2 61.4V38zM773 467V487L776 488.6 780 489.6 787.9 491.2V467z"/>
<path fill="none" stroke="#7d7d7d" stroke-width="1.15" d="M70.5 35.5H1012.5V147.5H70.5zM78.5 35.5v5M78.5 147.5v-5M92.5 35.5v5M92.5 147.5v-5M107.5 35.5v5M107.5 147.5v-5M121.5 35.5v5M121.5 147.5v-5M136.5 35.5v5M136.5 147.5v-5M150.5 35.5v5M150.5 147.5v-5M165.5 35.5v5M165.5 147.5v-5M179.5 35.5v5M179.5 147.5v-5M194.5 35.5v5M194.5 147.5v-5M208.5 35.5v5M208.5 147.5v-5M223.5 35.5v5M223.5 147.5v-5M237.5 35.5v5M237.5 147.5v-5M251.5 35.5v5M251.5 147.5v-5M266.5 35.5v5M266.5 147.5v-5M280.5 35.5v5M280.5 147.5v-5M295.5 35.5v5M295.5 147.5v-5M309.5 35.5v5M309.5 147.5v-5M324.5 35.5v5M324.5 147.5v-5M338.5 35.5v5M338.5 147.5v-5M353.5 35.5v5M353.5 147.5v-5M367.5 35.5v5M367.5 147.5v-5M382.5 35.5v5M382.5 147.5v-5M396.5 35.5v5M396.5 147.5v-5M411.5 35.5v5M411.5 147.5v-5M425.5 35.5v5M425.5 147.5v-5M440.5 35.5v5M440.5 147.5v-5M454.5 35.5v5M454.5 147.5v-5M469.5 35.5v5M469.5 147.5v-5M483.5 35.5v5M483.5 147.5v-5M498.5 35.5v5M498.5 147.5v-5M512.5 35.5v5M512.5 147.5v-5M526.5 35.5v5M526.5 147.5v-5M541.5 35.5v5M541.5 147.5v-5M555.5 35.5v5M555.5 147.5v-5M570.5 35.5v5M570.5 147.5v-5M584.5 35.5v5M584.5 147.5v-5M599.5 35.5v5M599.5 147.5v-5M613.5 35.5v5M613.5 147.5v-5M628.5 35.5v5M628.5 147.5v-5M642.5 35.5v5M642.5 147.5v-5M657.5 35.5v5M657.5 147.5v-5M671.5 35.5v5M671.5 147.5v-5M686.5 35.5v5M686.5 147.5v-5M700.5 35.5v5M700.5 147.5v-5M715.5 35.5v5M715.5 147.5v-5M729.5 35.5v5M729.5 147.5v-5M744.5 35.5v5M744.5 147.5v-5M758.5 35.5v5M758.5 147.5v-5M773.5 35.5v5M773.5 147.5v-5M787.5 35.5v5M787.5 147.5v-5M802.5 35.5v5M802.5 147.5v-5M816.5 35.5v5M816.5 147.5v-5M830.5 35.5v5M830.5 147.5v-5M845.5 35.5v5M845.5 147.5v-5M859.5 35.5v5M859.5 147.5v-5M874.5 35.5v5M874.5 147.5v-5M888.5 35.5v5M888.5 147.5v-5M903.5 35.5v5M903.5 147.5v-5M917.5 35.5v5M917.5 147.5v-5M932.5 35.5v5M932.5 147.5v-5M946.5 35.5v5M946.5 147.5v-5M961.5 35.5v5M961.5 147.5v-5M975.5 35.5v5M975.5 147.5v-5M990.5 35.5v5M990.5 147.5v-5M1004.5 35.5v5M1004.5 147.5v-5M112.5 35.5v9.5M112.5 147.5v-9.5M245.5 35.5v9.5M245.5 147.5v-9.5M376.5 35.5v9.5M376.5 147.5v-9.5M507.5 35.5v9.5M507.5 147.5v-9.5M641.5 35.5v9.5M641.5 147.5v-9.5M774.5 35.5v9.5M774.5 147.5v-9.5M906.5 35.5v9.5M906.5 147.5v-9.5M70.5 158.5H1012.5V393.5H70.5zM78.5 158.5v5M78.5 393.5v-5M92.5 158.5v5M92.5 393.5v-5M107.5 158.5v5M107.5 393.5v-5M121.5 158.5v5M121.5 393.5v-5M136.5 158.5v5M136.5 393.5v-5M150.5 158.5v5M150.5 393.5v-5M165.5 158.5v5M165.5 393.5v-5M179.5 158.5v5M179.5 393.5v-5M194.5 158.5v5M194.5 393.5v-5M208.5 158.5v5M208.5 393.5v-5M223.5 158.5v5M223.5 393.5v-5M237.5 158.5v5M237.5 393.5v-5M251.5 158.5v5M251.5 393.5v-5M266.5 158.5v5M266.5 393.5v-5M280.5 158.5v5M280.5 393.5v-5M295.5 158.5v5M295.5 393.5v-5M309.5 158.5v5M309.5 393.5v-5M324.5 158.5v5M324.5 393.5v-5M338.5 158.5v5M338.5 393.5v-5M353.5 158.5v5M353.5 393.5v-5M367.5 158.5v5M367.5 393.5v-5M382.5 158.5v5M382.5 393.5v-5M396.5 158.5v5M396.5 393.5v-5M411.5 158.5v5M411.5 393.5v-5M425.5 158.5v5M425.5 393.5v-5M440.5 158.5v5M440.5 393.5v-5M454.5 158.5v5M454.5 393.5v-5M469.5 158.5v5M469.5 393.5v-5M483.5 158.5v5M483.5 393.5v-5M498.5 158.5v5M498.5 393.5v-5M512.5 158.5v5M512.5 393.5v-5M526.5 158.5v5M526.5 393.5v-5M541.5 158.5v5M541.5 393.5v-5M555.5 158.5v5M555.5 393.5v-5M570.5 158.5v5M570.5 393.5v-5M584.5 158.5v5M584.5 393.5v-5M599.5 158.5v5M599.5 393.5v-5M613.5 158.5v5M613.5 393.5v-5M628.5 158.5v5M628.5 393.5v-5M642.5 158.5v5M642.5 393.5v-5M657.5 158.5v5M657.5 393.5v-5M671.5 158.5v5M671.5 393.5v-5M686.5 158.5v5M686.5 393.5v-5M700.5 158.5v5M700.5 393.5v-5M715.5 158.5v5M715.5 393.5v-5M729.5 158.5v5M729.5 393.5v-5M744.5 158.5v5M744.5 393.5v-5M758.5 158.5v5M758.5 393.5v-5M773.5 158.5v5M773.5 393.5v-5M787.5 158.5v5M787.5 393.5v-5M802.5 158.5v5M802.5 393.5v-5M816.5 158.5v5M816.5 393.5v-5M830.5 158.5v5M830.5 393.5v-5M845.5 158.5v5M845.5 393.5v-5M859.5 158.5v5M859.5 393.5v-5M874.5 158.5v5M874.5 393.5v-5M888.5 158.5v5M888.5 393.5v-5M903.5 158.5v5M903.5 393.5v-5M917.5 158.5v5M917.5 393.5v-5M932.5 158.5v5M932.5 393.5v-5M946.5 158.5v5M946.5 393.5v-5M961.5 158.5v5M961.5 393.5v-5M975.5 158.5v5M975.5 393.5v-5M990.5 158.5v5M990.5 393.5v-5M1004.5 158.5v5M1004.5 393.5v-5M112.5 158.5v9.5M112.5 393.5v-9.5M245.5 158.5v9.5M245.5 393.5v-9.5M376.5 158.5v9.5M376.5 393.5v-9.5M507.5 158.5v9.5M507.5 393.5v-9.5M641.5 158.5v9.5M641.5 393.5v-9.5M774.5 158.5v9.5M774.5 393.5v-9.5M906.5 158.5v9.5M906.5 393.5v-9.5M70.5 35.5h10M1012.5 35.5h-10M70.5 72.5h10M1012.5 72.5h-10M70.5 110.5h10M1012.5 110.5h-10M70.5 147.5h10M1012.5 147.5h-10M70.5 186.5h10M1012.5 186.5h-10M70.5 258.5h10M1012.5 258.5h-10M70.5 329.5h10M1012.5 329.5h-10"/>
<g font-family="'Liberation Sans', sans-serif" font-size="14.67" fill="#7a7a7a">
<text x="68.4" y="40.5" text-anchor="end">0</text>
<text x="67" y="77.5" text-anchor="end">-100</text>
<text x="67" y="115.5" text-anchor="end">-200</text>
<text x="67" y="152.5" text-anchor="end">-300</text>
<text x="67" y="191.5" text-anchor="end">-500</text>
<text x="67" y="263.5" text-anchor="end">-1000</text>
<text x="67" y="334.5" text-anchor="end">-1500</text>
<text x="112.5" y="413" text-anchor="middle">Oct10</text>
<text x="245.8" y="413" text-anchor="middle">Jan11</text>
<text x="376.2" y="413" text-anchor="middle">Apr11</text>
<text x="508" y="413" text-anchor="middle">Jul11</text>
<text x="641.3" y="413" text-anchor="middle">Oct11</text>
<text x="774.6" y="413" text-anchor="middle">Jan12</text>
<text x="906.4" y="413" text-anchor="middle">Apr12</text>
</g>
<path fill="none" stroke="#7d7d7d" stroke-width="1.15" d="M70.5 464.5H1012.5V577.5H70.5zM78.5 464.5v5M78.5 577.5v-5M92.5 464.5v5M92.5 577.5v-5M107.5 464.5v5M107.5 577.5v-5M121.5 464.5v5M121.5 577.5v-5M136.5 464.5v5M136.5 577.5v-5M150.5 464.5v5M150.5 577.5v-5M165.5 464.5v5M165.5 577.5v-5M179.5 464.5v5M179.5 577.5v-5M194.5 464.5v5M194.5 577.5v-5M208.5 464.5v5M208.5 577.5v-5M223.5 464.5v5M223.5 577.5v-5M237.5 464.5v5M237.5 577.5v-5M251.5 464.5v5M251.5 577.5v-5M266.5 464.5v5M266.5 577.5v-5M280.5 464.5v5M280.5 577.5v-5M295.5 464.5v5M295.5 577.5v-5M309.5 464.5v5M309.5 577.5v-5M324.5 464.5v5M324.5 577.5v-5M338.5 464.5v5M338.5 577.5v-5M353.5 464.5v5M353.5 577.5v-5M367.5 464.5v5M367.5 577.5v-5M382.5 464.5v5M382.5 577.5v-5M396.5 464.5v5M396.5 577.5v-5M411.5 464.5v5M411.5 577.5v-5M425.5 464.5v5M425.5 577.5v-5M440.5 464.5v5M440.5 577.5v-5M454.5 464.5v5M454.5 577.5v-5M469.5 464.5v5M469.5 577.5v-5M483.5 464.5v5M483.5 577.5v-5M498.5 464.5v5M498.5 577.5v-5M512.5 464.5v5M512.5 577.5v-5M526.5 464.5v5M526.5 577.5v-5M541.5 464.5v5M541.5 577.5v-5M555.5 464.5v5M555.5 577.5v-5M570.5 464.5v5M570.5 577.5v-5M584.5 464.5v5M584.5 577.5v-5M599.5 464.5v5M599.5 577.5v-5M613.5 464.5v5M613.5 577.5v-5M628.5 464.5v5M628.5 577.5v-5M642.5 464.5v5M642.5 577.5v-5M657.5 464.5v5M657.5 577.5v-5M671.5 464.5v5M671.5 577.5v-5M686.5 464.5v5M686.5 577.5v-5M700.5 464.5v5M700.5 577.5v-5M715.5 464.5v5M715.5 577.5v-5M729.5 464.5v5M729.5 577.5v-5M744.5 464.5v5M744.5 577.5v-5M758.5 464.5v5M758.5 577.5v-5M773.5 464.5v5M773.5 577.5v-5M787.5 464.5v5M787.5 577.5v-5M802.5 464.5v5M802.5 577.5v-5M816.5 464.5v5M816.5 577.5v-5M830.5 464.5v5M830.5 577.5v-5M845.5 464.5v5M845.5 577.5v-5M859.5 464.5v5M859.5 577.5v-5M874.5 464.5v5M874.5 577.5v-5M888.5 464.5v5M888.5 577.5v-5M903.5 464.5v5M903.5 577.5v-5M917.5 464.5v5M917.5 577.5v-5M932.5 464.5v5M932.5 577.5v-5M946.5 464.5v5M946.5 577.5v-5M961.5 464.5v5M961.5 577.5v-5M975.5 464.5v5M975.5 577.5v-5M990.5 464.5v5M990.5 577.5v-5M1004.5 464.5v5M1004.5 577.5v-5M112.5 464.5v9.5M112.5 577.5v-9.5M245.5 464.5v9.5M245.5 577.5v-9.5M376.5 464.5v9.5M376.5 577.5v-9.5M507.5 464.5v9.5M507.5 577.5v-9.5M641.5 464.5v9.5M641.5 577.5v-9.5M774.5 464.5v9.5M774.5 577.5v-9.5M906.5 464.5v9.5M906.5 577.5v-9.5M70.5 585.5H1012.5V822.5H70.5zM78.5 585.5v5M78.5 822.5v-5M92.5 585.5v5M92.5 822.5v-5M107.5 585.5v5M107.5 822.5v-5M121.5 585.5v5M121.5 822.5v-5M136.5 585.5v5M136.5 822.5v-5M150.5 585.5v5M150.5 822.5v-5M165.5 585.5v5M165.5 822.5v-5M179.5 585.5v5M179.5 822.5v-5M194.5 585.5v5M194.5 822.5v-5M208.5 585.5v5M208.5 822.5v-5M223.5 585.5v5M223.5 822.5v-5M237.5 585.5v5M237.5 822.5v-5M251.5 585.5v5M251.5 822.5v-5M266.5 585.5v5M266.5 822.5v-5M280.5 585.5v5M280.5 822.5v-5M295.5 585.5v5M295.5 822.5v-5M309.5 585.5v5M309.5 822.5v-5M324.5 585.5v5M324.5 822.5v-5M338.5 585.5v5M338.5 822.5v-5M353.5 585.5v5M353.5 822.5v-5M367.5 585.5v5M367.5 822.5v-5M382.5 585.5v5M382.5 822.5v-5M396.5 585.5v5M396.5 822.5v-5M411.5 585.5v5M411.5 822.5v-5M425.5 585.5v5M425.5 822.5v-5M440.5 585.5v5M440.5 822.5v-5M454.5 585.5v5M454.5 822.5v-5M469.5 585.5v5M469.5 822.5v-5M483.5 585.5v5M483.5 822.5v-5M498.5 585.5v5M498.5 822.5v-5M512.5 585.5v5M512.5 822.5v-5M526.5 585.5v5M526.5 822.5v-5M541.5 585.5v5M541.5 822.5v-5M555.5 585.5v5M555.5 822.5v-5M570.5 585.5v5M570.5 822.5v-5M584.5 585.5v5M584.5 822.5v-5M599.5 585.5v5M599.5 822.5v-5M613.5 585.5v5M613.5 822.5v-5M628.5 585.5v5M628.5 822.5v-5M642.5 585.5v5M642.5 822.5v-5M657.5 585.5v5M657.5 822.5v-5M671.5 585.5v5M671.5 822.5v-5M686.5 585.5v5M686.5 822.5v-5M700.5 585.5v5M700.5 822.5v-5M715.5 585.5v5M715.5 822.5v-5M729.5 585.5v5M729.5 822.5v-5M744.5 585.5v5M744.5 822.5v-5M758.5 585.5v5M758.5 822.5v-5M773.5 585.5v5M773.5 822.5v-5M787.5 585.5v5M787.5 822.5v-5M802.5 585.5v5M802.5 822.5v-5M816.5 585.5v5M816.5 822.5v-5M830.5 585.5v5M830.5 822.5v-5M845.5 585.5v5M845.5 822.5v-5M859.5 585.5v5M859.5 822.5v-5M874.5 585.5v5M874.5 822.5v-5M888.5 585.5v5M888.5 822.5v-5M903.5 585.5v5M903.5 822.5v-5M917.5 585.5v5M917.5 822.5v-5M932.5 585.5v5M932.5 822.5v-5M946.5 585.5v5M946.5 822.5v-5M961.5 585.5v5M961.5 822.5v-5M975.5 585.5v5M975.5 822.5v-5M990.5 585.5v5M990.5 822.5v-5M1004.5 585.5v5M1004.5 822.5v-5M112.5 585.5v9.5M112.5 822.5v-9.5M245.5 585.5v9.5M245.5 822.5v-9.5M376.5 585.5v9.5M376.5 822.5v-9.5M507.5 585.5v9.5M507.5 822.5v-9.5M641.5 585.5v9.5M641.5 822.5v-9.5M774.5 585.5v9.5M774.5 822.5v-9.5M906.5 585.5v9.5M906.5 822.5v-9.5M70.5 464.5h10M1012.5 464.5h-10M70.5 502.5h10M1012.5 502.5h-10M70.5 539.5h10M1012.5 539.5h-10M70.5 577.5h10M1012.5 577.5h-10M70.5 614.5h10M1012.5 614.5h-10M70.5 686.5h10M1012.5 686.5h-10M70.5 758.5h10M1012.5 758.5h-10"/>
<g font-family="'Liberation Sans', sans-serif" font-size="14.67" fill="#7a7a7a">
<text x="68.4" y="469.5" text-anchor="end">0</text>
<text x="67" y="507.5" text-anchor="end">-100</text>
<text x="67" y="544.5" text-anchor="end">-200</text>
<text x="67" y="582.5" text-anchor="end">-300</text>
<text x="67" y="619.5" text-anchor="end">-500</text>
<text x="67" y="691.5" text-anchor="end">-1000</text>
<text x="67" y="763.5" text-anchor="end">-1500</text>
<text x="112.5" y="842" text-anchor="middle">Oct10</text>
<text x="245.8" y="842" text-anchor="middle">Jan11</text>
<text x="376.2" y="842" text-anchor="middle">Apr11</text>
<text x="508" y="842" text-anchor="middle">Jul11</text>
<text x="641.3" y="842" text-anchor="middle">Oct11</text>
<text x="774.6" y="842" text-anchor="middle">Jan12</text>
<text x="906.4" y="842" text-anchor="middle">Apr12</text>
</g>
<defs><linearGradient id="pg" x1="0" y1="1" x2="0" y2="0">
<stop offset="0.0000" stop-color="#3e26a8"/>
<stop offset="0.0159" stop-color="#402ab4"/>
<stop offset="0.0317" stop-color="#422ec0"/>
<stop offset="0.0476" stop-color="#4332cb"/>
<stop offset="0.0635" stop-color="#4537d5"/>
<stop offset="0.0794" stop-color="#463cde"/>
<stop offset="0.0952" stop-color="#4741e5"/>
<stop offset="0.1111" stop-color="#4747eb"/>
<stop offset="0.1270" stop-color="#484df0"/>
<stop offset="0.1429" stop-color="#4852f4"/>
<stop offset="0.1587" stop-color="#4758f8"/>
<stop offset="0.1746" stop-color="#465efb"/>
<stop offset="0.1905" stop-color="#4563fd"/>
<stop offset="0.2063" stop-color="#4269fe"/>
<stop offset="0.2222" stop-color="#3e6fff"/>
<stop offset="0.2381" stop-color="#3875fe"/>
<stop offset="0.2540" stop-color="#327cfc"/>
<stop offset="0.2698" stop-color="#2f81fa"/>
<stop offset="0.2857" stop-color="#2e87f7"/>
<stop offset="0.3016" stop-color="#2d8cf3"/>
<stop offset="0.3175" stop-color="#2b91ef"/>
<stop offset="0.3333" stop-color="#2797eb"/>
<stop offset="0.3492" stop-color="#259be8"/>
<stop offset="0.3651" stop-color="#23a0e5"/>
<stop offset="0.3810" stop-color="#20a5e3"/>
<stop offset="0.3968" stop-color="#1ca9df"/>
<stop offset="0.4127" stop-color="#18addb"/>
<stop offset="0.4286" stop-color="#12b1d6"/>
<stop offset="0.4444" stop-color="#08b5d0"/>
<stop offset="0.4603" stop-color="#01b8ca"/>
<stop offset="0.4762" stop-color="#02bac3"/>
<stop offset="0.4921" stop-color="#0bbdbd"/>
<stop offset="0.5079" stop-color="#19bfb6"/>
<stop offset="0.5238" stop-color="#24c1ae"/>
<stop offset="0.5397" stop-color="#2cc4a7"/>
<stop offset="0.5556" stop-color="#31c69f"/>
<stop offset="0.5714" stop-color="#37c897"/>
<stop offset="0.5873" stop-color="#3fca8e"/>
<stop offset="0.6032" stop-color="#4acb84"/>
<stop offset="0.6190" stop-color="#57cc7a"/>
<stop offset="0.6349" stop-color="#64cd6f"/>
<stop offset="0.6508" stop-color="#72cd64"/>
<stop offset="0.6667" stop-color="#81cc59"/>
<stop offset="0.6825" stop-color="#8fcb4e"/>
<stop offset="0.6984" stop-color="#9dc943"/>
<stop offset="0.7143" stop-color="#abc739"/>
<stop offset="0.7302" stop-color="#b9c431"/>
<stop offset="0.7460" stop-color="#c5c22a"/>
<stop offset="0.7619" stop-color="#d1bf27"/>
<stop offset="0.7778" stop-color="#dcbd29"/>
<stop offset="0.7937" stop-color="#e6bb2d"/>
<stop offset="0.8095" stop-color="#f0ba36"/>
<stop offset="0.8254" stop-color="#f8ba3d"/>
<stop offset="0.8413" stop-color="#febe3c"/>
<stop offset="0.8571" stop-color="#fec338"/>
<stop offset="0.8730" stop-color="#fec934"/>
<stop offset="0.8889" stop-color="#fccf30"/>
<stop offset="0.9048" stop-color="#fad62d"/>
<stop offset="0.9206" stop-color="#f7dc2a"/>
<stop offset="0.9365" stop-color="#f5e327"/>
<stop offset="0.9524" stop-color="#f5e924"/>
<stop offset="0.9683" stop-color="#f6ef20"/>
<stop offset="0.9841" stop-color="#f7f51b"/>
<stop offset="1.0000" stop-color="#f9fb15"/>
</linearGradient></defs>
<rect x="1027" y="35" width="42.6" height="358.6" fill="url(#pg)"/>
<path stroke="#8a8fa0" stroke-opacity="0.7" stroke-width="1" fill="none" d="M1069.5 35V393.6"/>
<g font-family="'Liberation Sans', sans-serif" font-size="13.2" fill="#7a7a7a">
<text x="1076.3" y="378.7">4</text>
<text x="1076.3" y="337">6</text>
<text x="1076.3" y="295.3">8</text>
<text x="1076.3" y="253.6">10</text>
<text x="1076.3" y="211.9">12</text>
<text x="1076.3" y="170.2">14</text>
<text x="1076.3" y="128.5">16</text>
<text x="1076.3" y="86.8">18</text>
<text x="1076.3" y="45.1">20</text>
</g>
<path stroke="#c8c8c8" stroke-opacity="0.45" stroke-width="1" fill="none" d="M1065.5 373.5h4M1065.5 331.5h4M1065.5 289.5h4M1065.5 248.5h4M1065.5 206.5h4M1065.5 164.5h4M1065.5 122.5h4M1065.5 81.5h4M1065.5 39.5h4"/>
<rect x="1027" y="464" width="42.6" height="358.6" fill="url(#pg)"/>
<path stroke="#8a8fa0" stroke-opacity="0.7" stroke-width="1" fill="none" d="M1069.5 464V822.6"/>
<g font-family="'Liberation Sans', sans-serif" font-size="13.2" fill="#7a7a7a">
<text x="1076.3" y="779.6">35</text>
<text x="1076.3" y="725.6">35.2</text>
<text x="1076.3" y="671.7">35.4</text>
<text x="1076.3" y="617.8">35.6</text>
<text x="1076.3" y="563.9">35.8</text>
<text x="1076.3" y="509.9">36</text>
</g>
<path stroke="#c8c8c8" stroke-opacity="0.45" stroke-width="1" fill="none" d="M1065.5 774.5h4M1065.5 720.5h4M1065.5 666.5h4M1065.5 612.5h4M1065.5 558.5h4M1065.5 504.5h4"/>
<g font-family="'Liberation Sans', sans-serif" font-size="16.2" fill="#1a1a1a" text-anchor="middle" style="white-space:pre">
<text x="541" y="31" textLength="272.5" lengthAdjust="spacing" xml:space="preserve">Temperature [ITS-90]   [ 3.52 - 19.72]</text>
<text x="540.8" y="460.4" textLength="213.6" lengthAdjust="spacing" xml:space="preserve">Salinity [psu]   [34.92 - 36.05]</text>
</g>
</svg>
</body></html>
